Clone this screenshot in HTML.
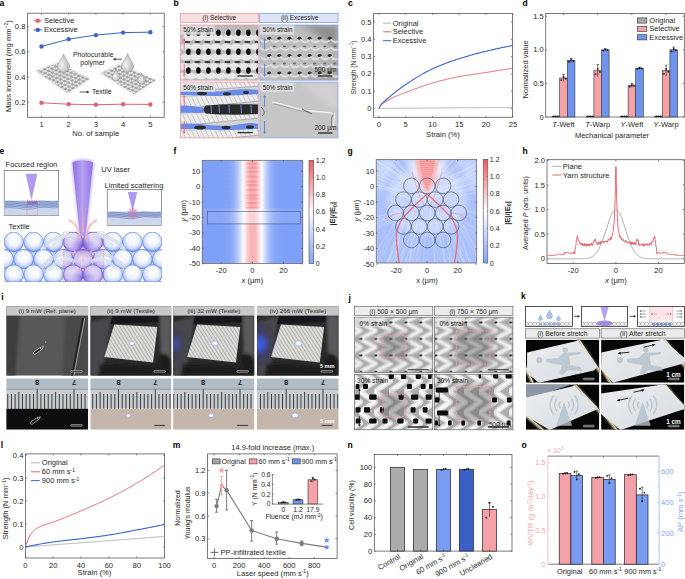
<!DOCTYPE html>
<html><head><meta charset="utf-8"><style>
html,body{margin:0;padding:0;background:#fff;width:685px;height:579px;overflow:hidden}
svg{display:block}
text{font-family:"Liberation Sans", sans-serif}
</style></head><body>
<svg width="685" height="579" viewBox="0 0 685 579">
<defs>
<pattern id="mesh" width="4.2" height="3.4" patternUnits="userSpaceOnUse" patternTransform="rotate(22) skewX(-35)">
<rect width="4.2" height="3.4" fill="#a0a0a0"/><ellipse cx="2.1" cy="1.7" rx="1.75" ry="1.3" fill="#f6f6f6"/><path d="M0,0 L4.2,3.4" stroke="#666" stroke-width="0.3"/></pattern>
<radialGradient id="drop" cx="0.35" cy="0.6" r="0.7"><stop offset="0" stop-color="#f2f2f2"/><stop offset="1" stop-color="#b0b0b0"/></radialGradient>
<filter id="blur1" x="-20%" y="-20%" width="140%" height="140%"><feGaussianBlur stdDeviation="1.2"/></filter>
<filter id="blur05"><feGaussianBlur stdDeviation="0.5"/></filter>
<clipPath id="cb1"><rect x="180.3" y="25" width="78" height="55.2"/></clipPath>
<clipPath id="cb2"><rect x="180.3" y="82.1" width="78" height="55.8"/></clipPath>
<clipPath id="cb3"><rect x="259.8" y="25" width="78.2" height="55.2"/></clipPath>
<clipPath id="cb4"><rect x="259.8" y="82.1" width="78.2" height="55.8"/></clipPath>
<filter id="bl07"><feGaussianBlur stdDeviation="0.7"/></filter>
<filter id="bl04"><feGaussianBlur stdDeviation="0.4"/></filter>
<filter id="bl15"><feGaussianBlur stdDeviation="1.5"/></filter>
<filter id="bl3"><feGaussianBlur stdDeviation="3"/></filter>
<linearGradient id="gb3" x1="0" y1="0" x2="1" y2="1"><stop offset="0" stop-color="#b8b8b8"/><stop offset="0.6" stop-color="#c0c0c0"/><stop offset="1" stop-color="#a0a0a0"/></linearGradient>
<radialGradient id="circB" cx="0.5" cy="0.42" r="0.6" fx="0.55" fy="0.35"><stop offset="0" stop-color="#ffffff"/><stop offset="0.5" stop-color="#f2f5fe"/><stop offset="0.78" stop-color="#c4d2f8"/><stop offset="0.92" stop-color="#7898ee"/><stop offset="1" stop-color="#5078e6"/></radialGradient>
<radialGradient id="circP" cx="0.5" cy="0.42" r="0.6"><stop offset="0" stop-color="#e8e2f8"/><stop offset="0.6" stop-color="#d2c8f2"/><stop offset="0.88" stop-color="#a894e8"/><stop offset="1" stop-color="#7e64dc"/></radialGradient>
<linearGradient id="coneG" x1="0" y1="0" x2="1" y2="0"><stop offset="0" stop-color="#9272e6"/><stop offset="0.5" stop-color="#b4a2f2"/><stop offset="1" stop-color="#9272e6"/></linearGradient>
<radialGradient id="glowP" cx="0.5" cy="0.5" r="0.5"><stop offset="0" stop-color="#6a40d0" stop-opacity="0.7"/><stop offset="1" stop-color="#9a80e8" stop-opacity="0"/></radialGradient>
<clipPath id="ctex"><rect x="4" y="232" width="158" height="49.6"/></clipPath>
<clipPath id="cfoc"><rect x="63.6" y="232" width="40.2" height="49.6"/></clipPath>
<linearGradient id="fTop" x1="0" y1="0" x2="1" y2="0"><stop offset="0.0000" stop-color="#7fa0f8"/><stop offset="0.0156" stop-color="#7fa0f8"/><stop offset="0.0312" stop-color="#7fa0f8"/><stop offset="0.0469" stop-color="#7fa0f8"/><stop offset="0.0625" stop-color="#7fa0f8"/><stop offset="0.0781" stop-color="#7fa0f8"/><stop offset="0.0938" stop-color="#7fa0f8"/><stop offset="0.1094" stop-color="#7fa0f8"/><stop offset="0.1250" stop-color="#7fa0f8"/><stop offset="0.1406" stop-color="#7fa0f8"/><stop offset="0.1562" stop-color="#7fa0f8"/><stop offset="0.1719" stop-color="#7fa0f8"/><stop offset="0.1875" stop-color="#7fa0f8"/><stop offset="0.2031" stop-color="#7fa0f8"/><stop offset="0.2188" stop-color="#80a1f8"/><stop offset="0.2344" stop-color="#81a1f8"/><stop offset="0.2500" stop-color="#82a2f8"/><stop offset="0.2656" stop-color="#84a4f8"/><stop offset="0.2812" stop-color="#88a7f8"/><stop offset="0.2969" stop-color="#8daaf9"/><stop offset="0.3125" stop-color="#94b0f9"/><stop offset="0.3281" stop-color="#9eb7fa"/><stop offset="0.3438" stop-color="#abc1fa"/><stop offset="0.3594" stop-color="#bbccfb"/><stop offset="0.3750" stop-color="#cddafc"/><stop offset="0.3906" stop-color="#e1e9fd"/><stop offset="0.4062" stop-color="#f6f8ff"/><stop offset="0.4219" stop-color="#fef0f1"/><stop offset="0.4375" stop-color="#fbd8da"/><stop offset="0.4531" stop-color="#fac4c7"/><stop offset="0.4688" stop-color="#f8b6b9"/><stop offset="0.4844" stop-color="#f8aeb2"/><stop offset="0.5000" stop-color="#f8acb0"/><stop offset="0.5156" stop-color="#f8aeb2"/><stop offset="0.5312" stop-color="#f8b6b9"/><stop offset="0.5469" stop-color="#fac4c7"/><stop offset="0.5625" stop-color="#fbd8da"/><stop offset="0.5781" stop-color="#fef0f1"/><stop offset="0.5938" stop-color="#f6f8ff"/><stop offset="0.6094" stop-color="#e1e9fd"/><stop offset="0.6250" stop-color="#cddafc"/><stop offset="0.6406" stop-color="#bbccfb"/><stop offset="0.6562" stop-color="#abc1fa"/><stop offset="0.6719" stop-color="#9eb7fa"/><stop offset="0.6875" stop-color="#94b0f9"/><stop offset="0.7031" stop-color="#8daaf9"/><stop offset="0.7188" stop-color="#88a7f8"/><stop offset="0.7344" stop-color="#84a4f8"/><stop offset="0.7500" stop-color="#82a2f8"/><stop offset="0.7656" stop-color="#81a1f8"/><stop offset="0.7812" stop-color="#80a1f8"/><stop offset="0.7969" stop-color="#7fa0f8"/><stop offset="0.8125" stop-color="#7fa0f8"/><stop offset="0.8281" stop-color="#7fa0f8"/><stop offset="0.8438" stop-color="#7fa0f8"/><stop offset="0.8594" stop-color="#7fa0f8"/><stop offset="0.8750" stop-color="#7fa0f8"/><stop offset="0.8906" stop-color="#7fa0f8"/><stop offset="0.9062" stop-color="#7fa0f8"/><stop offset="0.9219" stop-color="#7fa0f8"/><stop offset="0.9375" stop-color="#7fa0f8"/><stop offset="0.9531" stop-color="#7fa0f8"/><stop offset="0.9688" stop-color="#7fa0f8"/><stop offset="0.9844" stop-color="#7fa0f8"/><stop offset="1.0000" stop-color="#7fa0f8"/></linearGradient>
<linearGradient id="fTop2" x1="0" y1="0" x2="1" y2="0"><stop offset="0.0000" stop-color="#7fa0f8"/><stop offset="0.0156" stop-color="#7fa0f8"/><stop offset="0.0312" stop-color="#7fa0f8"/><stop offset="0.0469" stop-color="#7fa0f8"/><stop offset="0.0625" stop-color="#7fa0f8"/><stop offset="0.0781" stop-color="#7fa0f8"/><stop offset="0.0938" stop-color="#7fa0f8"/><stop offset="0.1094" stop-color="#7fa0f8"/><stop offset="0.1250" stop-color="#7fa0f8"/><stop offset="0.1406" stop-color="#7fa0f8"/><stop offset="0.1562" stop-color="#7fa0f8"/><stop offset="0.1719" stop-color="#7fa0f8"/><stop offset="0.1875" stop-color="#7fa0f8"/><stop offset="0.2031" stop-color="#7fa0f8"/><stop offset="0.2188" stop-color="#80a0f8"/><stop offset="0.2344" stop-color="#80a1f8"/><stop offset="0.2500" stop-color="#81a2f8"/><stop offset="0.2656" stop-color="#83a3f8"/><stop offset="0.2812" stop-color="#86a5f8"/><stop offset="0.2969" stop-color="#8ba9f9"/><stop offset="0.3125" stop-color="#92aef9"/><stop offset="0.3281" stop-color="#9cb6fa"/><stop offset="0.3438" stop-color="#a9c0fa"/><stop offset="0.3594" stop-color="#bbccfb"/><stop offset="0.3750" stop-color="#cfdbfc"/><stop offset="0.3906" stop-color="#e6edfe"/><stop offset="0.4062" stop-color="#ffffff"/><stop offset="0.4219" stop-color="#fcdfe1"/><stop offset="0.4375" stop-color="#f9c2c5"/><stop offset="0.4531" stop-color="#f7a9ad"/><stop offset="0.4688" stop-color="#f6979c"/><stop offset="0.4844" stop-color="#f58d92"/><stop offset="0.5000" stop-color="#f48a90"/><stop offset="0.5156" stop-color="#f58d92"/><stop offset="0.5312" stop-color="#f6979c"/><stop offset="0.5469" stop-color="#f7a9ad"/><stop offset="0.5625" stop-color="#f9c2c5"/><stop offset="0.5781" stop-color="#fcdfe1"/><stop offset="0.5938" stop-color="#ffffff"/><stop offset="0.6094" stop-color="#e6edfe"/><stop offset="0.6250" stop-color="#cfdbfc"/><stop offset="0.6406" stop-color="#bbccfb"/><stop offset="0.6562" stop-color="#a9c0fa"/><stop offset="0.6719" stop-color="#9cb6fa"/><stop offset="0.6875" stop-color="#92aef9"/><stop offset="0.7031" stop-color="#8ba9f9"/><stop offset="0.7188" stop-color="#86a5f8"/><stop offset="0.7344" stop-color="#83a3f8"/><stop offset="0.7500" stop-color="#81a2f8"/><stop offset="0.7656" stop-color="#80a1f8"/><stop offset="0.7812" stop-color="#80a0f8"/><stop offset="0.7969" stop-color="#7fa0f8"/><stop offset="0.8125" stop-color="#7fa0f8"/><stop offset="0.8281" stop-color="#7fa0f8"/><stop offset="0.8438" stop-color="#7fa0f8"/><stop offset="0.8594" stop-color="#7fa0f8"/><stop offset="0.8750" stop-color="#7fa0f8"/><stop offset="0.8906" stop-color="#7fa0f8"/><stop offset="0.9062" stop-color="#7fa0f8"/><stop offset="0.9219" stop-color="#7fa0f8"/><stop offset="0.9375" stop-color="#7fa0f8"/><stop offset="0.9531" stop-color="#7fa0f8"/><stop offset="0.9688" stop-color="#7fa0f8"/><stop offset="0.9844" stop-color="#7fa0f8"/><stop offset="1.0000" stop-color="#7fa0f8"/></linearGradient>
<linearGradient id="fMid" x1="0" y1="0" x2="1" y2="0"><stop offset="0.0000" stop-color="#8aa8f9"/><stop offset="0.0156" stop-color="#8aa8f9"/><stop offset="0.0312" stop-color="#8aa8f9"/><stop offset="0.0469" stop-color="#8aa8f9"/><stop offset="0.0625" stop-color="#8aa8f9"/><stop offset="0.0781" stop-color="#8aa8f9"/><stop offset="0.0938" stop-color="#8aa8f9"/><stop offset="0.1094" stop-color="#8aa8f9"/><stop offset="0.1250" stop-color="#8aa8f9"/><stop offset="0.1406" stop-color="#8aa8f9"/><stop offset="0.1562" stop-color="#8aa8f9"/><stop offset="0.1719" stop-color="#8aa8f9"/><stop offset="0.1875" stop-color="#8ba9f9"/><stop offset="0.2031" stop-color="#8ba9f9"/><stop offset="0.2188" stop-color="#8caaf9"/><stop offset="0.2344" stop-color="#8eabf9"/><stop offset="0.2500" stop-color="#90adf9"/><stop offset="0.2656" stop-color="#94aff9"/><stop offset="0.2812" stop-color="#98b3f9"/><stop offset="0.2969" stop-color="#9fb7fa"/><stop offset="0.3125" stop-color="#a7bdfa"/><stop offset="0.3281" stop-color="#b0c5fb"/><stop offset="0.3438" stop-color="#bccdfb"/><stop offset="0.3594" stop-color="#c9d7fc"/><stop offset="0.3750" stop-color="#d7e1fd"/><stop offset="0.3906" stop-color="#e6ecfe"/><stop offset="0.4062" stop-color="#f4f7fe"/><stop offset="0.4219" stop-color="#fffbfb"/><stop offset="0.4375" stop-color="#fdebec"/><stop offset="0.4531" stop-color="#fcdfe0"/><stop offset="0.4688" stop-color="#fbd6d8"/><stop offset="0.4844" stop-color="#fbd1d3"/><stop offset="0.5000" stop-color="#fbd0d2"/><stop offset="0.5156" stop-color="#fbd1d3"/><stop offset="0.5312" stop-color="#fbd6d8"/><stop offset="0.5469" stop-color="#fcdfe0"/><stop offset="0.5625" stop-color="#fdebec"/><stop offset="0.5781" stop-color="#fffbfb"/><stop offset="0.5938" stop-color="#f4f7fe"/><stop offset="0.6094" stop-color="#e6ecfe"/><stop offset="0.6250" stop-color="#d7e1fd"/><stop offset="0.6406" stop-color="#c9d7fc"/><stop offset="0.6562" stop-color="#bccdfb"/><stop offset="0.6719" stop-color="#b0c5fb"/><stop offset="0.6875" stop-color="#a7bdfa"/><stop offset="0.7031" stop-color="#9fb7fa"/><stop offset="0.7188" stop-color="#98b3f9"/><stop offset="0.7344" stop-color="#94aff9"/><stop offset="0.7500" stop-color="#90adf9"/><stop offset="0.7656" stop-color="#8eabf9"/><stop offset="0.7812" stop-color="#8caaf9"/><stop offset="0.7969" stop-color="#8ba9f9"/><stop offset="0.8125" stop-color="#8ba9f9"/><stop offset="0.8281" stop-color="#8aa8f9"/><stop offset="0.8438" stop-color="#8aa8f9"/><stop offset="0.8594" stop-color="#8aa8f9"/><stop offset="0.8750" stop-color="#8aa8f9"/><stop offset="0.8906" stop-color="#8aa8f9"/><stop offset="0.9062" stop-color="#8aa8f9"/><stop offset="0.9219" stop-color="#8aa8f9"/><stop offset="0.9375" stop-color="#8aa8f9"/><stop offset="0.9531" stop-color="#8aa8f9"/><stop offset="0.9688" stop-color="#8aa8f9"/><stop offset="0.9844" stop-color="#8aa8f9"/><stop offset="1.0000" stop-color="#8aa8f9"/></linearGradient>
<linearGradient id="fBot" x1="0" y1="0" x2="1" y2="0"><stop offset="0.0000" stop-color="#7fa0f8"/><stop offset="0.0156" stop-color="#7fa0f8"/><stop offset="0.0312" stop-color="#7fa0f8"/><stop offset="0.0469" stop-color="#7fa0f8"/><stop offset="0.0625" stop-color="#7fa0f8"/><stop offset="0.0781" stop-color="#7fa0f8"/><stop offset="0.0938" stop-color="#7fa0f8"/><stop offset="0.1094" stop-color="#7fa0f8"/><stop offset="0.1250" stop-color="#7fa0f8"/><stop offset="0.1406" stop-color="#7fa0f8"/><stop offset="0.1562" stop-color="#7fa0f8"/><stop offset="0.1719" stop-color="#7fa0f8"/><stop offset="0.1875" stop-color="#7fa0f8"/><stop offset="0.2031" stop-color="#80a0f8"/><stop offset="0.2188" stop-color="#80a1f8"/><stop offset="0.2344" stop-color="#81a2f8"/><stop offset="0.2500" stop-color="#83a3f8"/><stop offset="0.2656" stop-color="#85a5f8"/><stop offset="0.2812" stop-color="#89a8f9"/><stop offset="0.2969" stop-color="#8facf9"/><stop offset="0.3125" stop-color="#96b1f9"/><stop offset="0.3281" stop-color="#a1b9fa"/><stop offset="0.3438" stop-color="#aec3fb"/><stop offset="0.3594" stop-color="#bdcefb"/><stop offset="0.3750" stop-color="#cfdbfc"/><stop offset="0.3906" stop-color="#e2eafd"/><stop offset="0.4062" stop-color="#f6f9ff"/><stop offset="0.4219" stop-color="#fef1f2"/><stop offset="0.4375" stop-color="#fcdbdc"/><stop offset="0.4531" stop-color="#fac8cb"/><stop offset="0.4688" stop-color="#f9bbbe"/><stop offset="0.4844" stop-color="#f8b3b7"/><stop offset="0.5000" stop-color="#f8b1b5"/><stop offset="0.5156" stop-color="#f8b3b7"/><stop offset="0.5312" stop-color="#f9bbbe"/><stop offset="0.5469" stop-color="#fac8cb"/><stop offset="0.5625" stop-color="#fcdbdc"/><stop offset="0.5781" stop-color="#fef1f2"/><stop offset="0.5938" stop-color="#f6f9ff"/><stop offset="0.6094" stop-color="#e2eafd"/><stop offset="0.6250" stop-color="#cfdbfc"/><stop offset="0.6406" stop-color="#bdcefb"/><stop offset="0.6562" stop-color="#aec3fb"/><stop offset="0.6719" stop-color="#a1b9fa"/><stop offset="0.6875" stop-color="#96b1f9"/><stop offset="0.7031" stop-color="#8facf9"/><stop offset="0.7188" stop-color="#89a8f9"/><stop offset="0.7344" stop-color="#85a5f8"/><stop offset="0.7500" stop-color="#83a3f8"/><stop offset="0.7656" stop-color="#81a2f8"/><stop offset="0.7812" stop-color="#80a1f8"/><stop offset="0.7969" stop-color="#80a0f8"/><stop offset="0.8125" stop-color="#7fa0f8"/><stop offset="0.8281" stop-color="#7fa0f8"/><stop offset="0.8438" stop-color="#7fa0f8"/><stop offset="0.8594" stop-color="#7fa0f8"/><stop offset="0.8750" stop-color="#7fa0f8"/><stop offset="0.8906" stop-color="#7fa0f8"/><stop offset="0.9062" stop-color="#7fa0f8"/><stop offset="0.9219" stop-color="#7fa0f8"/><stop offset="0.9375" stop-color="#7fa0f8"/><stop offset="0.9531" stop-color="#7fa0f8"/><stop offset="0.9688" stop-color="#7fa0f8"/><stop offset="0.9844" stop-color="#7fa0f8"/><stop offset="1.0000" stop-color="#7fa0f8"/></linearGradient>
<clipPath id="cf"><rect x="202.2" y="160.3" width="100.60000000000002" height="103.19999999999999"/></clipPath>
<linearGradient id="cbf" x1="0" y1="0" x2="0" y2="1"><stop offset="0.000" stop-color="#f05860"/><stop offset="0.083" stop-color="#f2747b"/><stop offset="0.167" stop-color="#f59095"/><stop offset="0.250" stop-color="#f8acb0"/><stop offset="0.333" stop-color="#fac7ca"/><stop offset="0.417" stop-color="#fce3e4"/><stop offset="0.500" stop-color="#ffffff"/><stop offset="0.583" stop-color="#eaeffe"/><stop offset="0.667" stop-color="#d4dffd"/><stop offset="0.750" stop-color="#bfd0fc"/><stop offset="0.833" stop-color="#aac0fa"/><stop offset="0.917" stop-color="#94b0f9"/><stop offset="1.000" stop-color="#7fa0f8"/></linearGradient>
<clipPath id="cg"><rect x="376.2" y="159.4" width="100.5" height="103.6"/></clipPath>
<linearGradient id="gTop" x1="0" y1="0" x2="1" y2="0"><stop offset="0.0000" stop-color="#bbccfb"/><stop offset="0.0156" stop-color="#bbccfb"/><stop offset="0.0312" stop-color="#bbccfb"/><stop offset="0.0469" stop-color="#bbccfb"/><stop offset="0.0625" stop-color="#bbccfb"/><stop offset="0.0781" stop-color="#bbccfb"/><stop offset="0.0938" stop-color="#bbccfb"/><stop offset="0.1094" stop-color="#bbccfb"/><stop offset="0.1250" stop-color="#bbccfb"/><stop offset="0.1406" stop-color="#bbccfb"/><stop offset="0.1562" stop-color="#bbccfb"/><stop offset="0.1719" stop-color="#bbccfb"/><stop offset="0.1875" stop-color="#bbccfb"/><stop offset="0.2031" stop-color="#bbccfb"/><stop offset="0.2188" stop-color="#bbccfb"/><stop offset="0.2344" stop-color="#bbccfb"/><stop offset="0.2500" stop-color="#bbccfb"/><stop offset="0.2656" stop-color="#bbccfb"/><stop offset="0.2812" stop-color="#bbccfb"/><stop offset="0.2969" stop-color="#bbcdfb"/><stop offset="0.3125" stop-color="#bccdfb"/><stop offset="0.3281" stop-color="#bdcefb"/><stop offset="0.3438" stop-color="#c0d1fc"/><stop offset="0.3594" stop-color="#c7d5fc"/><stop offset="0.3750" stop-color="#d3defd"/><stop offset="0.3906" stop-color="#e6ecfe"/><stop offset="0.4062" stop-color="#fffdfd"/><stop offset="0.4219" stop-color="#fbd0d2"/><stop offset="0.4375" stop-color="#f69ea2"/><stop offset="0.4531" stop-color="#f26d74"/><stop offset="0.4688" stop-color="#f05860"/><stop offset="0.4844" stop-color="#f05860"/><stop offset="0.5000" stop-color="#f05860"/><stop offset="0.5156" stop-color="#f05860"/><stop offset="0.5312" stop-color="#f05860"/><stop offset="0.5469" stop-color="#f26d74"/><stop offset="0.5625" stop-color="#f69ea2"/><stop offset="0.5781" stop-color="#fbd0d2"/><stop offset="0.5938" stop-color="#fffdfd"/><stop offset="0.6094" stop-color="#e6ecfe"/><stop offset="0.6250" stop-color="#d3defd"/><stop offset="0.6406" stop-color="#c7d5fc"/><stop offset="0.6562" stop-color="#c0d1fc"/><stop offset="0.6719" stop-color="#bdcefb"/><stop offset="0.6875" stop-color="#bccdfb"/><stop offset="0.7031" stop-color="#bbcdfb"/><stop offset="0.7188" stop-color="#bbccfb"/><stop offset="0.7344" stop-color="#bbccfb"/><stop offset="0.7500" stop-color="#bbccfb"/><stop offset="0.7656" stop-color="#bbccfb"/><stop offset="0.7812" stop-color="#bbccfb"/><stop offset="0.7969" stop-color="#bbccfb"/><stop offset="0.8125" stop-color="#bbccfb"/><stop offset="0.8281" stop-color="#bbccfb"/><stop offset="0.8438" stop-color="#bbccfb"/><stop offset="0.8594" stop-color="#bbccfb"/><stop offset="0.8750" stop-color="#bbccfb"/><stop offset="0.8906" stop-color="#bbccfb"/><stop offset="0.9062" stop-color="#bbccfb"/><stop offset="0.9219" stop-color="#bbccfb"/><stop offset="0.9375" stop-color="#bbccfb"/><stop offset="0.9531" stop-color="#bbccfb"/><stop offset="0.9688" stop-color="#bbccfb"/><stop offset="0.9844" stop-color="#bbccfb"/><stop offset="1.0000" stop-color="#bbccfb"/></linearGradient>
<linearGradient id="cbg" x1="0" y1="0" x2="0" y2="1"><stop offset="0.000" stop-color="#f05860"/><stop offset="0.083" stop-color="#f2747b"/><stop offset="0.167" stop-color="#f59095"/><stop offset="0.250" stop-color="#f8acb0"/><stop offset="0.333" stop-color="#fac7ca"/><stop offset="0.417" stop-color="#fce3e4"/><stop offset="0.500" stop-color="#ffffff"/><stop offset="0.583" stop-color="#eaeffe"/><stop offset="0.667" stop-color="#d4dffd"/><stop offset="0.750" stop-color="#bfd0fc"/><stop offset="0.833" stop-color="#aac0fa"/><stop offset="0.917" stop-color="#94b0f9"/><stop offset="1.000" stop-color="#7fa0f8"/></linearGradient>
<radialGradient id="spot" cx="0.5" cy="0.5" r="0.5"><stop offset="0" stop-color="#ffffff"/><stop offset="0.45" stop-color="#f4f6ff"/><stop offset="0.7" stop-color="#b0c0ff" stop-opacity="0.55"/><stop offset="1" stop-color="#8090ff" stop-opacity="0"/></radialGradient>
<radialGradient id="bglow" cx="0" cy="0.5" r="0.9"><stop offset="0" stop-color="#3a58ff" stop-opacity="0.95"/><stop offset="0.5" stop-color="#2838c0" stop-opacity="0.5"/><stop offset="1" stop-color="#1a1a60" stop-opacity="0"/></radialGradient>
<pattern id="tstripe" width="3.0" height="3.0" patternUnits="userSpaceOnUse" patternTransform="rotate(-32)"><rect width="3.0" height="3.0" fill="#dcdcd8"/><rect width="0.9" height="3.0" fill="#acaca8"/></pattern>
<clipPath id="ci0a"><rect x="6.2" y="306.2" width="82.0" height="69.5"/></clipPath>
<clipPath id="ci0b"><rect x="6.2" y="378.3" width="82.0" height="51.4"/></clipPath>
<clipPath id="ci1a"><rect x="90.3" y="306.2" width="81.10000000000001" height="69.5"/></clipPath>
<clipPath id="ci1b"><rect x="90.3" y="378.3" width="81.10000000000001" height="51.4"/></clipPath>
<clipPath id="ci2a"><rect x="173.1" y="306.2" width="81.30000000000001" height="69.5"/></clipPath>
<clipPath id="ci2b"><rect x="173.1" y="378.3" width="81.30000000000001" height="51.4"/></clipPath>
<clipPath id="ci3a"><rect x="257.0" y="306.2" width="81.69999999999999" height="69.5"/></clipPath>
<clipPath id="ci3b"><rect x="257.0" y="378.3" width="81.69999999999999" height="51.4"/></clipPath>
<pattern id="chev" width="15" height="16.5" patternUnits="userSpaceOnUse" x="359.4" y="330.7">
<rect width="15" height="16.5" fill="#a8a8a8"/>
<g fill="none" stroke-linecap="round">
<path d="M16,0 L1,8.25 L16,16.5" stroke="#d2d2d2" stroke-width="5.5"/>
<path d="M16,0 L1,8.25 L16,16.5" stroke="#efefef" stroke-width="2.6"/>
<path d="M1,0 L-14,8.25 L1,16.5" stroke="#d2d2d2" stroke-width="5.5"/>
<path d="M1,0 L-14,8.25 L1,16.5" stroke="#efefef" stroke-width="2.6"/>
<path d="M16,4 L6,8.25 L16,12.5" stroke="#bdbdbd" stroke-width="1.2"/>
</g>
<ellipse cx="1.5" cy="8.25" rx="1.6" ry="1.1" fill="#333"/>
</pattern>
<pattern id="chev2" width="15" height="21" patternUnits="userSpaceOnUse" x="359" y="381">
<rect width="15" height="21" fill="#acacac"/>
<g fill="none" stroke-linecap="round">
<path d="M16,0 L1,10.5 L16,21" stroke="#dcdcdc" stroke-width="6"/>
<path d="M16,0 L1,10.5 L16,21" stroke="#f6f6f6" stroke-width="3"/>
<path d="M1,0 L-14,10.5 L1,21" stroke="#dcdcdc" stroke-width="6"/>
<path d="M1,0 L-14,10.5 L1,21" stroke="#f6f6f6" stroke-width="3"/>
</g>
</pattern>
<filter id="bl06"><feGaussianBlur stdDeviation="0.5"/></filter>
<clipPath id="cj00"><rect x="354.6" y="317.2" width="78.19999999999999" height="55.19999999999999"/></clipPath>
<clipPath id="cj01"><rect x="434.4" y="317.2" width="78.5" height="55.19999999999999"/></clipPath>
<clipPath id="cj10"><rect x="354.6" y="374.2" width="78.19999999999999" height="55.60000000000002"/></clipPath>
<clipPath id="cj11"><rect x="434.4" y="374.2" width="78.5" height="55.60000000000002"/></clipPath>
<clipPath id="ks0"><rect x="525.5" y="306.3" width="47.10000000000002" height="20"/></clipPath>
<clipPath id="ks1"><rect x="581.3" y="306.3" width="46.40000000000009" height="20"/></clipPath>
<clipPath id="ks2"><rect x="637.7" y="306.3" width="46.59999999999991" height="20"/></clipPath>
<linearGradient id="fab" x1="0" y1="0" x2="1" y2="1"><stop offset="0" stop-color="#eceef0"/><stop offset="0.5" stop-color="#e2e5e8"/><stop offset="1" stop-color="#d6dadf"/></linearGradient>
<linearGradient id="rod" x1="0" y1="0" x2="1" y2="0"><stop offset="0" stop-color="#6a5a3a"/><stop offset="0.4" stop-color="#f0e8d0"/><stop offset="1" stop-color="#5a4a30"/></linearGradient>
<clipPath id="ck00"><rect x="526.0" y="339.7" width="73.29999999999995" height="43.0"/></clipPath>
<clipPath id="ck01"><rect x="601.1" y="339.7" width="83.19999999999993" height="43.0"/></clipPath>
<clipPath id="ck10"><rect x="526.0" y="384.4" width="73.29999999999995" height="45.400000000000034"/></clipPath>
<clipPath id="ck11"><rect x="601.1" y="384.4" width="83.19999999999993" height="45.400000000000034"/></clipPath>
</defs>
<rect width="685" height="579" fill="#fff"/>
<text x="-0.60" y="6.30" font-size="8.5" text-anchor="start" fill="#000" font-weight="bold">a</text>
<polygon points="35,71 58,62 91,79 68,94" fill="#f3c9cc" filter="url(#blur1)" opacity="0.7"/>
<polygon points="36,71 58,63 90,79 68,93" fill="url(#mesh)" opacity="0.95"/>
<polygon points="100,73 120,64 157,80 134,95" fill="#c9d3f0" filter="url(#blur1)" opacity="0.7"/>
<polygon points="101,73 120,65 156,80 134,94" fill="url(#mesh)" opacity="0.95"/>
<path d="M63.60,54.00 C66.00,60.00 69.60,63.60 69.60,66.00 A6.00,6.00 0 0 1 57.60,66.00 C57.60,63.60 61.20,60.00 63.60,54.00Z" fill="url(#drop)" stroke="#8a8a8a" stroke-width="0.5"/>
<path d="M127.60,53.40 C130.00,59.70 133.60,63.60 133.60,66.00 A6.00,6.00 0 0 1 121.60,66.00 C121.60,63.60 125.20,59.70 127.60,53.40Z" fill="url(#drop)" stroke="#8a8a8a" stroke-width="0.5"/>
<path d="M116.00,69.00 C117.60,73.00 120.00,75.40 120.00,77.00 A4.00,4.00 0 0 1 112.00,77.00 C112.00,75.40 114.40,73.00 116.00,69.00Z" fill="url(#drop)" stroke="#8a8a8a" stroke-width="0.5"/>
<path d="M141.60,73.60 C143.20,76.80 145.60,78.40 145.60,80.00 A4.00,4.00 0 0 1 137.60,80.00 C137.60,78.40 140.00,76.80 141.60,73.60Z" fill="url(#drop)" stroke="#8a8a8a" stroke-width="0.5"/>
<text x="93.20" y="57.30" font-size="6.9" text-anchor="middle" fill="#262626" font-weight="normal">Photocurable</text>
<text x="92.60" y="64.60" font-size="6.9" text-anchor="middle" fill="#262626" font-weight="normal">polymer</text>
<line x1="122.00" y1="59.20" x2="114.50" y2="59.20" stroke="#111" stroke-width="0.7"/>
<path d="M113,59.2 L115.5,57.9 L115.5,60.5Z" fill="#111"/>
<text x="92.00" y="94.40" font-size="6.9" text-anchor="start" fill="#262626" font-weight="normal">Textile</text>
<line x1="79.60" y1="92.00" x2="88.00" y2="92.00" stroke="#111" stroke-width="0.7"/>
<path d="M89.5,92 L87,90.7 L87,93.3Z" fill="#111"/>
<rect x="27.40" y="13.20" width="136.80" height="104.10" fill="none" stroke="#5a5a5a" stroke-width="0.8"/>
<line x1="27.40" y1="102.30" x2="28.90" y2="102.30" stroke="#5a5a5a" stroke-width="0.8"/>
<line x1="164.20" y1="102.30" x2="162.70" y2="102.30" stroke="#5a5a5a" stroke-width="0.8"/>
<text x="25.40" y="104.80" font-size="7.6" text-anchor="end" fill="#262626" font-weight="normal">0.2</text>
<line x1="27.40" y1="77.04" x2="28.90" y2="77.04" stroke="#5a5a5a" stroke-width="0.8"/>
<line x1="164.20" y1="77.04" x2="162.70" y2="77.04" stroke="#5a5a5a" stroke-width="0.8"/>
<text x="25.40" y="79.54" font-size="7.6" text-anchor="end" fill="#262626" font-weight="normal">0.4</text>
<line x1="27.40" y1="51.78" x2="28.90" y2="51.78" stroke="#5a5a5a" stroke-width="0.8"/>
<line x1="164.20" y1="51.78" x2="162.70" y2="51.78" stroke="#5a5a5a" stroke-width="0.8"/>
<text x="25.40" y="54.28" font-size="7.6" text-anchor="end" fill="#262626" font-weight="normal">0.6</text>
<line x1="27.40" y1="26.52" x2="28.90" y2="26.52" stroke="#5a5a5a" stroke-width="0.8"/>
<line x1="164.20" y1="26.52" x2="162.70" y2="26.52" stroke="#5a5a5a" stroke-width="0.8"/>
<text x="25.40" y="29.02" font-size="7.6" text-anchor="end" fill="#262626" font-weight="normal">0.8</text>
<line x1="41.50" y1="117.30" x2="41.50" y2="115.80" stroke="#5a5a5a" stroke-width="0.8"/>
<line x1="41.50" y1="13.20" x2="41.50" y2="14.70" stroke="#5a5a5a" stroke-width="0.8"/>
<text x="41.50" y="126.90" font-size="7.6" text-anchor="middle" fill="#262626" font-weight="normal">1</text>
<line x1="68.70" y1="117.30" x2="68.70" y2="115.80" stroke="#5a5a5a" stroke-width="0.8"/>
<line x1="68.70" y1="13.20" x2="68.70" y2="14.70" stroke="#5a5a5a" stroke-width="0.8"/>
<text x="68.70" y="126.90" font-size="7.6" text-anchor="middle" fill="#262626" font-weight="normal">2</text>
<line x1="95.90" y1="117.30" x2="95.90" y2="115.80" stroke="#5a5a5a" stroke-width="0.8"/>
<line x1="95.90" y1="13.20" x2="95.90" y2="14.70" stroke="#5a5a5a" stroke-width="0.8"/>
<text x="95.90" y="126.90" font-size="7.6" text-anchor="middle" fill="#262626" font-weight="normal">3</text>
<line x1="123.10" y1="117.30" x2="123.10" y2="115.80" stroke="#5a5a5a" stroke-width="0.8"/>
<line x1="123.10" y1="13.20" x2="123.10" y2="14.70" stroke="#5a5a5a" stroke-width="0.8"/>
<text x="123.10" y="126.90" font-size="7.6" text-anchor="middle" fill="#262626" font-weight="normal">4</text>
<line x1="150.30" y1="117.30" x2="150.30" y2="115.80" stroke="#5a5a5a" stroke-width="0.8"/>
<line x1="150.30" y1="13.20" x2="150.30" y2="14.70" stroke="#5a5a5a" stroke-width="0.8"/>
<text x="150.30" y="126.90" font-size="7.6" text-anchor="middle" fill="#262626" font-weight="normal">5</text>
<text x="95.80" y="135.60" font-size="7.6" text-anchor="middle" fill="#262626" font-weight="normal">No. of sample</text>
<text x="10.80" y="66.10" font-size="7.6" text-anchor="middle" fill="#262626" font-weight="normal" transform="rotate(-90 10.8 66.1)">Mass increment (mg mm<tspan dy="-2.5" font-size="5">−2</tspan><tspan dy="2.5">)</tspan></text>
<polyline points="41.50,102.81 68.70,104.19 95.90,104.70 123.10,104.19 150.30,104.45" fill="none" stroke="#e0646e" stroke-width="1.0" stroke-linejoin="round"/>
<polyline points="41.50,46.48 68.70,39.15 95.90,35.11 123.10,32.58 150.30,32.20" fill="none" stroke="#3c62d0" stroke-width="1.0" stroke-linejoin="round"/>
<circle cx="41.50" cy="102.81" r="2.2" fill="#e0646e"/>
<circle cx="68.70" cy="104.19" r="2.2" fill="#e0646e"/>
<circle cx="95.90" cy="104.70" r="2.2" fill="#e0646e"/>
<circle cx="123.10" cy="104.19" r="2.2" fill="#e0646e"/>
<circle cx="150.30" cy="104.45" r="2.2" fill="#e0646e"/>
<circle cx="41.50" cy="46.48" r="2.2" fill="#3c62d0"/>
<circle cx="68.70" cy="39.15" r="2.2" fill="#3c62d0"/>
<circle cx="95.90" cy="35.11" r="2.2" fill="#3c62d0"/>
<circle cx="123.10" cy="32.58" r="2.2" fill="#3c62d0"/>
<circle cx="150.30" cy="32.20" r="2.2" fill="#3c62d0"/>
<line x1="33.50" y1="20.80" x2="42.00" y2="20.80" stroke="#e0646e" stroke-width="1.0"/>
<circle cx="37.8" cy="20.8" r="2.2" fill="#e0646e"/>
<line x1="33.50" y1="29.90" x2="42.00" y2="29.90" stroke="#3c62d0" stroke-width="1.0"/>
<circle cx="37.8" cy="29.9" r="2.2" fill="#3c62d0"/>
<text x="44.00" y="23.30" font-size="7.5" text-anchor="start" fill="#262626" font-weight="normal">Selective</text>
<text x="44.00" y="32.40" font-size="7.5" text-anchor="start" fill="#262626" font-weight="normal">Excessive</text>
<text x="348.00" y="6.30" font-size="8.5" text-anchor="start" fill="#000" font-weight="bold">c</text>
<rect x="373.60" y="13.40" width="138.80" height="103.90" fill="none" stroke="#5a5a5a" stroke-width="0.8"/>
<line x1="373.60" y1="108.40" x2="375.10" y2="108.40" stroke="#5a5a5a" stroke-width="0.8"/>
<line x1="512.40" y1="108.40" x2="510.90" y2="108.40" stroke="#5a5a5a" stroke-width="0.8"/>
<text x="371.60" y="110.90" font-size="7.6" text-anchor="end" fill="#262626" font-weight="normal">0</text>
<line x1="373.60" y1="91.12" x2="375.10" y2="91.12" stroke="#5a5a5a" stroke-width="0.8"/>
<line x1="512.40" y1="91.12" x2="510.90" y2="91.12" stroke="#5a5a5a" stroke-width="0.8"/>
<text x="371.60" y="93.62" font-size="7.6" text-anchor="end" fill="#262626" font-weight="normal">0.1</text>
<line x1="373.60" y1="73.84" x2="375.10" y2="73.84" stroke="#5a5a5a" stroke-width="0.8"/>
<line x1="512.40" y1="73.84" x2="510.90" y2="73.84" stroke="#5a5a5a" stroke-width="0.8"/>
<text x="371.60" y="76.34" font-size="7.6" text-anchor="end" fill="#262626" font-weight="normal">0.2</text>
<line x1="373.60" y1="56.56" x2="375.10" y2="56.56" stroke="#5a5a5a" stroke-width="0.8"/>
<line x1="512.40" y1="56.56" x2="510.90" y2="56.56" stroke="#5a5a5a" stroke-width="0.8"/>
<text x="371.60" y="59.06" font-size="7.6" text-anchor="end" fill="#262626" font-weight="normal">0.3</text>
<line x1="373.60" y1="39.28" x2="375.10" y2="39.28" stroke="#5a5a5a" stroke-width="0.8"/>
<line x1="512.40" y1="39.28" x2="510.90" y2="39.28" stroke="#5a5a5a" stroke-width="0.8"/>
<text x="371.60" y="41.78" font-size="7.6" text-anchor="end" fill="#262626" font-weight="normal">0.4</text>
<line x1="373.60" y1="22.00" x2="375.10" y2="22.00" stroke="#5a5a5a" stroke-width="0.8"/>
<line x1="512.40" y1="22.00" x2="510.90" y2="22.00" stroke="#5a5a5a" stroke-width="0.8"/>
<text x="371.60" y="24.50" font-size="7.6" text-anchor="end" fill="#262626" font-weight="normal">0.5</text>
<line x1="378.90" y1="117.30" x2="378.90" y2="115.80" stroke="#5a5a5a" stroke-width="0.8"/>
<line x1="378.90" y1="13.40" x2="378.90" y2="14.90" stroke="#5a5a5a" stroke-width="0.8"/>
<text x="378.90" y="126.90" font-size="7.6" text-anchor="middle" fill="#262626" font-weight="normal">0</text>
<line x1="405.70" y1="117.30" x2="405.70" y2="115.80" stroke="#5a5a5a" stroke-width="0.8"/>
<line x1="405.70" y1="13.40" x2="405.70" y2="14.90" stroke="#5a5a5a" stroke-width="0.8"/>
<text x="405.70" y="126.90" font-size="7.6" text-anchor="middle" fill="#262626" font-weight="normal">5</text>
<line x1="432.50" y1="117.30" x2="432.50" y2="115.80" stroke="#5a5a5a" stroke-width="0.8"/>
<line x1="432.50" y1="13.40" x2="432.50" y2="14.90" stroke="#5a5a5a" stroke-width="0.8"/>
<text x="432.50" y="126.90" font-size="7.6" text-anchor="middle" fill="#262626" font-weight="normal">10</text>
<line x1="459.30" y1="117.30" x2="459.30" y2="115.80" stroke="#5a5a5a" stroke-width="0.8"/>
<line x1="459.30" y1="13.40" x2="459.30" y2="14.90" stroke="#5a5a5a" stroke-width="0.8"/>
<text x="459.30" y="126.90" font-size="7.6" text-anchor="middle" fill="#262626" font-weight="normal">15</text>
<line x1="486.10" y1="117.30" x2="486.10" y2="115.80" stroke="#5a5a5a" stroke-width="0.8"/>
<line x1="486.10" y1="13.40" x2="486.10" y2="14.90" stroke="#5a5a5a" stroke-width="0.8"/>
<text x="486.10" y="126.90" font-size="7.6" text-anchor="middle" fill="#262626" font-weight="normal">20</text>
<line x1="512.90" y1="117.30" x2="512.90" y2="115.80" stroke="#5a5a5a" stroke-width="0.8"/>
<line x1="512.90" y1="13.40" x2="512.90" y2="14.90" stroke="#5a5a5a" stroke-width="0.8"/>
<text x="512.90" y="126.90" font-size="7.6" text-anchor="middle" fill="#262626" font-weight="normal">25</text>
<text x="443.00" y="137.00" font-size="7.6" text-anchor="middle" fill="#262626" font-weight="normal">Strain (%)</text>
<text x="355.50" y="67.50" font-size="6.6" text-anchor="middle" fill="#262626" font-weight="normal" transform="rotate(-90 355.5 67.5)">Strength (N mm<tspan dy="-2.5" font-size="4.6">−1</tspan><tspan dy="2.5">)</tspan></text>
<polyline points="378.90,108.40 379.74,108.39 380.59,108.39 381.43,108.38 382.27,108.37 383.11,108.37 383.96,108.36 384.80,108.35 385.64,108.35 386.48,108.34 387.33,108.33 388.17,108.33 389.01,108.32 389.86,108.32 390.70,108.31 391.54,108.30 392.38,108.30 393.23,108.29 394.07,108.28 394.91,108.28 395.76,108.27 396.60,108.26 397.44,108.26 398.28,108.25 399.13,108.24 399.97,108.24 400.81,108.23 401.65,108.22 402.50,108.22 403.34,108.21 404.18,108.20 405.03,108.20 405.87,108.19 406.71,108.18 407.55,108.18 408.40,108.17 409.24,108.17 410.08,108.16 410.93,108.15 411.77,108.15 412.61,108.14 413.45,108.13 414.30,108.13 415.14,108.12 415.98,108.11 416.82,108.11 417.67,108.10 418.51,108.09 419.35,108.09 420.20,108.08 421.04,108.07 421.88,108.07 422.72,108.06 423.57,108.05 424.41,108.05 425.25,108.04 426.09,108.03 426.94,108.03 427.78,108.02 428.62,108.02 429.47,108.01 430.31,108.00 431.15,108.00 431.99,107.99 432.84,107.98 433.68,107.98 434.52,107.97 435.37,107.96 436.21,107.96 437.05,107.95 437.89,107.94 438.74,107.94 439.58,107.93 440.42,107.92 441.26,107.92 442.11,107.91 442.95,107.90 443.79,107.90 444.64,107.89 445.48,107.88 446.32,107.88 447.16,107.87 448.01,107.87 448.85,107.86 449.69,107.85 450.54,107.85 451.38,107.84 452.22,107.83 453.06,107.83 453.91,107.82 454.75,107.81 455.59,107.81 456.43,107.80 457.28,107.79 458.12,107.79 458.96,107.78 459.81,107.77 460.65,107.77 461.49,107.76 462.33,107.75 463.18,107.75 464.02,107.74 464.86,107.73 465.71,107.73 466.55,107.72 467.39,107.72 468.23,107.71 469.08,107.70 469.92,107.70 470.76,107.69 471.60,107.68 472.45,107.68 473.29,107.67 474.13,107.66 474.98,107.66 475.82,107.65 476.66,107.64 477.50,107.64 478.35,107.63 479.19,107.62 480.03,107.62 480.87,107.61 481.72,107.60 482.56,107.60 483.40,107.59 484.25,107.58 485.09,107.58 485.93,107.57 486.77,107.57 487.62,107.56 488.46,107.55 489.30,107.55 490.15,107.54 490.99,107.53 491.83,107.53 492.67,107.52 493.52,107.51 494.36,107.51 495.20,107.50 496.04,107.49 496.89,107.49 497.73,107.48 498.57,107.47 499.42,107.47 500.26,107.46 501.10,107.45 501.94,107.45 502.79,107.44 503.63,107.43 504.47,107.43 505.32,107.42 506.16,107.42 507.00,107.41 507.84,107.40 508.69,107.40 509.53,107.39 510.37,107.38 511.21,107.38 512.06,107.37 512.90,107.36" fill="none" stroke="#b4b4b4" stroke-width="1.0" stroke-linejoin="round"/>
<polyline points="378.90,108.40 379.74,106.98 380.59,105.74 381.43,104.75 382.27,104.01 383.11,103.43 383.96,102.89 384.80,102.34 385.64,101.79 386.48,101.24 387.33,100.70 388.17,100.17 389.01,99.66 389.86,99.17 390.70,98.69 391.54,98.24 392.38,97.82 393.23,97.42 394.07,97.03 394.91,96.66 395.76,96.29 396.60,95.94 397.44,95.60 398.28,95.27 399.13,94.95 399.97,94.63 400.81,94.31 401.65,94.00 402.50,93.69 403.34,93.38 404.18,93.07 405.03,92.76 405.87,92.44 406.71,92.12 407.55,91.80 408.40,91.48 409.24,91.16 410.08,90.83 410.93,90.51 411.77,90.19 412.61,89.87 413.45,89.55 414.30,89.23 415.14,88.91 415.98,88.59 416.82,88.28 417.67,87.97 418.51,87.65 419.35,87.35 420.20,87.04 421.04,86.74 421.88,86.44 422.72,86.14 423.57,85.84 424.41,85.55 425.25,85.27 426.09,84.98 426.94,84.71 427.78,84.43 428.62,84.17 429.47,83.90 430.31,83.64 431.15,83.39 431.99,83.14 432.84,82.90 433.68,82.66 434.52,82.43 435.37,82.19 436.21,81.96 437.05,81.73 437.89,81.51 438.74,81.28 439.58,81.06 440.42,80.84 441.26,80.62 442.11,80.41 442.95,80.20 443.79,79.99 444.64,79.78 445.48,79.58 446.32,79.37 447.16,79.17 448.01,78.98 448.85,78.78 449.69,78.59 450.54,78.40 451.38,78.22 452.22,78.03 453.06,77.85 453.91,77.68 454.75,77.50 455.59,77.33 456.43,77.16 457.28,76.99 458.12,76.83 458.96,76.67 459.81,76.51 460.65,76.36 461.49,76.21 462.33,76.06 463.18,75.91 464.02,75.77 464.86,75.63 465.71,75.49 466.55,75.36 467.39,75.23 468.23,75.10 469.08,74.97 469.92,74.84 470.76,74.72 471.60,74.59 472.45,74.47 473.29,74.35 474.13,74.22 474.98,74.10 475.82,73.98 476.66,73.86 477.50,73.74 478.35,73.62 479.19,73.50 480.03,73.37 480.87,73.25 481.72,73.13 482.56,73.00 483.40,72.87 484.25,72.75 485.09,72.62 485.93,72.48 486.77,72.35 487.62,72.22 488.46,72.08 489.30,71.95 490.15,71.82 490.99,71.68 491.83,71.55 492.67,71.41 493.52,71.28 494.36,71.14 495.20,71.01 496.04,70.88 496.89,70.74 497.73,70.60 498.57,70.47 499.42,70.33 500.26,70.20 501.10,70.06 501.94,69.92 502.79,69.79 503.63,69.65 504.47,69.51 505.32,69.38 506.16,69.24 507.00,69.10 507.84,68.97 508.69,68.83 509.53,68.69 510.37,68.55 511.21,68.41 512.06,68.28 512.90,68.14" fill="none" stroke="#e0646e" stroke-width="1.0" stroke-linejoin="round"/>
<polyline points="378.90,108.40 379.74,106.74 380.59,105.29 381.43,104.09 382.27,103.18 383.11,102.44 383.96,101.75 384.80,101.01 385.64,100.27 386.48,99.52 387.33,98.78 388.17,98.05 389.01,97.32 389.86,96.60 390.70,95.89 391.54,95.19 392.38,94.51 393.23,93.83 394.07,93.16 394.91,92.49 395.76,91.83 396.60,91.17 397.44,90.52 398.28,89.88 399.13,89.24 399.97,88.61 400.81,87.98 401.65,87.37 402.50,86.76 403.34,86.17 404.18,85.58 405.03,85.01 405.87,84.44 406.71,83.88 407.55,83.32 408.40,82.77 409.24,82.21 410.08,81.66 410.93,81.11 411.77,80.57 412.61,80.03 413.45,79.49 414.30,78.96 415.14,78.43 415.98,77.90 416.82,77.38 417.67,76.87 418.51,76.36 419.35,75.85 420.20,75.35 421.04,74.86 421.88,74.37 422.72,73.89 423.57,73.41 424.41,72.95 425.25,72.48 426.09,72.03 426.94,71.58 427.78,71.14 428.62,70.71 429.47,70.29 430.31,69.87 431.15,69.46 431.99,69.06 432.84,68.67 433.68,68.29 434.52,67.91 435.37,67.54 436.21,67.17 437.05,66.80 437.89,66.45 438.74,66.09 439.58,65.74 440.42,65.40 441.26,65.06 442.11,64.72 442.95,64.39 443.79,64.06 444.64,63.74 445.48,63.42 446.32,63.10 447.16,62.79 448.01,62.48 448.85,62.18 449.69,61.87 450.54,61.57 451.38,61.28 452.22,60.99 453.06,60.70 453.91,60.41 454.75,60.13 455.59,59.84 456.43,59.57 457.28,59.29 458.12,59.01 458.96,58.74 459.81,58.47 460.65,58.20 461.49,57.94 462.33,57.68 463.18,57.42 464.02,57.16 464.86,56.91 465.71,56.65 466.55,56.40 467.39,56.16 468.23,55.91 469.08,55.67 469.92,55.43 470.76,55.19 471.60,54.95 472.45,54.72 473.29,54.49 474.13,54.26 474.98,54.03 475.82,53.81 476.66,53.58 477.50,53.36 478.35,53.14 479.19,52.92 480.03,52.71 480.87,52.49 481.72,52.28 482.56,52.07 483.40,51.86 484.25,51.65 485.09,51.45 485.93,51.24 486.77,51.04 487.62,50.84 488.46,50.64 489.30,50.44 490.15,50.24 490.99,50.05 491.83,49.85 492.67,49.66 493.52,49.47 494.36,49.28 495.20,49.09 496.04,48.90 496.89,48.72 497.73,48.53 498.57,48.35 499.42,48.17 500.26,47.99 501.10,47.81 501.94,47.63 502.79,47.46 503.63,47.29 504.47,47.12 505.32,46.95 506.16,46.78 507.00,46.61 507.84,46.45 508.69,46.29 509.53,46.12 510.37,45.97 511.21,45.81 512.06,45.65 512.90,45.50" fill="none" stroke="#3c62d0" stroke-width="1.1" stroke-linejoin="round"/>
<line x1="383.10" y1="23.10" x2="391.20" y2="23.10" stroke="#b4b4b4" stroke-width="1.0"/>
<text x="392.70" y="25.60" font-size="7.5" text-anchor="start" fill="#262626" font-weight="normal">Original</text>
<line x1="383.10" y1="31.80" x2="391.20" y2="31.80" stroke="#e0646e" stroke-width="1.0"/>
<text x="392.70" y="34.30" font-size="7.5" text-anchor="start" fill="#262626" font-weight="normal">Selective</text>
<line x1="383.10" y1="40.70" x2="391.20" y2="40.70" stroke="#3c62d0" stroke-width="1.0"/>
<text x="392.70" y="43.20" font-size="7.5" text-anchor="start" fill="#262626" font-weight="normal">Excessive</text>
<text x="522.50" y="6.30" font-size="8.5" text-anchor="start" fill="#000" font-weight="bold">d</text>
<rect x="545.70" y="13.50" width="138.60" height="103.50" fill="none" stroke="#5a5a5a" stroke-width="0.8"/>
<line x1="545.70" y1="117.00" x2="547.20" y2="117.00" stroke="#5a5a5a" stroke-width="0.8"/>
<line x1="684.30" y1="117.00" x2="682.80" y2="117.00" stroke="#5a5a5a" stroke-width="0.8"/>
<text x="543.70" y="119.50" font-size="7.6" text-anchor="end" fill="#262626" font-weight="normal">0</text>
<line x1="545.70" y1="83.40" x2="547.20" y2="83.40" stroke="#5a5a5a" stroke-width="0.8"/>
<line x1="684.30" y1="83.40" x2="682.80" y2="83.40" stroke="#5a5a5a" stroke-width="0.8"/>
<text x="543.70" y="85.90" font-size="7.6" text-anchor="end" fill="#262626" font-weight="normal">0.5</text>
<line x1="545.70" y1="49.80" x2="547.20" y2="49.80" stroke="#5a5a5a" stroke-width="0.8"/>
<line x1="684.30" y1="49.80" x2="682.80" y2="49.80" stroke="#5a5a5a" stroke-width="0.8"/>
<text x="543.70" y="52.30" font-size="7.6" text-anchor="end" fill="#262626" font-weight="normal">1.0</text>
<line x1="545.70" y1="16.20" x2="547.20" y2="16.20" stroke="#5a5a5a" stroke-width="0.8"/>
<line x1="684.30" y1="16.20" x2="682.80" y2="16.20" stroke="#5a5a5a" stroke-width="0.8"/>
<text x="543.70" y="18.70" font-size="7.6" text-anchor="end" fill="#262626" font-weight="normal">1.5</text>
<line x1="563.50" y1="117.00" x2="563.50" y2="115.50" stroke="#5a5a5a" stroke-width="0.8"/>
<line x1="563.50" y1="13.50" x2="563.50" y2="15.00" stroke="#5a5a5a" stroke-width="0.8"/>
<rect x="552.10" y="116.19" width="7.60" height="0.81" fill="#a8a8a8" stroke="#333" stroke-width="0.6"/>
<rect x="559.70" y="78.02" width="7.60" height="38.98" fill="#f4a2a8" stroke="#333" stroke-width="0.6"/>
<rect x="567.30" y="60.55" width="7.60" height="56.45" fill="#6e94ee" stroke="#333" stroke-width="0.6"/>
<line x1="563.50" y1="81.38" x2="563.50" y2="74.66" stroke="#222" stroke-width="0.6"/>
<line x1="562.20" y1="74.66" x2="564.80" y2="74.66" stroke="#222" stroke-width="0.6"/>
<circle cx="561.30" cy="80.04" r="0.9" fill="#111"/>
<circle cx="563.50" cy="77.02" r="0.9" fill="#111"/>
<circle cx="565.70" cy="78.70" r="0.9" fill="#111"/>
<line x1="571.10" y1="62.57" x2="571.10" y2="58.54" stroke="#222" stroke-width="0.6"/>
<line x1="569.80" y1="58.54" x2="572.40" y2="58.54" stroke="#222" stroke-width="0.6"/>
<circle cx="568.90" cy="61.76" r="0.9" fill="#111"/>
<circle cx="571.10" cy="59.95" r="0.9" fill="#111"/>
<circle cx="573.30" cy="60.96" r="0.9" fill="#111"/>
<circle cx="553.70" cy="116.33" r="0.8" fill="#111"/>
<circle cx="555.90" cy="116.33" r="0.8" fill="#111"/>
<circle cx="558.10" cy="116.33" r="0.8" fill="#111"/>
<text x="563.50" y="127.40" font-size="7.5" text-anchor="middle" fill="#262626" font-weight="normal"><tspan font-style="italic">T</tspan>-Weft</text>
<line x1="597.70" y1="117.00" x2="597.70" y2="115.50" stroke="#5a5a5a" stroke-width="0.8"/>
<line x1="597.70" y1="13.50" x2="597.70" y2="15.00" stroke="#5a5a5a" stroke-width="0.8"/>
<rect x="586.30" y="116.19" width="7.60" height="0.81" fill="#a8a8a8" stroke="#333" stroke-width="0.6"/>
<rect x="593.90" y="70.63" width="7.60" height="46.37" fill="#f4a2a8" stroke="#333" stroke-width="0.6"/>
<rect x="601.50" y="49.80" width="7.60" height="67.20" fill="#6e94ee" stroke="#333" stroke-width="0.6"/>
<line x1="597.70" y1="76.68" x2="597.70" y2="64.58" stroke="#222" stroke-width="0.6"/>
<line x1="596.40" y1="64.58" x2="599.00" y2="64.58" stroke="#222" stroke-width="0.6"/>
<circle cx="595.50" cy="74.26" r="0.9" fill="#111"/>
<circle cx="597.70" cy="68.82" r="0.9" fill="#111"/>
<circle cx="599.90" cy="71.84" r="0.9" fill="#111"/>
<line x1="605.30" y1="51.14" x2="605.30" y2="48.46" stroke="#222" stroke-width="0.6"/>
<line x1="604.00" y1="48.46" x2="606.60" y2="48.46" stroke="#222" stroke-width="0.6"/>
<circle cx="603.10" cy="50.61" r="0.9" fill="#111"/>
<circle cx="605.30" cy="49.40" r="0.9" fill="#111"/>
<circle cx="607.50" cy="50.07" r="0.9" fill="#111"/>
<circle cx="587.90" cy="116.33" r="0.8" fill="#111"/>
<circle cx="590.10" cy="116.33" r="0.8" fill="#111"/>
<circle cx="592.30" cy="116.33" r="0.8" fill="#111"/>
<text x="597.70" y="127.40" font-size="7.5" text-anchor="middle" fill="#262626" font-weight="normal"><tspan font-style="italic">T</tspan>-Warp</text>
<line x1="631.90" y1="117.00" x2="631.90" y2="115.50" stroke="#5a5a5a" stroke-width="0.8"/>
<line x1="631.90" y1="13.50" x2="631.90" y2="15.00" stroke="#5a5a5a" stroke-width="0.8"/>
<rect x="620.50" y="116.19" width="7.60" height="0.81" fill="#a8a8a8" stroke="#333" stroke-width="0.6"/>
<rect x="628.10" y="85.42" width="7.60" height="31.58" fill="#f4a2a8" stroke="#333" stroke-width="0.6"/>
<rect x="635.70" y="68.28" width="7.60" height="48.72" fill="#6e94ee" stroke="#333" stroke-width="0.6"/>
<line x1="631.90" y1="87.43" x2="631.90" y2="83.40" stroke="#222" stroke-width="0.6"/>
<line x1="630.60" y1="83.40" x2="633.20" y2="83.40" stroke="#222" stroke-width="0.6"/>
<circle cx="629.70" cy="86.63" r="0.9" fill="#111"/>
<circle cx="631.90" cy="84.81" r="0.9" fill="#111"/>
<circle cx="634.10" cy="85.82" r="0.9" fill="#111"/>
<line x1="639.50" y1="69.29" x2="639.50" y2="67.27" stroke="#222" stroke-width="0.6"/>
<line x1="638.20" y1="67.27" x2="640.80" y2="67.27" stroke="#222" stroke-width="0.6"/>
<circle cx="637.30" cy="68.88" r="0.9" fill="#111"/>
<circle cx="639.50" cy="67.98" r="0.9" fill="#111"/>
<circle cx="641.70" cy="68.48" r="0.9" fill="#111"/>
<circle cx="622.10" cy="116.33" r="0.8" fill="#111"/>
<circle cx="624.30" cy="116.33" r="0.8" fill="#111"/>
<circle cx="626.50" cy="116.33" r="0.8" fill="#111"/>
<text x="631.90" y="127.40" font-size="7.5" text-anchor="middle" fill="#262626" font-weight="normal"><tspan font-style="italic">Y</tspan>-Weft</text>
<line x1="666.10" y1="117.00" x2="666.10" y2="115.50" stroke="#5a5a5a" stroke-width="0.8"/>
<line x1="666.10" y1="13.50" x2="666.10" y2="15.00" stroke="#5a5a5a" stroke-width="0.8"/>
<rect x="654.70" y="116.19" width="7.60" height="0.81" fill="#a8a8a8" stroke="#333" stroke-width="0.6"/>
<rect x="662.30" y="70.63" width="7.60" height="46.37" fill="#f4a2a8" stroke="#333" stroke-width="0.6"/>
<rect x="669.90" y="49.80" width="7.60" height="67.20" fill="#6e94ee" stroke="#333" stroke-width="0.6"/>
<line x1="666.10" y1="76.01" x2="666.10" y2="65.26" stroke="#222" stroke-width="0.6"/>
<line x1="664.80" y1="65.26" x2="667.40" y2="65.26" stroke="#222" stroke-width="0.6"/>
<circle cx="663.90" cy="73.86" r="0.9" fill="#111"/>
<circle cx="666.10" cy="69.02" r="0.9" fill="#111"/>
<circle cx="668.30" cy="71.71" r="0.9" fill="#111"/>
<line x1="673.70" y1="52.49" x2="673.70" y2="47.11" stroke="#222" stroke-width="0.6"/>
<line x1="672.40" y1="47.11" x2="675.00" y2="47.11" stroke="#222" stroke-width="0.6"/>
<circle cx="671.50" cy="51.41" r="0.9" fill="#111"/>
<circle cx="673.70" cy="48.99" r="0.9" fill="#111"/>
<circle cx="675.90" cy="50.34" r="0.9" fill="#111"/>
<circle cx="656.30" cy="116.33" r="0.8" fill="#111"/>
<circle cx="658.50" cy="116.33" r="0.8" fill="#111"/>
<circle cx="660.70" cy="116.33" r="0.8" fill="#111"/>
<text x="666.10" y="127.40" font-size="7.5" text-anchor="middle" fill="#262626" font-weight="normal"><tspan font-style="italic">Y</tspan>-Warp</text>
<text x="612.00" y="137.80" font-size="7.5" text-anchor="middle" fill="#262626" font-weight="normal">Mechanical parameter</text>
<text x="528.20" y="69.40" font-size="7.5" text-anchor="middle" fill="#262626" font-weight="normal" transform="rotate(-90 528.2 69.4)">Normalized value</text>
<rect x="637.30" y="17.90" width="9.50" height="5.20" fill="#a8a8a8" stroke="#333" stroke-width="0.6"/>
<text x="649.30" y="23.00" font-size="7.5" text-anchor="start" fill="#262626" font-weight="normal">Original</text>
<rect x="637.30" y="26.30" width="9.50" height="5.20" fill="#f4a2a8" stroke="#333" stroke-width="0.6"/>
<text x="649.30" y="31.40" font-size="7.5" text-anchor="start" fill="#262626" font-weight="normal">Selective</text>
<rect x="637.30" y="34.70" width="9.50" height="5.20" fill="#6e94ee" stroke="#333" stroke-width="0.6"/>
<text x="649.30" y="39.80" font-size="7.5" text-anchor="start" fill="#262626" font-weight="normal">Excessive</text>
<text x="173.50" y="6.30" font-size="8.5" text-anchor="start" fill="#000" font-weight="bold">b</text>
<rect x="180.30" y="13.40" width="78.00" height="9.00" fill="#f7dfe2" stroke="#e59aa3" stroke-width="0.8"/>
<text x="219.30" y="20.30" font-size="6.4" text-anchor="middle" fill="#262626" font-weight="normal">(i) Selective</text>
<rect x="259.60" y="13.40" width="78.40" height="9.00" fill="#dfe5f6" stroke="#7e9be0" stroke-width="0.8"/>
<text x="299.80" y="20.30" font-size="6.4" text-anchor="middle" fill="#262626" font-weight="normal">(ii) Excessive</text>
<g clip-path="url(#cb1)">
<rect x="180.30" y="25.00" width="78.00" height="55.20" fill="#bababa" stroke="none" stroke-width="0.8"/>
<g filter="url(#bl07)">
<ellipse cx="188.5" cy="37.5" rx="5.4" ry="3.6" fill="#e8e8e8"/>
<ellipse cx="198.5" cy="37.5" rx="5.4" ry="3.6" fill="#e8e8e8"/>
<ellipse cx="208.5" cy="37.5" rx="5.4" ry="3.6" fill="#e8e8e8"/>
<ellipse cx="218.5" cy="37.5" rx="5.4" ry="3.6" fill="#e8e8e8"/>
<ellipse cx="228.5" cy="37.5" rx="5.4" ry="3.6" fill="#e8e8e8"/>
<ellipse cx="238.5" cy="37.5" rx="5.4" ry="3.6" fill="#e8e8e8"/>
<ellipse cx="248.5" cy="37.5" rx="5.4" ry="3.6" fill="#e8e8e8"/>
<ellipse cx="258.5" cy="37.5" rx="5.4" ry="3.6" fill="#e8e8e8"/>
<ellipse cx="268.5" cy="37.5" rx="5.4" ry="3.6" fill="#e8e8e8"/>
<ellipse cx="186.0" cy="47.0" rx="5.4" ry="3.6" fill="#e8e8e8"/>
<ellipse cx="196.0" cy="47.0" rx="5.4" ry="3.6" fill="#e8e8e8"/>
<ellipse cx="206.0" cy="47.0" rx="5.4" ry="3.6" fill="#e8e8e8"/>
<ellipse cx="216.0" cy="47.0" rx="5.4" ry="3.6" fill="#e8e8e8"/>
<ellipse cx="226.0" cy="47.0" rx="5.4" ry="3.6" fill="#e8e8e8"/>
<ellipse cx="236.0" cy="47.0" rx="5.4" ry="3.6" fill="#e8e8e8"/>
<ellipse cx="246.0" cy="47.0" rx="5.4" ry="3.6" fill="#e8e8e8"/>
<ellipse cx="256.0" cy="47.0" rx="5.4" ry="3.6" fill="#e8e8e8"/>
<ellipse cx="266.0" cy="47.0" rx="5.4" ry="3.6" fill="#e8e8e8"/>
<ellipse cx="186.0" cy="57.0" rx="5.4" ry="3.6" fill="#e8e8e8"/>
<ellipse cx="196.0" cy="57.0" rx="5.4" ry="3.6" fill="#e8e8e8"/>
<ellipse cx="206.0" cy="57.0" rx="5.4" ry="3.6" fill="#e8e8e8"/>
<ellipse cx="216.0" cy="57.0" rx="5.4" ry="3.6" fill="#e8e8e8"/>
<ellipse cx="226.0" cy="57.0" rx="5.4" ry="3.6" fill="#e8e8e8"/>
<ellipse cx="236.0" cy="57.0" rx="5.4" ry="3.6" fill="#e8e8e8"/>
<ellipse cx="246.0" cy="57.0" rx="5.4" ry="3.6" fill="#e8e8e8"/>
<ellipse cx="256.0" cy="57.0" rx="5.4" ry="3.6" fill="#e8e8e8"/>
<ellipse cx="266.0" cy="57.0" rx="5.4" ry="3.6" fill="#e8e8e8"/>
<ellipse cx="183.5" cy="66.5" rx="5.4" ry="3.6" fill="#e8e8e8"/>
<ellipse cx="193.5" cy="66.5" rx="5.4" ry="3.6" fill="#e8e8e8"/>
<ellipse cx="203.5" cy="66.5" rx="5.4" ry="3.6" fill="#e8e8e8"/>
<ellipse cx="213.5" cy="66.5" rx="5.4" ry="3.6" fill="#e8e8e8"/>
<ellipse cx="223.5" cy="66.5" rx="5.4" ry="3.6" fill="#e8e8e8"/>
<ellipse cx="233.5" cy="66.5" rx="5.4" ry="3.6" fill="#e8e8e8"/>
<ellipse cx="243.5" cy="66.5" rx="5.4" ry="3.6" fill="#e8e8e8"/>
<ellipse cx="253.5" cy="66.5" rx="5.4" ry="3.6" fill="#e8e8e8"/>
<ellipse cx="263.5" cy="66.5" rx="5.4" ry="3.6" fill="#e8e8e8"/>
<ellipse cx="181.0" cy="76.0" rx="5.4" ry="3.6" fill="#e8e8e8"/>
<ellipse cx="191.0" cy="76.0" rx="5.4" ry="3.6" fill="#e8e8e8"/>
<ellipse cx="201.0" cy="76.0" rx="5.4" ry="3.6" fill="#e8e8e8"/>
<ellipse cx="211.0" cy="76.0" rx="5.4" ry="3.6" fill="#e8e8e8"/>
<ellipse cx="221.0" cy="76.0" rx="5.4" ry="3.6" fill="#e8e8e8"/>
<ellipse cx="231.0" cy="76.0" rx="5.4" ry="3.6" fill="#e8e8e8"/>
<ellipse cx="241.0" cy="76.0" rx="5.4" ry="3.6" fill="#e8e8e8"/>
<ellipse cx="251.0" cy="76.0" rx="5.4" ry="3.6" fill="#e8e8e8"/>
<ellipse cx="261.0" cy="76.0" rx="5.4" ry="3.6" fill="#e8e8e8"/>
<ellipse cx="188.4" cy="32.8" rx="2.3" ry="3.2" fill="#111"/>
<ellipse cx="198.4" cy="32.8" rx="2.3" ry="3.2" fill="#111"/>
<ellipse cx="208.4" cy="32.8" rx="2.3" ry="3.2" fill="#111"/>
<ellipse cx="218.4" cy="32.8" rx="2.3" ry="3.2" fill="#111"/>
<ellipse cx="228.4" cy="32.8" rx="2.3" ry="3.2" fill="#111"/>
<ellipse cx="238.4" cy="32.8" rx="2.3" ry="3.2" fill="#111"/>
<ellipse cx="248.4" cy="32.8" rx="2.3" ry="3.2" fill="#111"/>
<ellipse cx="258.4" cy="32.8" rx="2.3" ry="3.2" fill="#111"/>
<ellipse cx="268.4" cy="32.8" rx="2.3" ry="3.2" fill="#111"/>
<ellipse cx="187.4" cy="42.0" rx="3.2" ry="1.0" fill="#333"/>
<ellipse cx="197.4" cy="42.0" rx="3.2" ry="1.0" fill="#333"/>
<ellipse cx="207.4" cy="42.0" rx="3.2" ry="1.0" fill="#333"/>
<ellipse cx="217.4" cy="42.0" rx="3.2" ry="1.0" fill="#333"/>
<ellipse cx="227.4" cy="42.0" rx="3.2" ry="1.0" fill="#333"/>
<ellipse cx="237.4" cy="42.0" rx="3.2" ry="1.0" fill="#333"/>
<ellipse cx="247.4" cy="42.0" rx="3.2" ry="1.0" fill="#333"/>
<ellipse cx="257.4" cy="42.0" rx="3.2" ry="1.0" fill="#333"/>
<ellipse cx="267.4" cy="42.0" rx="3.2" ry="1.0" fill="#333"/>
<ellipse cx="188.4" cy="51.8" rx="2.3" ry="3.2" fill="#111"/>
<ellipse cx="198.4" cy="51.8" rx="2.3" ry="3.2" fill="#111"/>
<ellipse cx="208.4" cy="51.8" rx="2.3" ry="3.2" fill="#111"/>
<ellipse cx="218.4" cy="51.8" rx="2.3" ry="3.2" fill="#111"/>
<ellipse cx="228.4" cy="51.8" rx="2.3" ry="3.2" fill="#111"/>
<ellipse cx="238.4" cy="51.8" rx="2.3" ry="3.2" fill="#111"/>
<ellipse cx="248.4" cy="51.8" rx="2.3" ry="3.2" fill="#111"/>
<ellipse cx="258.4" cy="51.8" rx="2.3" ry="3.2" fill="#111"/>
<ellipse cx="268.4" cy="51.8" rx="2.3" ry="3.2" fill="#111"/>
<ellipse cx="187.4" cy="62.0" rx="3.2" ry="1.0" fill="#333"/>
<ellipse cx="197.4" cy="62.0" rx="3.2" ry="1.0" fill="#333"/>
<ellipse cx="207.4" cy="62.0" rx="3.2" ry="1.0" fill="#333"/>
<ellipse cx="217.4" cy="62.0" rx="3.2" ry="1.0" fill="#333"/>
<ellipse cx="227.4" cy="62.0" rx="3.2" ry="1.0" fill="#333"/>
<ellipse cx="237.4" cy="62.0" rx="3.2" ry="1.0" fill="#333"/>
<ellipse cx="247.4" cy="62.0" rx="3.2" ry="1.0" fill="#333"/>
<ellipse cx="257.4" cy="62.0" rx="3.2" ry="1.0" fill="#333"/>
<ellipse cx="267.4" cy="62.0" rx="3.2" ry="1.0" fill="#333"/>
<ellipse cx="188.4" cy="70.5" rx="2.3" ry="3.2" fill="#111"/>
<ellipse cx="198.4" cy="70.5" rx="2.3" ry="3.2" fill="#111"/>
<ellipse cx="208.4" cy="70.5" rx="2.3" ry="3.2" fill="#111"/>
<ellipse cx="218.4" cy="70.5" rx="2.3" ry="3.2" fill="#111"/>
<ellipse cx="228.4" cy="70.5" rx="2.3" ry="3.2" fill="#111"/>
<ellipse cx="238.4" cy="70.5" rx="2.3" ry="3.2" fill="#111"/>
<ellipse cx="248.4" cy="70.5" rx="2.3" ry="3.2" fill="#111"/>
<ellipse cx="258.4" cy="70.5" rx="2.3" ry="3.2" fill="#111"/>
<ellipse cx="268.4" cy="70.5" rx="2.3" ry="3.2" fill="#111"/>
</g></g>
<g clip-path="url(#cb2)">
<rect x="180.30" y="82.10" width="78.00" height="55.80" fill="#d4d4d4" stroke="none" stroke-width="0.8"/>
<g filter="url(#bl04)">
<path d="M178,81 L260,75 L260,86 L178,92Z" fill="#ececec"/>
<path d="M160.0,82.3 l5,10" stroke="#9a9a9a" stroke-width="0.45"/>
<path d="M164.5,82.0 l5,10" stroke="#9a9a9a" stroke-width="0.45"/>
<path d="M169.0,81.7 l5,10" stroke="#9a9a9a" stroke-width="0.45"/>
<path d="M173.5,81.3 l5,10" stroke="#9a9a9a" stroke-width="0.45"/>
<path d="M178.0,81.0 l5,10" stroke="#9a9a9a" stroke-width="0.45"/>
<path d="M182.5,80.7 l5,10" stroke="#9a9a9a" stroke-width="0.45"/>
<path d="M187.0,80.3 l5,10" stroke="#9a9a9a" stroke-width="0.45"/>
<path d="M191.5,80.0 l5,10" stroke="#9a9a9a" stroke-width="0.45"/>
<path d="M196.0,79.7 l5,10" stroke="#9a9a9a" stroke-width="0.45"/>
<path d="M200.5,79.4 l5,10" stroke="#9a9a9a" stroke-width="0.45"/>
<path d="M205.0,79.0 l5,10" stroke="#9a9a9a" stroke-width="0.45"/>
<path d="M209.5,78.7 l5,10" stroke="#9a9a9a" stroke-width="0.45"/>
<path d="M214.0,78.4 l5,10" stroke="#9a9a9a" stroke-width="0.45"/>
<path d="M218.5,78.0 l5,10" stroke="#9a9a9a" stroke-width="0.45"/>
<path d="M223.0,77.7 l5,10" stroke="#9a9a9a" stroke-width="0.45"/>
<path d="M227.5,77.4 l5,10" stroke="#9a9a9a" stroke-width="0.45"/>
<path d="M232.0,77.0 l5,10" stroke="#9a9a9a" stroke-width="0.45"/>
<path d="M236.5,76.7 l5,10" stroke="#9a9a9a" stroke-width="0.45"/>
<path d="M241.0,76.4 l5,10" stroke="#9a9a9a" stroke-width="0.45"/>
<path d="M245.5,76.1 l5,10" stroke="#9a9a9a" stroke-width="0.45"/>
<path d="M250.0,75.7 l5,10" stroke="#9a9a9a" stroke-width="0.45"/>
<path d="M254.5,75.4 l5,10" stroke="#9a9a9a" stroke-width="0.45"/>
<path d="M259.0,75.1 l5,10" stroke="#9a9a9a" stroke-width="0.45"/>
<path d="M263.5,74.7 l5,10" stroke="#9a9a9a" stroke-width="0.45"/>
<path d="M268.0,74.4 l5,10" stroke="#9a9a9a" stroke-width="0.45"/>
<path d="M272.5,74.1 l5,10" stroke="#9a9a9a" stroke-width="0.45"/>
<path d="M178,92 L260,86" stroke="#888" stroke-width="0.6"/>
<path d="M178,98 L260,90 L260,101 L178,109Z" fill="#ececec"/>
<path d="M160.0,99.8 l5,10" stroke="#9a9a9a" stroke-width="0.45"/>
<path d="M164.5,99.3 l5,10" stroke="#9a9a9a" stroke-width="0.45"/>
<path d="M169.0,98.9 l5,10" stroke="#9a9a9a" stroke-width="0.45"/>
<path d="M173.5,98.4 l5,10" stroke="#9a9a9a" stroke-width="0.45"/>
<path d="M178.0,98.0 l5,10" stroke="#9a9a9a" stroke-width="0.45"/>
<path d="M182.5,97.6 l5,10" stroke="#9a9a9a" stroke-width="0.45"/>
<path d="M187.0,97.1 l5,10" stroke="#9a9a9a" stroke-width="0.45"/>
<path d="M191.5,96.7 l5,10" stroke="#9a9a9a" stroke-width="0.45"/>
<path d="M196.0,96.2 l5,10" stroke="#9a9a9a" stroke-width="0.45"/>
<path d="M200.5,95.8 l5,10" stroke="#9a9a9a" stroke-width="0.45"/>
<path d="M205.0,95.4 l5,10" stroke="#9a9a9a" stroke-width="0.45"/>
<path d="M209.5,94.9 l5,10" stroke="#9a9a9a" stroke-width="0.45"/>
<path d="M214.0,94.5 l5,10" stroke="#9a9a9a" stroke-width="0.45"/>
<path d="M218.5,94.0 l5,10" stroke="#9a9a9a" stroke-width="0.45"/>
<path d="M223.0,93.6 l5,10" stroke="#9a9a9a" stroke-width="0.45"/>
<path d="M227.5,93.2 l5,10" stroke="#9a9a9a" stroke-width="0.45"/>
<path d="M232.0,92.7 l5,10" stroke="#9a9a9a" stroke-width="0.45"/>
<path d="M236.5,92.3 l5,10" stroke="#9a9a9a" stroke-width="0.45"/>
<path d="M241.0,91.9 l5,10" stroke="#9a9a9a" stroke-width="0.45"/>
<path d="M245.5,91.4 l5,10" stroke="#9a9a9a" stroke-width="0.45"/>
<path d="M250.0,91.0 l5,10" stroke="#9a9a9a" stroke-width="0.45"/>
<path d="M254.5,90.5 l5,10" stroke="#9a9a9a" stroke-width="0.45"/>
<path d="M259.0,90.1 l5,10" stroke="#9a9a9a" stroke-width="0.45"/>
<path d="M263.5,89.7 l5,10" stroke="#9a9a9a" stroke-width="0.45"/>
<path d="M268.0,89.2 l5,10" stroke="#9a9a9a" stroke-width="0.45"/>
<path d="M272.5,88.8 l5,10" stroke="#9a9a9a" stroke-width="0.45"/>
<path d="M178,109 L260,101" stroke="#888" stroke-width="0.6"/>
<path d="M178,115 L260,107 L260,118 L178,126Z" fill="#ececec"/>
<path d="M160.0,116.8 l5,10" stroke="#9a9a9a" stroke-width="0.45"/>
<path d="M164.5,116.3 l5,10" stroke="#9a9a9a" stroke-width="0.45"/>
<path d="M169.0,115.9 l5,10" stroke="#9a9a9a" stroke-width="0.45"/>
<path d="M173.5,115.4 l5,10" stroke="#9a9a9a" stroke-width="0.45"/>
<path d="M178.0,115.0 l5,10" stroke="#9a9a9a" stroke-width="0.45"/>
<path d="M182.5,114.6 l5,10" stroke="#9a9a9a" stroke-width="0.45"/>
<path d="M187.0,114.1 l5,10" stroke="#9a9a9a" stroke-width="0.45"/>
<path d="M191.5,113.7 l5,10" stroke="#9a9a9a" stroke-width="0.45"/>
<path d="M196.0,113.2 l5,10" stroke="#9a9a9a" stroke-width="0.45"/>
<path d="M200.5,112.8 l5,10" stroke="#9a9a9a" stroke-width="0.45"/>
<path d="M205.0,112.4 l5,10" stroke="#9a9a9a" stroke-width="0.45"/>
<path d="M209.5,111.9 l5,10" stroke="#9a9a9a" stroke-width="0.45"/>
<path d="M214.0,111.5 l5,10" stroke="#9a9a9a" stroke-width="0.45"/>
<path d="M218.5,111.0 l5,10" stroke="#9a9a9a" stroke-width="0.45"/>
<path d="M223.0,110.6 l5,10" stroke="#9a9a9a" stroke-width="0.45"/>
<path d="M227.5,110.2 l5,10" stroke="#9a9a9a" stroke-width="0.45"/>
<path d="M232.0,109.7 l5,10" stroke="#9a9a9a" stroke-width="0.45"/>
<path d="M236.5,109.3 l5,10" stroke="#9a9a9a" stroke-width="0.45"/>
<path d="M241.0,108.9 l5,10" stroke="#9a9a9a" stroke-width="0.45"/>
<path d="M245.5,108.4 l5,10" stroke="#9a9a9a" stroke-width="0.45"/>
<path d="M250.0,108.0 l5,10" stroke="#9a9a9a" stroke-width="0.45"/>
<path d="M254.5,107.5 l5,10" stroke="#9a9a9a" stroke-width="0.45"/>
<path d="M259.0,107.1 l5,10" stroke="#9a9a9a" stroke-width="0.45"/>
<path d="M263.5,106.7 l5,10" stroke="#9a9a9a" stroke-width="0.45"/>
<path d="M268.0,106.2 l5,10" stroke="#9a9a9a" stroke-width="0.45"/>
<path d="M272.5,105.8 l5,10" stroke="#9a9a9a" stroke-width="0.45"/>
<path d="M178,126 L260,118" stroke="#888" stroke-width="0.6"/>
<path d="M178,132 L260,124 L260,135 L178,143Z" fill="#ececec"/>
<path d="M160.0,133.8 l5,10" stroke="#9a9a9a" stroke-width="0.45"/>
<path d="M164.5,133.3 l5,10" stroke="#9a9a9a" stroke-width="0.45"/>
<path d="M169.0,132.9 l5,10" stroke="#9a9a9a" stroke-width="0.45"/>
<path d="M173.5,132.4 l5,10" stroke="#9a9a9a" stroke-width="0.45"/>
<path d="M178.0,132.0 l5,10" stroke="#9a9a9a" stroke-width="0.45"/>
<path d="M182.5,131.6 l5,10" stroke="#9a9a9a" stroke-width="0.45"/>
<path d="M187.0,131.1 l5,10" stroke="#9a9a9a" stroke-width="0.45"/>
<path d="M191.5,130.7 l5,10" stroke="#9a9a9a" stroke-width="0.45"/>
<path d="M196.0,130.2 l5,10" stroke="#9a9a9a" stroke-width="0.45"/>
<path d="M200.5,129.8 l5,10" stroke="#9a9a9a" stroke-width="0.45"/>
<path d="M205.0,129.4 l5,10" stroke="#9a9a9a" stroke-width="0.45"/>
<path d="M209.5,128.9 l5,10" stroke="#9a9a9a" stroke-width="0.45"/>
<path d="M214.0,128.5 l5,10" stroke="#9a9a9a" stroke-width="0.45"/>
<path d="M218.5,128.0 l5,10" stroke="#9a9a9a" stroke-width="0.45"/>
<path d="M223.0,127.6 l5,10" stroke="#9a9a9a" stroke-width="0.45"/>
<path d="M227.5,127.2 l5,10" stroke="#9a9a9a" stroke-width="0.45"/>
<path d="M232.0,126.7 l5,10" stroke="#9a9a9a" stroke-width="0.45"/>
<path d="M236.5,126.3 l5,10" stroke="#9a9a9a" stroke-width="0.45"/>
<path d="M241.0,125.9 l5,10" stroke="#9a9a9a" stroke-width="0.45"/>
<path d="M245.5,125.4 l5,10" stroke="#9a9a9a" stroke-width="0.45"/>
<path d="M250.0,125.0 l5,10" stroke="#9a9a9a" stroke-width="0.45"/>
<path d="M254.5,124.5 l5,10" stroke="#9a9a9a" stroke-width="0.45"/>
<path d="M259.0,124.1 l5,10" stroke="#9a9a9a" stroke-width="0.45"/>
<path d="M263.5,123.7 l5,10" stroke="#9a9a9a" stroke-width="0.45"/>
<path d="M268.0,123.2 l5,10" stroke="#9a9a9a" stroke-width="0.45"/>
<path d="M272.5,122.8 l5,10" stroke="#9a9a9a" stroke-width="0.45"/>
<path d="M178,143 L260,135" stroke="#888" stroke-width="0.6"/>
<path d="M180,91 C195,89 210,93 225,91 S245,89 259,90 L259,94 C245,95 230,96 215,96 S190,95 180,95Z" fill="#6a8ce8"/>
<path d="M180,106 C190,104 200,108 208,108 L208,112 C198,114 190,112 180,113Z" fill="#6a8ce8"/>
<path d="M180,124 C200,122 215,128 235,125 S250,123 259,124 L259,129 C245,129 230,131 215,130 S190,129 180,129Z" fill="#6a8ce8"/>
<ellipse cx="202" cy="93.5" rx="5" ry="1.8" fill="#2a2a2a"/>
<ellipse cx="227" cy="93.8" rx="4" ry="1.6" fill="#2a2a2a"/>
<ellipse cx="246" cy="92.5" rx="3" ry="1.4" fill="#2a2a2a"/>
<ellipse cx="200" cy="127.5" rx="6" ry="2" fill="#2a2a2a"/>
<ellipse cx="226" cy="127.5" rx="4.5" ry="1.8" fill="#2a2a2a"/>
<ellipse cx="250" cy="127" rx="4" ry="1.8" fill="#2a2a2a"/>
<path d="M206,105.5 C220,104 240,104 259,104.5 L259,114 C240,115 220,115 206,113.5 C203,110 203,108 206,105.5Z" fill="#2c2c2c"/>
<path d="M211,105 l0.4,8" stroke="#6a8ce8" stroke-width="1.0"/>
<path d="M219,105 l0.4,8" stroke="#6a8ce8" stroke-width="1.0"/>
<path d="M229,105 l0.4,8" stroke="#6a8ce8" stroke-width="1.0"/>
<path d="M241,105 l0.4,8" stroke="#6a8ce8" stroke-width="1.0"/>
<path d="M251,105 l0.4,8" stroke="#6a8ce8" stroke-width="1.0"/>
</g></g>
<g clip-path="url(#cb3)">
<rect x="259.80" y="25.00" width="78.20" height="55.20" fill="url(#gb3)" stroke="none" stroke-width="0.8"/>
<path d="M300,25 L338,25 L338,50 C325,40 315,32 300,25Z" fill="#8f8f8f" filter="url(#bl3)"/>
<g filter="url(#bl07)">
<ellipse cx="269.3" cy="38.3" rx="2.1" ry="1.5" fill="#2a2a2a"/>
<ellipse cx="279.4" cy="38.3" rx="2.1" ry="1.5" fill="#2a2a2a"/>
<ellipse cx="289.5" cy="38.3" rx="2.1" ry="1.5" fill="#2a2a2a"/>
<ellipse cx="299.6" cy="38.3" rx="2.1" ry="1.5" fill="#2a2a2a"/>
<ellipse cx="309.7" cy="38.3" rx="2.1" ry="1.5" fill="#2a2a2a"/>
<ellipse cx="319.8" cy="38.3" rx="2.1" ry="1.5" fill="#2a2a2a"/>
<ellipse cx="329.9" cy="38.3" rx="2.1" ry="1.5" fill="#2a2a2a"/>
<ellipse cx="340.0" cy="38.3" rx="2.1" ry="1.5" fill="#2a2a2a"/>
<path d="M260.0,39.3 Q264.0,44.3 269.0,40.3" stroke="#dadada" stroke-width="2.2" fill="none" opacity="0.8"/>
<path d="M260.0,39.3 Q264.0,44.3 269.0,40.3" stroke="#eeeeee" stroke-width="0.8" fill="none" opacity="0.8"/>
<path d="M270.1,39.3 Q274.1,44.3 279.1,40.3" stroke="#dadada" stroke-width="2.2" fill="none" opacity="0.8"/>
<path d="M270.1,39.3 Q274.1,44.3 279.1,40.3" stroke="#eeeeee" stroke-width="0.8" fill="none" opacity="0.8"/>
<path d="M280.2,39.3 Q284.2,44.3 289.2,40.3" stroke="#dadada" stroke-width="2.2" fill="none" opacity="0.8"/>
<path d="M280.2,39.3 Q284.2,44.3 289.2,40.3" stroke="#eeeeee" stroke-width="0.8" fill="none" opacity="0.8"/>
<path d="M290.3,39.3 Q294.3,44.3 299.3,40.3" stroke="#dadada" stroke-width="2.2" fill="none" opacity="0.8"/>
<path d="M290.3,39.3 Q294.3,44.3 299.3,40.3" stroke="#eeeeee" stroke-width="0.8" fill="none" opacity="0.8"/>
<path d="M300.4,39.3 Q304.4,44.3 309.4,40.3" stroke="#dadada" stroke-width="2.2" fill="none" opacity="0.8"/>
<path d="M300.4,39.3 Q304.4,44.3 309.4,40.3" stroke="#eeeeee" stroke-width="0.8" fill="none" opacity="0.8"/>
<path d="M310.5,39.3 Q314.5,44.3 319.5,40.3" stroke="#dadada" stroke-width="2.2" fill="none" opacity="0.8"/>
<path d="M310.5,39.3 Q314.5,44.3 319.5,40.3" stroke="#eeeeee" stroke-width="0.8" fill="none" opacity="0.8"/>
<path d="M320.6,39.3 Q324.6,44.3 329.6,40.3" stroke="#dadada" stroke-width="2.2" fill="none" opacity="0.8"/>
<path d="M320.6,39.3 Q324.6,44.3 329.6,40.3" stroke="#eeeeee" stroke-width="0.8" fill="none" opacity="0.8"/>
<path d="M330.7,39.3 Q334.7,44.3 339.7,40.3" stroke="#dadada" stroke-width="2.2" fill="none" opacity="0.8"/>
<path d="M330.7,39.3 Q334.7,44.3 339.7,40.3" stroke="#eeeeee" stroke-width="0.8" fill="none" opacity="0.8"/>
<path d="M340.8,39.3 Q344.8,44.3 349.8,40.3" stroke="#dadada" stroke-width="2.2" fill="none" opacity="0.8"/>
<path d="M340.8,39.3 Q344.8,44.3 349.8,40.3" stroke="#eeeeee" stroke-width="0.8" fill="none" opacity="0.8"/>
<ellipse cx="274.3" cy="46.3" rx="1.6" ry="0.9" fill="#6a6a6a"/>
<ellipse cx="284.4" cy="46.3" rx="1.6" ry="0.9" fill="#6a6a6a"/>
<ellipse cx="294.5" cy="46.3" rx="1.6" ry="0.9" fill="#6a6a6a"/>
<ellipse cx="304.6" cy="46.3" rx="1.6" ry="0.9" fill="#6a6a6a"/>
<ellipse cx="314.7" cy="46.3" rx="1.6" ry="0.9" fill="#6a6a6a"/>
<ellipse cx="324.8" cy="46.3" rx="1.6" ry="0.9" fill="#6a6a6a"/>
<ellipse cx="334.9" cy="46.3" rx="1.6" ry="0.9" fill="#6a6a6a"/>
<ellipse cx="345.0" cy="46.3" rx="1.6" ry="0.9" fill="#6a6a6a"/>
<path d="M260.0,47.3 Q264.0,52.3 269.0,48.3" stroke="#dadada" stroke-width="2.2" fill="none" opacity="0.8"/>
<path d="M260.0,47.3 Q264.0,52.3 269.0,48.3" stroke="#eeeeee" stroke-width="0.8" fill="none" opacity="0.8"/>
<path d="M270.1,47.3 Q274.1,52.3 279.1,48.3" stroke="#dadada" stroke-width="2.2" fill="none" opacity="0.8"/>
<path d="M270.1,47.3 Q274.1,52.3 279.1,48.3" stroke="#eeeeee" stroke-width="0.8" fill="none" opacity="0.8"/>
<path d="M280.2,47.3 Q284.2,52.3 289.2,48.3" stroke="#dadada" stroke-width="2.2" fill="none" opacity="0.8"/>
<path d="M280.2,47.3 Q284.2,52.3 289.2,48.3" stroke="#eeeeee" stroke-width="0.8" fill="none" opacity="0.8"/>
<path d="M290.3,47.3 Q294.3,52.3 299.3,48.3" stroke="#dadada" stroke-width="2.2" fill="none" opacity="0.8"/>
<path d="M290.3,47.3 Q294.3,52.3 299.3,48.3" stroke="#eeeeee" stroke-width="0.8" fill="none" opacity="0.8"/>
<path d="M300.4,47.3 Q304.4,52.3 309.4,48.3" stroke="#dadada" stroke-width="2.2" fill="none" opacity="0.8"/>
<path d="M300.4,47.3 Q304.4,52.3 309.4,48.3" stroke="#eeeeee" stroke-width="0.8" fill="none" opacity="0.8"/>
<path d="M310.5,47.3 Q314.5,52.3 319.5,48.3" stroke="#dadada" stroke-width="2.2" fill="none" opacity="0.8"/>
<path d="M310.5,47.3 Q314.5,52.3 319.5,48.3" stroke="#eeeeee" stroke-width="0.8" fill="none" opacity="0.8"/>
<path d="M320.6,47.3 Q324.6,52.3 329.6,48.3" stroke="#dadada" stroke-width="2.2" fill="none" opacity="0.8"/>
<path d="M320.6,47.3 Q324.6,52.3 329.6,48.3" stroke="#eeeeee" stroke-width="0.8" fill="none" opacity="0.8"/>
<path d="M330.7,47.3 Q334.7,52.3 339.7,48.3" stroke="#dadada" stroke-width="2.2" fill="none" opacity="0.8"/>
<path d="M330.7,47.3 Q334.7,52.3 339.7,48.3" stroke="#eeeeee" stroke-width="0.8" fill="none" opacity="0.8"/>
<path d="M340.8,47.3 Q344.8,52.3 349.8,48.3" stroke="#dadada" stroke-width="2.2" fill="none" opacity="0.8"/>
<path d="M340.8,47.3 Q344.8,52.3 349.8,48.3" stroke="#eeeeee" stroke-width="0.8" fill="none" opacity="0.8"/>
<ellipse cx="269.3" cy="55.5" rx="2.1" ry="1.5" fill="#2a2a2a"/>
<ellipse cx="279.4" cy="55.5" rx="2.1" ry="1.5" fill="#2a2a2a"/>
<ellipse cx="289.5" cy="55.5" rx="2.1" ry="1.5" fill="#2a2a2a"/>
<ellipse cx="299.6" cy="55.5" rx="2.1" ry="1.5" fill="#2a2a2a"/>
<ellipse cx="309.7" cy="55.5" rx="2.1" ry="1.5" fill="#2a2a2a"/>
<ellipse cx="319.8" cy="55.5" rx="2.1" ry="1.5" fill="#2a2a2a"/>
<ellipse cx="329.9" cy="55.5" rx="2.1" ry="1.5" fill="#2a2a2a"/>
<ellipse cx="340.0" cy="55.5" rx="2.1" ry="1.5" fill="#2a2a2a"/>
<path d="M260.0,56.5 Q264.0,61.5 269.0,57.5" stroke="#dadada" stroke-width="2.2" fill="none" opacity="0.8"/>
<path d="M260.0,56.5 Q264.0,61.5 269.0,57.5" stroke="#eeeeee" stroke-width="0.8" fill="none" opacity="0.8"/>
<path d="M270.1,56.5 Q274.1,61.5 279.1,57.5" stroke="#dadada" stroke-width="2.2" fill="none" opacity="0.8"/>
<path d="M270.1,56.5 Q274.1,61.5 279.1,57.5" stroke="#eeeeee" stroke-width="0.8" fill="none" opacity="0.8"/>
<path d="M280.2,56.5 Q284.2,61.5 289.2,57.5" stroke="#dadada" stroke-width="2.2" fill="none" opacity="0.8"/>
<path d="M280.2,56.5 Q284.2,61.5 289.2,57.5" stroke="#eeeeee" stroke-width="0.8" fill="none" opacity="0.8"/>
<path d="M290.3,56.5 Q294.3,61.5 299.3,57.5" stroke="#dadada" stroke-width="2.2" fill="none" opacity="0.8"/>
<path d="M290.3,56.5 Q294.3,61.5 299.3,57.5" stroke="#eeeeee" stroke-width="0.8" fill="none" opacity="0.8"/>
<path d="M300.4,56.5 Q304.4,61.5 309.4,57.5" stroke="#dadada" stroke-width="2.2" fill="none" opacity="0.8"/>
<path d="M300.4,56.5 Q304.4,61.5 309.4,57.5" stroke="#eeeeee" stroke-width="0.8" fill="none" opacity="0.8"/>
<path d="M310.5,56.5 Q314.5,61.5 319.5,57.5" stroke="#dadada" stroke-width="2.2" fill="none" opacity="0.8"/>
<path d="M310.5,56.5 Q314.5,61.5 319.5,57.5" stroke="#eeeeee" stroke-width="0.8" fill="none" opacity="0.8"/>
<path d="M320.6,56.5 Q324.6,61.5 329.6,57.5" stroke="#dadada" stroke-width="2.2" fill="none" opacity="0.8"/>
<path d="M320.6,56.5 Q324.6,61.5 329.6,57.5" stroke="#eeeeee" stroke-width="0.8" fill="none" opacity="0.8"/>
<path d="M330.7,56.5 Q334.7,61.5 339.7,57.5" stroke="#dadada" stroke-width="2.2" fill="none" opacity="0.8"/>
<path d="M330.7,56.5 Q334.7,61.5 339.7,57.5" stroke="#eeeeee" stroke-width="0.8" fill="none" opacity="0.8"/>
<path d="M340.8,56.5 Q344.8,61.5 349.8,57.5" stroke="#dadada" stroke-width="2.2" fill="none" opacity="0.8"/>
<path d="M340.8,56.5 Q344.8,61.5 349.8,57.5" stroke="#eeeeee" stroke-width="0.8" fill="none" opacity="0.8"/>
<ellipse cx="274.3" cy="63.5" rx="1.6" ry="0.9" fill="#6a6a6a"/>
<ellipse cx="284.4" cy="63.5" rx="1.6" ry="0.9" fill="#6a6a6a"/>
<ellipse cx="294.5" cy="63.5" rx="1.6" ry="0.9" fill="#6a6a6a"/>
<ellipse cx="304.6" cy="63.5" rx="1.6" ry="0.9" fill="#6a6a6a"/>
<ellipse cx="314.7" cy="63.5" rx="1.6" ry="0.9" fill="#6a6a6a"/>
<ellipse cx="324.8" cy="63.5" rx="1.6" ry="0.9" fill="#6a6a6a"/>
<ellipse cx="334.9" cy="63.5" rx="1.6" ry="0.9" fill="#6a6a6a"/>
<ellipse cx="345.0" cy="63.5" rx="1.6" ry="0.9" fill="#6a6a6a"/>
<path d="M260.0,64.5 Q264.0,69.5 269.0,65.5" stroke="#dadada" stroke-width="2.2" fill="none" opacity="0.8"/>
<path d="M260.0,64.5 Q264.0,69.5 269.0,65.5" stroke="#eeeeee" stroke-width="0.8" fill="none" opacity="0.8"/>
<path d="M270.1,64.5 Q274.1,69.5 279.1,65.5" stroke="#dadada" stroke-width="2.2" fill="none" opacity="0.8"/>
<path d="M270.1,64.5 Q274.1,69.5 279.1,65.5" stroke="#eeeeee" stroke-width="0.8" fill="none" opacity="0.8"/>
<path d="M280.2,64.5 Q284.2,69.5 289.2,65.5" stroke="#dadada" stroke-width="2.2" fill="none" opacity="0.8"/>
<path d="M280.2,64.5 Q284.2,69.5 289.2,65.5" stroke="#eeeeee" stroke-width="0.8" fill="none" opacity="0.8"/>
<path d="M290.3,64.5 Q294.3,69.5 299.3,65.5" stroke="#dadada" stroke-width="2.2" fill="none" opacity="0.8"/>
<path d="M290.3,64.5 Q294.3,69.5 299.3,65.5" stroke="#eeeeee" stroke-width="0.8" fill="none" opacity="0.8"/>
<path d="M300.4,64.5 Q304.4,69.5 309.4,65.5" stroke="#dadada" stroke-width="2.2" fill="none" opacity="0.8"/>
<path d="M300.4,64.5 Q304.4,69.5 309.4,65.5" stroke="#eeeeee" stroke-width="0.8" fill="none" opacity="0.8"/>
<path d="M310.5,64.5 Q314.5,69.5 319.5,65.5" stroke="#dadada" stroke-width="2.2" fill="none" opacity="0.8"/>
<path d="M310.5,64.5 Q314.5,69.5 319.5,65.5" stroke="#eeeeee" stroke-width="0.8" fill="none" opacity="0.8"/>
<path d="M320.6,64.5 Q324.6,69.5 329.6,65.5" stroke="#dadada" stroke-width="2.2" fill="none" opacity="0.8"/>
<path d="M320.6,64.5 Q324.6,69.5 329.6,65.5" stroke="#eeeeee" stroke-width="0.8" fill="none" opacity="0.8"/>
<path d="M330.7,64.5 Q334.7,69.5 339.7,65.5" stroke="#dadada" stroke-width="2.2" fill="none" opacity="0.8"/>
<path d="M330.7,64.5 Q334.7,69.5 339.7,65.5" stroke="#eeeeee" stroke-width="0.8" fill="none" opacity="0.8"/>
<path d="M340.8,64.5 Q344.8,69.5 349.8,65.5" stroke="#dadada" stroke-width="2.2" fill="none" opacity="0.8"/>
<path d="M340.8,64.5 Q344.8,69.5 349.8,65.5" stroke="#eeeeee" stroke-width="0.8" fill="none" opacity="0.8"/>
<ellipse cx="269.3" cy="73.0" rx="2.1" ry="1.5" fill="#2a2a2a"/>
<ellipse cx="279.4" cy="73.0" rx="2.1" ry="1.5" fill="#2a2a2a"/>
<ellipse cx="289.5" cy="73.0" rx="2.1" ry="1.5" fill="#2a2a2a"/>
<ellipse cx="299.6" cy="73.0" rx="2.1" ry="1.5" fill="#2a2a2a"/>
<ellipse cx="309.7" cy="73.0" rx="2.1" ry="1.5" fill="#2a2a2a"/>
<ellipse cx="319.8" cy="73.0" rx="2.1" ry="1.5" fill="#2a2a2a"/>
<ellipse cx="329.9" cy="73.0" rx="2.1" ry="1.5" fill="#2a2a2a"/>
<ellipse cx="340.0" cy="73.0" rx="2.1" ry="1.5" fill="#2a2a2a"/>
<path d="M260.0,74.0 Q264.0,79.0 269.0,75.0" stroke="#dadada" stroke-width="2.2" fill="none" opacity="0.8"/>
<path d="M260.0,74.0 Q264.0,79.0 269.0,75.0" stroke="#eeeeee" stroke-width="0.8" fill="none" opacity="0.8"/>
<path d="M270.1,74.0 Q274.1,79.0 279.1,75.0" stroke="#dadada" stroke-width="2.2" fill="none" opacity="0.8"/>
<path d="M270.1,74.0 Q274.1,79.0 279.1,75.0" stroke="#eeeeee" stroke-width="0.8" fill="none" opacity="0.8"/>
<path d="M280.2,74.0 Q284.2,79.0 289.2,75.0" stroke="#dadada" stroke-width="2.2" fill="none" opacity="0.8"/>
<path d="M280.2,74.0 Q284.2,79.0 289.2,75.0" stroke="#eeeeee" stroke-width="0.8" fill="none" opacity="0.8"/>
<path d="M290.3,74.0 Q294.3,79.0 299.3,75.0" stroke="#dadada" stroke-width="2.2" fill="none" opacity="0.8"/>
<path d="M290.3,74.0 Q294.3,79.0 299.3,75.0" stroke="#eeeeee" stroke-width="0.8" fill="none" opacity="0.8"/>
<path d="M300.4,74.0 Q304.4,79.0 309.4,75.0" stroke="#dadada" stroke-width="2.2" fill="none" opacity="0.8"/>
<path d="M300.4,74.0 Q304.4,79.0 309.4,75.0" stroke="#eeeeee" stroke-width="0.8" fill="none" opacity="0.8"/>
<path d="M310.5,74.0 Q314.5,79.0 319.5,75.0" stroke="#dadada" stroke-width="2.2" fill="none" opacity="0.8"/>
<path d="M310.5,74.0 Q314.5,79.0 319.5,75.0" stroke="#eeeeee" stroke-width="0.8" fill="none" opacity="0.8"/>
<path d="M320.6,74.0 Q324.6,79.0 329.6,75.0" stroke="#dadada" stroke-width="2.2" fill="none" opacity="0.8"/>
<path d="M320.6,74.0 Q324.6,79.0 329.6,75.0" stroke="#eeeeee" stroke-width="0.8" fill="none" opacity="0.8"/>
<path d="M330.7,74.0 Q334.7,79.0 339.7,75.0" stroke="#dadada" stroke-width="2.2" fill="none" opacity="0.8"/>
<path d="M330.7,74.0 Q334.7,79.0 339.7,75.0" stroke="#eeeeee" stroke-width="0.8" fill="none" opacity="0.8"/>
<path d="M340.8,74.0 Q344.8,79.0 349.8,75.0" stroke="#dadada" stroke-width="2.2" fill="none" opacity="0.8"/>
<path d="M340.8,74.0 Q344.8,79.0 349.8,75.0" stroke="#eeeeee" stroke-width="0.8" fill="none" opacity="0.8"/>
</g></g>
<g clip-path="url(#cb4)">
<rect x="259.80" y="82.10" width="78.20" height="55.80" fill="#c6c6c6" stroke="none" stroke-width="0.8"/>
<path d="M300,82 L338,82 L338,110 C320,100 310,90 300,82Z" fill="#d2d2d2" filter="url(#bl3)"/>
<g filter="url(#bl04)">
<path d="M272,102 C285,104 295,110 310,111 S325,112 332,113" stroke="#f0f0f0" stroke-width="1.5" fill="none"/>
<path d="M274,104 C286,106 296,111 310,112" stroke="#777" stroke-width="0.5" fill="none"/>
<path d="M302,109 L312,114" stroke="#444" stroke-width="0.8"/>
<path d="M261,107 C264,110 266,114 262,116" stroke="#555" stroke-width="0.8" fill="none"/>
<path d="M333,115 C330,120 331,126 334,130" stroke="#666" stroke-width="0.8" fill="none"/>
<path d="M335,113 l-2,16" stroke="#eee" stroke-width="1.2" fill="none"/>
</g></g>
<rect x="180.30" y="25.00" width="78.00" height="55.20" fill="none" stroke="#e59aa3" stroke-width="0.8"/>
<rect x="180.30" y="82.10" width="78.00" height="55.80" fill="none" stroke="#e59aa3" stroke-width="0.8"/>
<rect x="259.80" y="25.00" width="78.20" height="55.20" fill="none" stroke="#8ea6e0" stroke-width="0.8"/>
<rect x="259.80" y="82.10" width="78.20" height="55.80" fill="none" stroke="#8ea6e0" stroke-width="0.8"/>
<rect x="180.70" y="25.40" width="34.00" height="9.30" fill="#e2e2e2" stroke="none" stroke-width="0.8" opacity="0.85"/>
<text x="183.20" y="32.40" font-size="6.3" text-anchor="start" fill="#222" font-weight="normal">50% strain</text>
<rect x="180.70" y="82.50" width="34.00" height="9.30" fill="#e2e2e2" stroke="none" stroke-width="0.8" opacity="0.85"/>
<text x="183.20" y="89.50" font-size="6.3" text-anchor="start" fill="#222" font-weight="normal">50% strain</text>
<rect x="260.20" y="25.40" width="34.00" height="9.30" fill="#e2e2e2" stroke="none" stroke-width="0.8" opacity="0.85"/>
<text x="262.70" y="32.40" font-size="6.3" text-anchor="start" fill="#222" font-weight="normal">50% strain</text>
<rect x="260.20" y="82.50" width="34.00" height="9.30" fill="#e2e2e2" stroke="none" stroke-width="0.8" opacity="0.85"/>
<text x="262.70" y="89.50" font-size="6.3" text-anchor="start" fill="#222" font-weight="normal">50% strain</text>
<line x1="184.20" y1="49.40" x2="184.20" y2="39.70" stroke="#e8707a" stroke-width="1.0"/>
<path d="M184.2,37.7 L182.79999999999998,40.300000000000004 L185.6,40.300000000000004Z" fill="#e8707a"/>
<line x1="184.20" y1="64.00" x2="184.20" y2="75.00" stroke="#e8707a" stroke-width="1.0"/>
<path d="M184.2,77 L182.79999999999998,74.4 L185.6,74.4Z" fill="#e8707a"/>
<line x1="264.60" y1="49.40" x2="264.60" y2="39.70" stroke="#5b80e0" stroke-width="1.0"/>
<path d="M264.6,37.7 L263.20000000000005,40.300000000000004 L266.0,40.300000000000004Z" fill="#5b80e0"/>
<line x1="264.60" y1="64.00" x2="264.60" y2="75.00" stroke="#5b80e0" stroke-width="1.0"/>
<path d="M264.6,77 L263.20000000000005,74.4 L266.0,74.4Z" fill="#5b80e0"/>
<line x1="184.20" y1="106.40" x2="184.20" y2="96.70" stroke="#e8707a" stroke-width="1.0"/>
<path d="M184.2,94.7 L182.79999999999998,97.3 L185.6,97.3Z" fill="#e8707a"/>
<line x1="184.20" y1="121.00" x2="184.20" y2="132.00" stroke="#e8707a" stroke-width="1.0"/>
<path d="M184.2,134 L182.79999999999998,131.4 L185.6,131.4Z" fill="#e8707a"/>
<line x1="264.60" y1="106.40" x2="264.60" y2="96.70" stroke="#5b80e0" stroke-width="1.0"/>
<path d="M264.6,94.7 L263.20000000000005,97.3 L266.0,97.3Z" fill="#5b80e0"/>
<line x1="264.60" y1="121.00" x2="264.60" y2="132.00" stroke="#5b80e0" stroke-width="1.0"/>
<path d="M264.6,134 L263.20000000000005,131.4 L266.0,131.4Z" fill="#5b80e0"/>
<line x1="237.50" y1="76.00" x2="252.80" y2="76.00" stroke="#333" stroke-width="1.4"/>
<line x1="317.70" y1="76.00" x2="332.40" y2="76.00" stroke="#333" stroke-width="1.4"/>
<line x1="237.50" y1="132.60" x2="252.80" y2="132.60" stroke="#333" stroke-width="1.4"/>
<line x1="318.00" y1="133.00" x2="332.40" y2="133.00" stroke="#333" stroke-width="1.4"/>
<text x="325.50" y="72.30" font-size="6.6" text-anchor="middle" fill="#222" font-weight="normal">500 µm</text>
<text x="325.50" y="129.60" font-size="6.6" text-anchor="middle" fill="#222" font-weight="normal">200 µm</text>
<text x="-0.60" y="153.50" font-size="8.5" text-anchor="start" fill="#000" font-weight="bold">e</text>
<g clip-path="url(#ctex)">
<rect x="4.00" y="249.80" width="158.00" height="17.90" fill="#c6d2f2" stroke="#6a8ce6" stroke-width="0.6"/>
<circle cx="-6.1" cy="241.9" r="9.8" fill="url(#circB)" stroke="#4d78e4" stroke-width="0.6"/>
<circle cx="13.7" cy="241.9" r="9.8" fill="url(#circB)" stroke="#4d78e4" stroke-width="0.6"/>
<circle cx="33.5" cy="241.9" r="9.8" fill="url(#circB)" stroke="#4d78e4" stroke-width="0.6"/>
<circle cx="53.3" cy="241.9" r="9.8" fill="url(#circB)" stroke="#4d78e4" stroke-width="0.6"/>
<circle cx="73.1" cy="241.9" r="9.8" fill="url(#circB)" stroke="#4d78e4" stroke-width="0.6"/>
<circle cx="92.9" cy="241.9" r="9.8" fill="url(#circB)" stroke="#4d78e4" stroke-width="0.6"/>
<circle cx="112.7" cy="241.9" r="9.8" fill="url(#circB)" stroke="#4d78e4" stroke-width="0.6"/>
<circle cx="132.5" cy="241.9" r="9.8" fill="url(#circB)" stroke="#4d78e4" stroke-width="0.6"/>
<circle cx="152.3" cy="241.9" r="9.8" fill="url(#circB)" stroke="#4d78e4" stroke-width="0.6"/>
<circle cx="172.1" cy="241.9" r="9.8" fill="url(#circB)" stroke="#4d78e4" stroke-width="0.6"/>
<circle cx="191.9" cy="241.9" r="9.8" fill="url(#circB)" stroke="#4d78e4" stroke-width="0.6"/>
<circle cx="-16.0" cy="259.3" r="9.8" fill="url(#circB)" stroke="#4d78e4" stroke-width="0.6"/>
<circle cx="3.8" cy="259.3" r="9.8" fill="url(#circB)" stroke="#4d78e4" stroke-width="0.6"/>
<circle cx="23.6" cy="259.3" r="9.8" fill="url(#circB)" stroke="#4d78e4" stroke-width="0.6"/>
<circle cx="43.4" cy="259.3" r="9.8" fill="url(#circB)" stroke="#4d78e4" stroke-width="0.6"/>
<circle cx="63.2" cy="259.3" r="9.8" fill="url(#circB)" stroke="#4d78e4" stroke-width="0.6"/>
<circle cx="83.0" cy="259.3" r="9.8" fill="url(#circB)" stroke="#4d78e4" stroke-width="0.6"/>
<circle cx="102.8" cy="259.3" r="9.8" fill="url(#circB)" stroke="#4d78e4" stroke-width="0.6"/>
<circle cx="122.6" cy="259.3" r="9.8" fill="url(#circB)" stroke="#4d78e4" stroke-width="0.6"/>
<circle cx="142.4" cy="259.3" r="9.8" fill="url(#circB)" stroke="#4d78e4" stroke-width="0.6"/>
<circle cx="162.2" cy="259.3" r="9.8" fill="url(#circB)" stroke="#4d78e4" stroke-width="0.6"/>
<circle cx="182.0" cy="259.3" r="9.8" fill="url(#circB)" stroke="#4d78e4" stroke-width="0.6"/>
<circle cx="-6.1" cy="274.6" r="9.8" fill="url(#circB)" stroke="#4d78e4" stroke-width="0.6"/>
<circle cx="13.7" cy="274.6" r="9.8" fill="url(#circB)" stroke="#4d78e4" stroke-width="0.6"/>
<circle cx="33.5" cy="274.6" r="9.8" fill="url(#circB)" stroke="#4d78e4" stroke-width="0.6"/>
<circle cx="53.3" cy="274.6" r="9.8" fill="url(#circB)" stroke="#4d78e4" stroke-width="0.6"/>
<circle cx="73.1" cy="274.6" r="9.8" fill="url(#circB)" stroke="#4d78e4" stroke-width="0.6"/>
<circle cx="92.9" cy="274.6" r="9.8" fill="url(#circB)" stroke="#4d78e4" stroke-width="0.6"/>
<circle cx="112.7" cy="274.6" r="9.8" fill="url(#circB)" stroke="#4d78e4" stroke-width="0.6"/>
<circle cx="132.5" cy="274.6" r="9.8" fill="url(#circB)" stroke="#4d78e4" stroke-width="0.6"/>
<circle cx="152.3" cy="274.6" r="9.8" fill="url(#circB)" stroke="#4d78e4" stroke-width="0.6"/>
<circle cx="172.1" cy="274.6" r="9.8" fill="url(#circB)" stroke="#4d78e4" stroke-width="0.6"/>
<circle cx="191.9" cy="274.6" r="9.8" fill="url(#circB)" stroke="#4d78e4" stroke-width="0.6"/>
<g clip-path="url(#cfoc)">
<rect x="63.60" y="249.80" width="40.20" height="17.90" fill="#c8bcec" stroke="none" stroke-width="0.8"/>
<circle cx="-6.1" cy="241.9" r="9.8" fill="url(#circP)" stroke="#6a50c8" stroke-width="0.6"/>
<circle cx="13.7" cy="241.9" r="9.8" fill="url(#circP)" stroke="#6a50c8" stroke-width="0.6"/>
<circle cx="33.5" cy="241.9" r="9.8" fill="url(#circP)" stroke="#6a50c8" stroke-width="0.6"/>
<circle cx="53.3" cy="241.9" r="9.8" fill="url(#circP)" stroke="#6a50c8" stroke-width="0.6"/>
<circle cx="73.1" cy="241.9" r="9.8" fill="url(#circP)" stroke="#6a50c8" stroke-width="0.6"/>
<circle cx="92.9" cy="241.9" r="9.8" fill="url(#circP)" stroke="#6a50c8" stroke-width="0.6"/>
<circle cx="112.7" cy="241.9" r="9.8" fill="url(#circP)" stroke="#6a50c8" stroke-width="0.6"/>
<circle cx="132.5" cy="241.9" r="9.8" fill="url(#circP)" stroke="#6a50c8" stroke-width="0.6"/>
<circle cx="152.3" cy="241.9" r="9.8" fill="url(#circP)" stroke="#6a50c8" stroke-width="0.6"/>
<circle cx="172.1" cy="241.9" r="9.8" fill="url(#circP)" stroke="#6a50c8" stroke-width="0.6"/>
<circle cx="191.9" cy="241.9" r="9.8" fill="url(#circP)" stroke="#6a50c8" stroke-width="0.6"/>
<circle cx="-16.0" cy="259.3" r="9.8" fill="url(#circP)" stroke="#6a50c8" stroke-width="0.6"/>
<circle cx="3.8" cy="259.3" r="9.8" fill="url(#circP)" stroke="#6a50c8" stroke-width="0.6"/>
<circle cx="23.6" cy="259.3" r="9.8" fill="url(#circP)" stroke="#6a50c8" stroke-width="0.6"/>
<circle cx="43.4" cy="259.3" r="9.8" fill="url(#circP)" stroke="#6a50c8" stroke-width="0.6"/>
<circle cx="63.2" cy="259.3" r="9.8" fill="url(#circP)" stroke="#6a50c8" stroke-width="0.6"/>
<circle cx="83.0" cy="259.3" r="9.8" fill="url(#circP)" stroke="#6a50c8" stroke-width="0.6"/>
<circle cx="102.8" cy="259.3" r="9.8" fill="url(#circP)" stroke="#6a50c8" stroke-width="0.6"/>
<circle cx="122.6" cy="259.3" r="9.8" fill="url(#circP)" stroke="#6a50c8" stroke-width="0.6"/>
<circle cx="142.4" cy="259.3" r="9.8" fill="url(#circP)" stroke="#6a50c8" stroke-width="0.6"/>
<circle cx="162.2" cy="259.3" r="9.8" fill="url(#circP)" stroke="#6a50c8" stroke-width="0.6"/>
<circle cx="182.0" cy="259.3" r="9.8" fill="url(#circP)" stroke="#6a50c8" stroke-width="0.6"/>
<circle cx="-6.1" cy="274.6" r="9.8" fill="url(#circP)" stroke="#6a50c8" stroke-width="0.6"/>
<circle cx="13.7" cy="274.6" r="9.8" fill="url(#circP)" stroke="#6a50c8" stroke-width="0.6"/>
<circle cx="33.5" cy="274.6" r="9.8" fill="url(#circP)" stroke="#6a50c8" stroke-width="0.6"/>
<circle cx="53.3" cy="274.6" r="9.8" fill="url(#circP)" stroke="#6a50c8" stroke-width="0.6"/>
<circle cx="73.1" cy="274.6" r="9.8" fill="url(#circP)" stroke="#6a50c8" stroke-width="0.6"/>
<circle cx="92.9" cy="274.6" r="9.8" fill="url(#circP)" stroke="#6a50c8" stroke-width="0.6"/>
<circle cx="112.7" cy="274.6" r="9.8" fill="url(#circP)" stroke="#6a50c8" stroke-width="0.6"/>
<circle cx="132.5" cy="274.6" r="9.8" fill="url(#circP)" stroke="#6a50c8" stroke-width="0.6"/>
<circle cx="152.3" cy="274.6" r="9.8" fill="url(#circP)" stroke="#6a50c8" stroke-width="0.6"/>
<circle cx="172.1" cy="274.6" r="9.8" fill="url(#circP)" stroke="#6a50c8" stroke-width="0.6"/>
<circle cx="191.9" cy="274.6" r="9.8" fill="url(#circP)" stroke="#6a50c8" stroke-width="0.6"/>
<ellipse cx="83" cy="246" rx="14" ry="12" fill="url(#glowP)"/>
<ellipse cx="83" cy="277" rx="16" ry="8" fill="url(#glowP)" opacity="0.8"/>
</g>
<path d="M71,236 C61,234 49,240 41,250" stroke="#d4dae8" stroke-width="4" fill="none" opacity="0.75"/>
<path d="M71,254 C61,252 49,258 41,268" stroke="#d4dae8" stroke-width="4" fill="none" opacity="0.75"/>
<path d="M95,236 C105,234 117,240 125,250" stroke="#d4dae8" stroke-width="4" fill="none" opacity="0.75"/>
<path d="M95,254 C105,252 117,258 125,268" stroke="#d4dae8" stroke-width="4" fill="none" opacity="0.75"/>
</g>
<rect x="63.6" y="232" width="40.2" height="49.6" fill="none" stroke="#e87a86" stroke-width="0.6" stroke-dasharray="1.2,1"/>
<line x1="4" y1="281.4" x2="162" y2="281.4" stroke="#5b82e4" stroke-width="0.6"/>
<path d="M71.5,163 C71.5,158 94,158 94,163 L86,238 L80,238Z" fill="#a080f0" filter="url(#bl15)" opacity="0.6"/>
<path d="M72.5,163 C72.5,159.5 93,159.5 93,163 L85.5,236 L80,236Z" fill="url(#coneG)"/>
<path d="M82.7,200 L84,232 L81.5,232Z" fill="#f2a6b0" opacity="0.8"/>
<path d="M69,220 C77,224 79,230 80,238" stroke="#f4b4bc" stroke-width="2" fill="none" opacity="0.8"/>
<path d="M80,241 l1.5,-3 l-3,0Z" fill="#f0a0b0"/>
<path d="M97,220 C89,224 87,230 86,238" stroke="#f4b4bc" stroke-width="2" fill="none" opacity="0.8"/>
<path d="M86,241 l-1.5,-3 l3,0Z" fill="#f0a0b0"/>
<line x1="74" y1="250" x2="79" y2="258" stroke="#f2b0bc" stroke-width="1.6" opacity="0.75"/>
<line x1="92" y1="250" x2="87" y2="258" stroke="#f2b0bc" stroke-width="1.6" opacity="0.75"/>
<line x1="78" y1="272" x2="82" y2="266" stroke="#f2b0bc" stroke-width="1.6" opacity="0.75"/>
<line x1="88" y1="272" x2="84" y2="266" stroke="#f2b0bc" stroke-width="1.6" opacity="0.75"/>
<line x1="83" y1="252" x2="83" y2="262" stroke="#f2b0bc" stroke-width="1.6" opacity="0.75"/>
<path d="M75,262 C67,256 59,258 49,270" stroke="#dfe4ee" stroke-width="3.5" fill="none" opacity="0.8"/>
<path d="M77,236 C69,232 61,236 53,246" stroke="#dfe4ee" stroke-width="3.5" fill="none" opacity="0.8"/>
<path d="M91,262 C99,256 107,258 117,270" stroke="#dfe4ee" stroke-width="3.5" fill="none" opacity="0.8"/>
<path d="M89,236 C97,232 105,236 113,246" stroke="#dfe4ee" stroke-width="3.5" fill="none" opacity="0.8"/>
<text x="101.30" y="172.00" font-size="7.5" text-anchor="start" fill="#262626" font-weight="normal">UV laser</text>
<text x="104.60" y="187.50" font-size="7.5" text-anchor="start" fill="#262626" font-weight="normal">Limited scattering</text>
<text x="5.60" y="167.30" font-size="7.5" text-anchor="start" fill="#262626" font-weight="normal">Focused region</text>
<text x="8.50" y="229.30" font-size="7.5" text-anchor="start" fill="#262626" font-weight="normal">Textile</text>
<rect x="4.20" y="170.50" width="54.50" height="44.90" fill="#fff" stroke="#555" stroke-width="0.6"/>
<rect x="4.40" y="200.80" width="54.10" height="14.40" fill="#cdd6ea" stroke="none" stroke-width="0.8"/>
<rect x="4.40" y="200.80" width="54.10" height="6.50" fill="#a9bcdf" stroke="none" stroke-width="0.8"/>
<path d="M4.4,201.5 C15,200.0 25,205.0 35,202.0 S50,204.0 58.5,201.0" stroke="#4b65a8" stroke-width="0.45" fill="none"/>
<path d="M4.4,203.1 C15,201.6 25,206.5 35,203.6 S50,205.2 58.5,202.6" stroke="#4b65a8" stroke-width="0.45" fill="none"/>
<path d="M4.4,204.7 C15,203.2 25,208.0 35,205.2 S50,206.4 58.5,204.2" stroke="#4b65a8" stroke-width="0.45" fill="none"/>
<path d="M4.4,206.3 C15,204.8 25,209.5 35,206.8 S50,207.6 58.5,205.8" stroke="#4b65a8" stroke-width="0.45" fill="none"/>
<path d="M4.4,207.9 C15,206.4 25,211.0 35,208.4 S50,208.8 58.5,207.4" stroke="#4b65a8" stroke-width="0.45" fill="none"/>
<path d="M25.6,173.8 L37.4,173.8 L31.5,200Z" fill="#a080f0" filter="url(#bl07)" opacity="0.7"/>
<path d="M26.3,174.4 L36.7,174.4 L31.5,199.5Z" fill="#b09af0"/>
<rect x="27" y="200.8" width="10.6" height="14.6" fill="none" stroke="#e05a66" stroke-width="0.55" stroke-dasharray="1,0.8"/>
<rect x="27.3" y="201.2" width="10" height="3.5" fill="#7a5ad0" opacity="0.6"/>
<rect x="107.20" y="189.40" width="54.40" height="36.00" fill="#fff" stroke="#555" stroke-width="0.6"/>
<rect x="107.40" y="211.70" width="54.00" height="13.50" fill="#cdd6ea" stroke="none" stroke-width="0.8"/>
<rect x="107.40" y="211.70" width="54.00" height="5.50" fill="#a9bcdf" stroke="none" stroke-width="0.8"/>
<path d="M107.4,212.5 C118,211.0 128,216.0 138,213.0 S152,215.0 161.4,212.0" stroke="#4b65a8" stroke-width="0.45" fill="none"/>
<path d="M107.4,214.1 C118,212.6 128,217.5 138,214.6 S152,216.2 161.4,213.6" stroke="#4b65a8" stroke-width="0.45" fill="none"/>
<path d="M107.4,215.7 C118,214.2 128,219.0 138,216.2 S152,217.4 161.4,215.2" stroke="#4b65a8" stroke-width="0.45" fill="none"/>
<path d="M107.4,217.3 C118,215.8 128,220.5 138,217.8 S152,218.6 161.4,216.8" stroke="#4b65a8" stroke-width="0.45" fill="none"/>
<path d="M127.8,192 L137.4,192 L132.6,211Z" fill="#a080f0" filter="url(#bl07)" opacity="0.7"/>
<path d="M128.4,192.6 L136.8,192.6 L132.6,210.5Z" fill="#b09af0"/>
<circle cx="132.6" cy="213" r="4.5" fill="#c080c0" filter="url(#bl15)" opacity="0.7"/>
<line x1="134.60" y1="213.00" x2="137.60" y2="213.00" stroke="#e06060" stroke-width="0.4" opacity="0.7"/>
<line x1="134.13" y1="214.29" x2="136.43" y2="216.21" stroke="#e06060" stroke-width="0.4" opacity="0.7"/>
<line x1="132.95" y1="214.97" x2="133.47" y2="217.92" stroke="#e06060" stroke-width="0.4" opacity="0.7"/>
<line x1="131.60" y1="214.73" x2="130.10" y2="217.33" stroke="#e06060" stroke-width="0.4" opacity="0.7"/>
<line x1="130.72" y1="213.68" x2="127.90" y2="214.71" stroke="#e06060" stroke-width="0.4" opacity="0.7"/>
<line x1="130.72" y1="212.32" x2="127.90" y2="211.29" stroke="#e06060" stroke-width="0.4" opacity="0.7"/>
<line x1="131.60" y1="211.27" x2="130.10" y2="208.67" stroke="#e06060" stroke-width="0.4" opacity="0.7"/>
<line x1="132.95" y1="211.03" x2="133.47" y2="208.08" stroke="#e06060" stroke-width="0.4" opacity="0.7"/>
<line x1="134.13" y1="211.71" x2="136.43" y2="209.79" stroke="#e06060" stroke-width="0.4" opacity="0.7"/>
<text x="173.50" y="153.50" font-size="8.5" text-anchor="start" fill="#000" font-weight="bold">f</text>
<g clip-path="url(#cf)">
<rect x="202.20" y="160.30" width="100.60" height="103.20" fill="url(#fTop)" stroke="none" stroke-width="0.8"/>
<rect x="202.2" y="162.50" width="100.60000000000002" height="2.0" fill="url(#fTop2)" opacity="0.75" filter="url(#bl04)"/>
<rect x="202.2" y="166.80" width="100.60000000000002" height="2.0" fill="url(#fTop2)" opacity="0.75" filter="url(#bl04)"/>
<rect x="202.2" y="170.80" width="100.60000000000002" height="2.0" fill="url(#fTop2)" opacity="0.75" filter="url(#bl04)"/>
<rect x="202.2" y="175.50" width="100.60000000000002" height="2.0" fill="url(#fTop2)" opacity="0.75" filter="url(#bl04)"/>
<rect x="202.2" y="180.60" width="100.60000000000002" height="2.0" fill="url(#fTop2)" opacity="0.75" filter="url(#bl04)"/>
<rect x="202.2" y="184.00" width="100.60000000000002" height="2.0" fill="url(#fTop2)" opacity="0.75" filter="url(#bl04)"/>
<rect x="202.2" y="189.00" width="100.60000000000002" height="2.0" fill="url(#fTop2)" opacity="0.75" filter="url(#bl04)"/>
<rect x="202.2" y="194.40" width="100.60000000000002" height="2.0" fill="url(#fTop2)" opacity="0.75" filter="url(#bl04)"/>
<rect x="202.2" y="197.40" width="100.60000000000002" height="2.0" fill="url(#fTop2)" opacity="0.75" filter="url(#bl04)"/>
<rect x="202.2" y="202.00" width="100.60000000000002" height="2.0" fill="url(#fTop2)" opacity="0.75" filter="url(#bl04)"/>
<rect x="202.2" y="207.00" width="100.60000000000002" height="2.0" fill="url(#fTop2)" opacity="0.75" filter="url(#bl04)"/>
<rect x="202.20" y="208.50" width="100.60" height="18.00" fill="url(#fMid)" stroke="none" stroke-width="0.8"/>
<rect x="202.20" y="224.00" width="100.60" height="39.50" fill="url(#fBot)" stroke="none" stroke-width="0.8"/>
</g>
<rect x="207.40" y="211.40" width="93.00" height="12.50" fill="none" stroke="#4a5a80" stroke-width="0.6"/>
<rect x="202.20" y="160.30" width="100.60" height="103.20" fill="none" stroke="#5a5a5a" stroke-width="0.7"/>
<line x1="202.20" y1="171.15" x2="203.70" y2="171.15" stroke="#5a5a5a" stroke-width="0.8"/>
<line x1="302.80" y1="171.15" x2="301.30" y2="171.15" stroke="#5a5a5a" stroke-width="0.8"/>
<text x="200.20" y="173.65" font-size="7.6" text-anchor="end" fill="#262626" font-weight="normal">10</text>
<line x1="202.20" y1="186.60" x2="203.70" y2="186.60" stroke="#5a5a5a" stroke-width="0.8"/>
<line x1="302.80" y1="186.60" x2="301.30" y2="186.60" stroke="#5a5a5a" stroke-width="0.8"/>
<text x="200.20" y="189.10" font-size="7.6" text-anchor="end" fill="#262626" font-weight="normal">0</text>
<line x1="202.20" y1="202.05" x2="203.70" y2="202.05" stroke="#5a5a5a" stroke-width="0.8"/>
<line x1="302.80" y1="202.05" x2="301.30" y2="202.05" stroke="#5a5a5a" stroke-width="0.8"/>
<text x="200.20" y="204.55" font-size="7.6" text-anchor="end" fill="#262626" font-weight="normal">-10</text>
<line x1="202.20" y1="217.50" x2="203.70" y2="217.50" stroke="#5a5a5a" stroke-width="0.8"/>
<line x1="302.80" y1="217.50" x2="301.30" y2="217.50" stroke="#5a5a5a" stroke-width="0.8"/>
<text x="200.20" y="220.00" font-size="7.6" text-anchor="end" fill="#262626" font-weight="normal">-20</text>
<line x1="202.20" y1="232.95" x2="203.70" y2="232.95" stroke="#5a5a5a" stroke-width="0.8"/>
<line x1="302.80" y1="232.95" x2="301.30" y2="232.95" stroke="#5a5a5a" stroke-width="0.8"/>
<text x="200.20" y="235.45" font-size="7.6" text-anchor="end" fill="#262626" font-weight="normal">-30</text>
<line x1="202.20" y1="248.40" x2="203.70" y2="248.40" stroke="#5a5a5a" stroke-width="0.8"/>
<line x1="302.80" y1="248.40" x2="301.30" y2="248.40" stroke="#5a5a5a" stroke-width="0.8"/>
<text x="200.20" y="250.90" font-size="7.6" text-anchor="end" fill="#262626" font-weight="normal">-40</text>
<line x1="202.20" y1="263.85" x2="203.70" y2="263.85" stroke="#5a5a5a" stroke-width="0.8"/>
<line x1="302.80" y1="263.85" x2="301.30" y2="263.85" stroke="#5a5a5a" stroke-width="0.8"/>
<text x="200.20" y="266.35" font-size="7.6" text-anchor="end" fill="#262626" font-weight="normal">-50</text>
<line x1="221.20" y1="263.50" x2="221.20" y2="262.00" stroke="#5a5a5a" stroke-width="0.8"/>
<line x1="221.20" y1="160.30" x2="221.20" y2="161.80" stroke="#5a5a5a" stroke-width="0.8"/>
<text x="221.20" y="273.10" font-size="7.6" text-anchor="middle" fill="#262626" font-weight="normal">-20</text>
<line x1="252.40" y1="263.50" x2="252.40" y2="262.00" stroke="#5a5a5a" stroke-width="0.8"/>
<line x1="252.40" y1="160.30" x2="252.40" y2="161.80" stroke="#5a5a5a" stroke-width="0.8"/>
<text x="252.40" y="273.10" font-size="7.6" text-anchor="middle" fill="#262626" font-weight="normal">0</text>
<line x1="283.60" y1="263.50" x2="283.60" y2="262.00" stroke="#5a5a5a" stroke-width="0.8"/>
<line x1="283.60" y1="160.30" x2="283.60" y2="161.80" stroke="#5a5a5a" stroke-width="0.8"/>
<text x="283.60" y="273.10" font-size="7.6" text-anchor="middle" fill="#262626" font-weight="normal">20</text>
<text x="252.40" y="283.00" font-size="7.6" text-anchor="middle" fill="#262626" font-weight="normal"><tspan font-style="italic">x</tspan> (µm)</text>
<text x="185.70" y="210.80" font-size="7.6" text-anchor="middle" fill="#262626" font-weight="normal" transform="rotate(-90 185.7 210.8)"><tspan font-style="italic">y</tspan> (µm)</text>
<rect x="309.00" y="160.30" width="4.70" height="103.20" fill="url(#cbf)" stroke="#555" stroke-width="0.6"/>
<line x1="313.70" y1="263.50" x2="312.50" y2="263.50" stroke="#5a5a5a" stroke-width="0.5"/>
<text x="315.70" y="266.00" font-size="7" text-anchor="start" fill="#262626" font-weight="normal">0</text>
<line x1="313.70" y1="246.30" x2="312.50" y2="246.30" stroke="#5a5a5a" stroke-width="0.5"/>
<text x="315.70" y="248.80" font-size="7" text-anchor="start" fill="#262626" font-weight="normal">0.2</text>
<line x1="313.70" y1="229.10" x2="312.50" y2="229.10" stroke="#5a5a5a" stroke-width="0.5"/>
<text x="315.70" y="231.60" font-size="7" text-anchor="start" fill="#262626" font-weight="normal">0.4</text>
<line x1="313.70" y1="211.90" x2="312.50" y2="211.90" stroke="#5a5a5a" stroke-width="0.5"/>
<text x="315.70" y="214.40" font-size="7" text-anchor="start" fill="#262626" font-weight="normal">0.6</text>
<line x1="313.70" y1="194.70" x2="312.50" y2="194.70" stroke="#5a5a5a" stroke-width="0.5"/>
<text x="315.70" y="197.20" font-size="7" text-anchor="start" fill="#262626" font-weight="normal">0.8</text>
<line x1="313.70" y1="177.50" x2="312.50" y2="177.50" stroke="#5a5a5a" stroke-width="0.5"/>
<text x="315.70" y="180.00" font-size="7" text-anchor="start" fill="#262626" font-weight="normal">1.0</text>
<line x1="313.70" y1="160.30" x2="312.50" y2="160.30" stroke="#5a5a5a" stroke-width="0.5"/>
<text x="315.70" y="162.80" font-size="7" text-anchor="start" fill="#262626" font-weight="normal">1.2</text>
<text x="335.50" y="213.70" font-size="7.6" text-anchor="middle" fill="#262626" font-weight="bold" transform="rotate(-90 335.5 213.70000000000002)">|E|/|E<tspan font-size="5.2" dy="1.5">0</tspan><tspan dy="-1.5">|</tspan></text>
<text x="347.50" y="153.50" font-size="8.5" text-anchor="start" fill="#000" font-weight="bold">g</text>
<g clip-path="url(#cg)">
<rect x="376.20" y="159.40" width="100.50" height="103.60" fill="#aac0fa" stroke="none" stroke-width="0.8"/>
<ellipse cx="427" cy="200" rx="40" ry="35" fill="#c8d6fc" filter="url(#bl3)"/>
<path d="M376.2,159.4 L396.2,159.4 L376.2,199.4Z" fill="#c3d3fc" filter="url(#bl3)"/>
<path d="M476.7,159.4 L456.7,159.4 L476.7,199.4Z" fill="#c3d3fc" filter="url(#bl3)"/>
<g opacity="0.42">
<line x1="432.4" y1="193.5" x2="548.9" y2="164.8" stroke="#ffffff" stroke-width="0.53"/>
<line x1="425.4" y1="187.1" x2="322.8" y2="124.8" stroke="#ffffff" stroke-width="0.21"/>
<line x1="426.0" y1="190.6" x2="526.7" y2="125.3" stroke="#ffffff" stroke-width="0.22"/>
<line x1="432.4" y1="198.0" x2="333.1" y2="130.6" stroke="#ffffff" stroke-width="0.22"/>
<line x1="421.6" y1="190.2" x2="522.1" y2="124.6" stroke="#ffffff" stroke-width="0.25"/>
<line x1="422.7" y1="188.2" x2="532.6" y2="140.0" stroke="#ffffff" stroke-width="0.53"/>
<line x1="422.2" y1="196.9" x2="308.9" y2="157.5" stroke="#ffffff" stroke-width="0.24"/>
<line x1="427.8" y1="197.8" x2="324.8" y2="136.2" stroke="#ffffff" stroke-width="0.41"/>
<line x1="426.6" y1="203.5" x2="534.7" y2="151.4" stroke="#ffffff" stroke-width="0.30"/>
<line x1="429.4" y1="190.6" x2="329.7" y2="123.8" stroke="#ffffff" stroke-width="0.41"/>
<line x1="429.8" y1="191.5" x2="508.1" y2="100.6" stroke="#ffffff" stroke-width="0.25"/>
<line x1="423.0" y1="192.5" x2="504.1" y2="104.1" stroke="#ffffff" stroke-width="0.37"/>
<line x1="430.2" y1="196.9" x2="345.7" y2="111.6" stroke="#ffffff" stroke-width="0.33"/>
<line x1="428.1" y1="197.0" x2="532.7" y2="138.2" stroke="#ffffff" stroke-width="0.54"/>
<line x1="426.7" y1="198.6" x2="543.0" y2="169.0" stroke="#ffffff" stroke-width="0.48"/>
<line x1="424.4" y1="193.3" x2="519.7" y2="120.4" stroke="#ffffff" stroke-width="0.21"/>
<line x1="425.3" y1="197.6" x2="528.4" y2="136.2" stroke="#ffffff" stroke-width="0.29"/>
<line x1="422.6" y1="190.7" x2="529.6" y2="136.5" stroke="#ffffff" stroke-width="0.55"/>
<line x1="423.0" y1="193.6" x2="312.2" y2="147.6" stroke="#ffffff" stroke-width="0.25"/>
<line x1="431.4" y1="191.3" x2="537.5" y2="135.4" stroke="#ffffff" stroke-width="0.34"/>
<line x1="432.5" y1="188.9" x2="546.2" y2="150.4" stroke="#ffffff" stroke-width="0.29"/>
<line x1="421.1" y1="201.8" x2="307.6" y2="162.9" stroke="#ffffff" stroke-width="0.31"/>
<line x1="426.0" y1="193.0" x2="326.0" y2="126.7" stroke="#ffffff" stroke-width="0.58"/>
<line x1="426.5" y1="202.5" x2="346.5" y2="113.1" stroke="#ffffff" stroke-width="0.47"/>
<line x1="425.8" y1="193.5" x2="529.4" y2="132.9" stroke="#ffffff" stroke-width="0.36"/>
<line x1="421.8" y1="190.0" x2="307.8" y2="152.6" stroke="#ffffff" stroke-width="0.34"/>
<line x1="422.2" y1="196.8" x2="320.9" y2="132.5" stroke="#ffffff" stroke-width="0.58"/>
<line x1="421.8" y1="190.0" x2="314.3" y2="136.8" stroke="#ffffff" stroke-width="0.45"/>
<line x1="428.2" y1="195.0" x2="543.4" y2="161.2" stroke="#ffffff" stroke-width="0.40"/>
<line x1="426.8" y1="191.9" x2="541.2" y2="155.9" stroke="#ffffff" stroke-width="0.50"/>
<line x1="426.7" y1="199.1" x2="528.9" y2="136.2" stroke="#ffffff" stroke-width="0.28"/>
<line x1="422.8" y1="196.3" x2="539.7" y2="169.3" stroke="#ffffff" stroke-width="0.41"/>
<line x1="429.4" y1="191.0" x2="321.4" y2="138.5" stroke="#ffffff" stroke-width="0.27"/>
<line x1="427.4" y1="200.8" x2="318.2" y2="151.0" stroke="#ffffff" stroke-width="0.29"/>
<line x1="430.7" y1="201.5" x2="338.9" y2="124.2" stroke="#ffffff" stroke-width="0.29"/>
<line x1="425.3" y1="186.6" x2="542.2" y2="159.4" stroke="#ffffff" stroke-width="0.31"/>
<line x1="423.3" y1="197.5" x2="532.0" y2="146.6" stroke="#ffffff" stroke-width="0.52"/>
<line x1="432.5" y1="192.9" x2="545.0" y2="151.1" stroke="#ffffff" stroke-width="0.29"/>
<line x1="425.1" y1="195.2" x2="347.0" y2="104.0" stroke="#ffffff" stroke-width="0.44"/>
<line x1="426.8" y1="198.4" x2="338.1" y2="117.5" stroke="#ffffff" stroke-width="0.23"/>
<line x1="431.9" y1="200.9" x2="340.7" y2="122.9" stroke="#ffffff" stroke-width="0.39"/>
<line x1="426.2" y1="198.1" x2="310.5" y2="166.4" stroke="#ffffff" stroke-width="0.58"/>
<line x1="426.6" y1="200.1" x2="542.3" y2="168.6" stroke="#ffffff" stroke-width="0.26"/>
<line x1="421.3" y1="197.2" x2="317.1" y2="137.8" stroke="#ffffff" stroke-width="0.46"/>
<line x1="428.9" y1="192.7" x2="529.7" y2="127.6" stroke="#ffffff" stroke-width="0.25"/>
<line x1="430.6" y1="199.8" x2="315.2" y2="166.9" stroke="#ffffff" stroke-width="0.50"/>
<line x1="426.2" y1="202.6" x2="339.0" y2="120.1" stroke="#ffffff" stroke-width="0.28"/>
<line x1="423.6" y1="195.5" x2="514.1" y2="116.8" stroke="#ffffff" stroke-width="0.33"/>
<line x1="431.0" y1="187.2" x2="522.8" y2="109.8" stroke="#ffffff" stroke-width="0.56"/>
<line x1="430.9" y1="202.7" x2="545.7" y2="167.7" stroke="#ffffff" stroke-width="0.26"/>
<line x1="431.5" y1="200.8" x2="333.3" y2="131.7" stroke="#ffffff" stroke-width="0.51"/>
<line x1="423.1" y1="195.0" x2="330.5" y2="118.6" stroke="#ffffff" stroke-width="0.42"/>
<line x1="429.2" y1="196.1" x2="532.8" y2="135.5" stroke="#ffffff" stroke-width="0.51"/>
<line x1="424.0" y1="191.3" x2="333.9" y2="112.0" stroke="#ffffff" stroke-width="0.40"/>
<line x1="430.1" y1="203.3" x2="325.0" y2="145.4" stroke="#ffffff" stroke-width="0.45"/>
<line x1="429.3" y1="194.6" x2="327.8" y2="130.5" stroke="#ffffff" stroke-width="0.39"/>
<line x1="429.4" y1="202.7" x2="348.8" y2="113.8" stroke="#ffffff" stroke-width="0.30"/>
<line x1="431.1" y1="188.6" x2="316.1" y2="154.3" stroke="#ffffff" stroke-width="0.38"/>
<line x1="429.1" y1="194.1" x2="316.3" y2="152.9" stroke="#ffffff" stroke-width="0.32"/>
<line x1="431.8" y1="188.9" x2="338.8" y2="113.1" stroke="#ffffff" stroke-width="0.46"/>
<line x1="424.0" y1="188.6" x2="319.9" y2="129.0" stroke="#ffffff" stroke-width="0.50"/>
<line x1="425.8" y1="195.3" x2="348.0" y2="103.9" stroke="#ffffff" stroke-width="0.53"/>
<line x1="429.5" y1="204.9" x2="322.9" y2="149.8" stroke="#ffffff" stroke-width="0.37"/>
<line x1="424.8" y1="199.7" x2="541.9" y2="173.3" stroke="#ffffff" stroke-width="0.42"/>
<line x1="429.4" y1="193.3" x2="531.6" y2="130.3" stroke="#ffffff" stroke-width="0.32"/>
<line x1="422.4" y1="203.5" x2="310.1" y2="161.1" stroke="#ffffff" stroke-width="0.55"/>
<line x1="424.2" y1="186.8" x2="334.5" y2="107.1" stroke="#ffffff" stroke-width="0.31"/>
<line x1="430.8" y1="202.1" x2="335.9" y2="128.8" stroke="#ffffff" stroke-width="0.58"/>
<line x1="422.8" y1="203.5" x2="522.6" y2="136.9" stroke="#ffffff" stroke-width="0.48"/>
<line x1="424.3" y1="201.2" x2="310.9" y2="162.2" stroke="#ffffff" stroke-width="0.56"/>
<line x1="432.3" y1="198.1" x2="520.8" y2="117.0" stroke="#ffffff" stroke-width="0.23"/>
<line x1="421.8" y1="202.4" x2="317.1" y2="143.8" stroke="#ffffff" stroke-width="0.34"/>
<line x1="432.1" y1="191.1" x2="546.9" y2="156.2" stroke="#ffffff" stroke-width="0.41"/>
<line x1="432.3" y1="204.4" x2="321.0" y2="159.6" stroke="#ffffff" stroke-width="0.27"/>
<line x1="428.5" y1="196.1" x2="541.4" y2="155.4" stroke="#ffffff" stroke-width="0.38"/>
<line x1="424.2" y1="201.3" x2="346.8" y2="109.6" stroke="#ffffff" stroke-width="0.21"/>
<line x1="429.8" y1="196.5" x2="316.5" y2="157.0" stroke="#ffffff" stroke-width="0.39"/>
<line x1="422.3" y1="201.6" x2="527.8" y2="144.4" stroke="#ffffff" stroke-width="0.40"/>
<line x1="432.6" y1="191.8" x2="545.3" y2="150.5" stroke="#ffffff" stroke-width="0.29"/>
<line x1="431.0" y1="199.4" x2="334.1" y2="128.6" stroke="#ffffff" stroke-width="0.36"/>
<line x1="432.8" y1="201.9" x2="549.9" y2="175.8" stroke="#ffffff" stroke-width="0.45"/>
<line x1="426.2" y1="187.1" x2="521.7" y2="114.4" stroke="#ffffff" stroke-width="0.35"/>
<line x1="428.2" y1="199.2" x2="544.8" y2="170.7" stroke="#ffffff" stroke-width="0.27"/>
<line x1="426.3" y1="191.0" x2="505.8" y2="101.1" stroke="#ffffff" stroke-width="0.59"/>
<line x1="423.9" y1="204.3" x2="533.8" y2="156.0" stroke="#ffffff" stroke-width="0.34"/>
<line x1="425.0" y1="187.6" x2="314.2" y2="141.5" stroke="#ffffff" stroke-width="0.46"/>
<line x1="427.1" y1="186.1" x2="315.8" y2="141.1" stroke="#ffffff" stroke-width="0.24"/>
<line x1="428.0" y1="193.5" x2="538.2" y2="145.9" stroke="#ffffff" stroke-width="0.45"/>
<line x1="428.0" y1="196.1" x2="336.8" y2="118.1" stroke="#ffffff" stroke-width="0.46"/>
<line x1="430.2" y1="199.7" x2="533.3" y2="138.3" stroke="#ffffff" stroke-width="0.31"/>
<line x1="433.6" y1="208.6" x2="472.9" y2="278.3" stroke="#ffffff" stroke-width="0.41"/>
<line x1="427.7" y1="215.7" x2="462.1" y2="288.0" stroke="#ffffff" stroke-width="0.35"/>
<line x1="450.0" y1="223.8" x2="478.9" y2="298.4" stroke="#ffffff" stroke-width="0.44"/>
<line x1="399.9" y1="222.2" x2="361.7" y2="292.4" stroke="#ffffff" stroke-width="0.41"/>
<line x1="452.5" y1="221.1" x2="460.5" y2="300.7" stroke="#ffffff" stroke-width="0.21"/>
<line x1="434.7" y1="229.0" x2="455.5" y2="306.2" stroke="#ffffff" stroke-width="0.34"/>
<line x1="401.8" y1="205.5" x2="374.5" y2="280.6" stroke="#ffffff" stroke-width="0.27"/>
<line x1="413.8" y1="216.4" x2="406.5" y2="296.1" stroke="#ffffff" stroke-width="0.48"/>
<line x1="449.3" y1="207.3" x2="476.4" y2="282.6" stroke="#ffffff" stroke-width="0.42"/>
<line x1="425.5" y1="225.2" x2="385.4" y2="294.5" stroke="#ffffff" stroke-width="0.27"/>
<line x1="441.4" y1="210.8" x2="473.6" y2="284.0" stroke="#ffffff" stroke-width="0.34"/>
<line x1="446.3" y1="206.9" x2="488.9" y2="274.7" stroke="#ffffff" stroke-width="0.29"/>
<line x1="401.6" y1="220.8" x2="388.6" y2="299.8" stroke="#ffffff" stroke-width="0.38"/>
<line x1="417.6" y1="221.3" x2="383.6" y2="293.7" stroke="#ffffff" stroke-width="0.39"/>
<line x1="406.5" y1="217.1" x2="381.0" y2="292.9" stroke="#ffffff" stroke-width="0.49"/>
<line x1="404.6" y1="210.4" x2="379.0" y2="286.2" stroke="#ffffff" stroke-width="0.41"/>
<line x1="415.0" y1="216.6" x2="378.0" y2="287.6" stroke="#ffffff" stroke-width="0.50"/>
<line x1="429.7" y1="212.8" x2="437.8" y2="292.4" stroke="#ffffff" stroke-width="0.34"/>
<line x1="415.2" y1="206.9" x2="388.9" y2="282.5" stroke="#ffffff" stroke-width="0.50"/>
<line x1="454.7" y1="214.7" x2="497.4" y2="282.3" stroke="#ffffff" stroke-width="0.48"/>
<line x1="403.2" y1="207.3" x2="367.0" y2="278.6" stroke="#ffffff" stroke-width="0.28"/>
<line x1="419.1" y1="220.1" x2="387.6" y2="293.6" stroke="#ffffff" stroke-width="0.28"/>
<line x1="405.3" y1="214.1" x2="379.4" y2="289.8" stroke="#ffffff" stroke-width="0.46"/>
<line x1="421.1" y1="209.0" x2="377.0" y2="275.8" stroke="#ffffff" stroke-width="0.40"/>
<line x1="421.7" y1="223.2" x2="399.2" y2="300.0" stroke="#ffffff" stroke-width="0.31"/>
<line x1="405.8" y1="213.3" x2="387.3" y2="291.1" stroke="#ffffff" stroke-width="0.30"/>
<line x1="421.3" y1="228.5" x2="408.4" y2="307.5" stroke="#ffffff" stroke-width="0.20"/>
<line x1="440.4" y1="211.3" x2="447.5" y2="291.0" stroke="#ffffff" stroke-width="0.32"/>
<line x1="447.7" y1="206.9" x2="490.8" y2="274.3" stroke="#ffffff" stroke-width="0.43"/>
<line x1="446.8" y1="212.0" x2="453.3" y2="291.8" stroke="#ffffff" stroke-width="0.40"/>
<line x1="434.6" y1="208.7" x2="479.4" y2="275.0" stroke="#ffffff" stroke-width="0.33"/>
<line x1="416.7" y1="224.3" x2="379.0" y2="294.9" stroke="#ffffff" stroke-width="0.33"/>
<line x1="400.6" y1="224.0" x2="378.8" y2="301.0" stroke="#ffffff" stroke-width="0.46"/>
<line x1="430.0" y1="210.1" x2="437.8" y2="289.7" stroke="#ffffff" stroke-width="0.48"/>
<line x1="422.0" y1="220.4" x2="411.7" y2="299.7" stroke="#ffffff" stroke-width="0.46"/>
<line x1="426.2" y1="227.8" x2="398.0" y2="302.7" stroke="#ffffff" stroke-width="0.25"/>
<line x1="422.2" y1="212.0" x2="406.7" y2="290.5" stroke="#ffffff" stroke-width="0.42"/>
<line x1="435.6" y1="215.2" x2="450.3" y2="293.8" stroke="#ffffff" stroke-width="0.34"/>
<line x1="436.5" y1="208.0" x2="468.5" y2="281.3" stroke="#ffffff" stroke-width="0.22"/>
<line x1="427.0" y1="225.3" x2="455.2" y2="300.2" stroke="#ffffff" stroke-width="0.34"/>
<line x1="417.6" y1="224.0" x2="394.7" y2="300.6" stroke="#ffffff" stroke-width="0.36"/>
<line x1="412.7" y1="209.4" x2="384.3" y2="284.2" stroke="#ffffff" stroke-width="0.30"/>
<line x1="419.6" y1="225.2" x2="406.5" y2="304.1" stroke="#ffffff" stroke-width="0.21"/>
<line x1="447.8" y1="214.6" x2="483.9" y2="285.9" stroke="#ffffff" stroke-width="0.26"/>
<line x1="414.1" y1="223.8" x2="388.2" y2="299.5" stroke="#ffffff" stroke-width="0.37"/>
<line x1="419.2" y1="222.2" x2="391.9" y2="297.4" stroke="#ffffff" stroke-width="0.44"/>
<line x1="446.5" y1="207.3" x2="488.6" y2="275.4" stroke="#ffffff" stroke-width="0.32"/>
<line x1="435.2" y1="215.8" x2="453.1" y2="293.8" stroke="#ffffff" stroke-width="0.44"/>
<line x1="453.2" y1="208.2" x2="476.1" y2="284.8" stroke="#ffffff" stroke-width="0.43"/>
<line x1="444.0" y1="229.2" x2="469.7" y2="305.0" stroke="#ffffff" stroke-width="0.22"/>
<line x1="451.1" y1="228.2" x2="478.3" y2="303.4" stroke="#ffffff" stroke-width="0.34"/>
<line x1="424.1" y1="224.6" x2="410.0" y2="303.3" stroke="#ffffff" stroke-width="0.25"/>
<line x1="453.4" y1="207.7" x2="492.7" y2="277.4" stroke="#ffffff" stroke-width="0.41"/>
<line x1="446.4" y1="227.4" x2="454.4" y2="307.0" stroke="#ffffff" stroke-width="0.43"/>
<line x1="399.1" y1="208.1" x2="370.1" y2="282.7" stroke="#ffffff" stroke-width="0.21"/>
<line x1="439.0" y1="229.1" x2="470.4" y2="302.7" stroke="#ffffff" stroke-width="0.36"/>
<line x1="423.5" y1="224.1" x2="414.9" y2="303.6" stroke="#ffffff" stroke-width="0.29"/>
<line x1="451.8" y1="209.8" x2="467.6" y2="288.2" stroke="#ffffff" stroke-width="0.44"/>
<line x1="399.1" y1="218.4" x2="353.3" y2="284.1" stroke="#ffffff" stroke-width="0.28"/>
<line x1="416.7" y1="226.0" x2="401.8" y2="304.6" stroke="#ffffff" stroke-width="0.36"/>
<line x1="429.6" y1="205.7" x2="451.9" y2="282.6" stroke="#ffffff" stroke-width="0.39"/>
<line x1="402.1" y1="209.9" x2="360.5" y2="278.2" stroke="#ffffff" stroke-width="0.39"/>
<line x1="403.5" y1="210.7" x2="380.7" y2="287.4" stroke="#ffffff" stroke-width="0.31"/>
<line x1="426.6" y1="222.4" x2="391.6" y2="294.3" stroke="#ffffff" stroke-width="0.31"/>
<line x1="421.2" y1="205.2" x2="404.1" y2="283.3" stroke="#ffffff" stroke-width="0.45"/>
<line x1="402.8" y1="217.4" x2="389.7" y2="296.3" stroke="#ffffff" stroke-width="0.43"/>
<line x1="409.9" y1="216.6" x2="393.9" y2="295.0" stroke="#ffffff" stroke-width="0.47"/>
<line x1="405.1" y1="220.6" x2="374.5" y2="294.5" stroke="#ffffff" stroke-width="0.47"/>
<line x1="426.2" y1="227.8" x2="419.5" y2="307.5" stroke="#ffffff" stroke-width="0.38"/>
<line x1="450.6" y1="206.4" x2="455.9" y2="286.2" stroke="#ffffff" stroke-width="0.38"/>
<line x1="452.5" y1="206.2" x2="490.4" y2="219.1" stroke="#ffffff" stroke-width="0.47"/>
<line x1="459.3" y1="225.0" x2="491.0" y2="249.4" stroke="#ffffff" stroke-width="0.30"/>
<line x1="395.5" y1="215.5" x2="358.2" y2="230.1" stroke="#ffffff" stroke-width="0.29"/>
<line x1="460.4" y1="224.7" x2="497.9" y2="238.7" stroke="#ffffff" stroke-width="0.23"/>
<line x1="399.2" y1="212.0" x2="367.9" y2="236.9" stroke="#ffffff" stroke-width="0.24"/>
<line x1="398.2" y1="220.4" x2="359.7" y2="231.3" stroke="#ffffff" stroke-width="0.44"/>
<line x1="401.5" y1="214.5" x2="363.5" y2="226.9" stroke="#ffffff" stroke-width="0.48"/>
<line x1="398.8" y1="219.7" x2="361.6" y2="234.5" stroke="#ffffff" stroke-width="0.39"/>
<line x1="393.9" y1="220.3" x2="354.1" y2="224.8" stroke="#ffffff" stroke-width="0.21"/>
<line x1="394.0" y1="206.2" x2="354.8" y2="214.4" stroke="#ffffff" stroke-width="0.22"/>
<line x1="455.6" y1="211.7" x2="487.0" y2="236.5" stroke="#ffffff" stroke-width="0.21"/>
<line x1="461.2" y1="210.9" x2="495.8" y2="231.1" stroke="#ffffff" stroke-width="0.38"/>
<line x1="401.8" y1="209.7" x2="364.6" y2="224.4" stroke="#ffffff" stroke-width="0.49"/>
<line x1="459.9" y1="223.3" x2="493.2" y2="245.4" stroke="#ffffff" stroke-width="0.24"/>
<line x1="453.8" y1="221.1" x2="488.2" y2="241.6" stroke="#ffffff" stroke-width="0.45"/>
<line x1="395.9" y1="211.6" x2="357.5" y2="222.7" stroke="#ffffff" stroke-width="0.31"/>
<line x1="396.9" y1="212.8" x2="357.6" y2="220.2" stroke="#ffffff" stroke-width="0.32"/>
<line x1="397.2" y1="215.9" x2="357.9" y2="223.3" stroke="#ffffff" stroke-width="0.33"/>
<line x1="392.1" y1="210.3" x2="352.5" y2="215.8" stroke="#ffffff" stroke-width="0.23"/>
<line x1="461.9" y1="224.4" x2="501.1" y2="232.1" stroke="#ffffff" stroke-width="0.24"/>
<line x1="458.2" y1="218.5" x2="492.4" y2="239.2" stroke="#ffffff" stroke-width="0.45"/>
<line x1="394.2" y1="210.9" x2="355.5" y2="221.1" stroke="#ffffff" stroke-width="0.28"/>
<line x1="459.4" y1="209.0" x2="498.2" y2="218.4" stroke="#ffffff" stroke-width="0.27"/>
<line x1="399.2" y1="223.2" x2="360.0" y2="231.2" stroke="#ffffff" stroke-width="0.22"/>
<line x1="461.9" y1="215.1" x2="500.9" y2="224.2" stroke="#ffffff" stroke-width="0.44"/>
<line x1="461.9" y1="207.0" x2="499.1" y2="221.8" stroke="#ffffff" stroke-width="0.45"/>
<line x1="461.1" y1="205.8" x2="499.7" y2="216.3" stroke="#ffffff" stroke-width="0.24"/>
<line x1="396.0" y1="221.6" x2="356.8" y2="229.7" stroke="#ffffff" stroke-width="0.22"/>
<line x1="397.5" y1="210.2" x2="363.7" y2="231.5" stroke="#ffffff" stroke-width="0.48"/>
<line x1="395.6" y1="219.2" x2="357.4" y2="231.0" stroke="#ffffff" stroke-width="0.21"/>
</g>
<path d="M405,159.4 L449,159.4 L432,185 L427.2,194 L422,185Z" fill="#fef9fa" filter="url(#bl3)" opacity="0.8"/>
<path d="M415,159.4 L439,159.4 L434,182 L427.2,194 L420,182Z" fill="#f8b1b5" filter="url(#bl15)"/>
<path d="M419,159.4 L435,159.4 L431,180 L427.2,190 L423,180Z" fill="#f6959a" filter="url(#bl07)"/>
<rect x="416" y="160.4" width="22" height="0.7" fill="#f8c8c8" opacity="0.5"/>
<rect x="416" y="162.3" width="22" height="0.7" fill="#f8c8c8" opacity="0.5"/>
<rect x="416" y="164.2" width="22" height="0.7" fill="#f8c8c8" opacity="0.5"/>
<rect x="416" y="166.1" width="22" height="0.7" fill="#f8c8c8" opacity="0.5"/>
<rect x="416" y="168.0" width="22" height="0.7" fill="#f8c8c8" opacity="0.5"/>
<rect x="416" y="169.9" width="22" height="0.7" fill="#f8c8c8" opacity="0.5"/>
<rect x="416" y="171.8" width="22" height="0.7" fill="#f8c8c8" opacity="0.5"/>
<rect x="416" y="173.7" width="22" height="0.7" fill="#f8c8c8" opacity="0.5"/>
<rect x="416" y="175.6" width="22" height="0.7" fill="#f8c8c8" opacity="0.5"/>
<rect x="416" y="177.5" width="22" height="0.7" fill="#f8c8c8" opacity="0.5"/>
<rect x="416" y="179.4" width="22" height="0.7" fill="#f8c8c8" opacity="0.5"/>
<rect x="416" y="181.3" width="22" height="0.7" fill="#f8c8c8" opacity="0.5"/>
<rect x="416" y="183.2" width="22" height="0.7" fill="#f8c8c8" opacity="0.5"/>
<rect x="416" y="185.1" width="22" height="0.7" fill="#f8c8c8" opacity="0.5"/>
<path d="M427.2,194.3 C420,200 410,210 403.9,216.7 C399,223 396.4,230 396.4,237 C396.4,245 398,255 399.2,263" stroke="#ee6068" stroke-width="1.3" fill="none" opacity="0.9"/>
<path d="M427.2,194.3 C434,200 444,210 450.5,216.7 C455,223 457.5,230 457.5,237 C457.5,245 456,255 454.3,263" stroke="#ee6068" stroke-width="1.3" fill="none" opacity="0.9"/>
<path d="M412,172 L416,185 L420,197 L424,205" stroke="#f08890" stroke-width="0.7" fill="none" opacity="0.8"/>
<path d="M442,172 L438,185 L434,197 L430,205" stroke="#f08890" stroke-width="0.7" fill="none" opacity="0.8"/>
<path d="M385,219 L395,214 L403,213" stroke="#f08890" stroke-width="0.7" fill="none" opacity="0.8"/>
<path d="M469,219 L459,214 L451,213" stroke="#f08890" stroke-width="0.7" fill="none" opacity="0.8"/>
<path d="M405,199 L411,205 L415,212" stroke="#f4a0a8" stroke-width="0.7" fill="none" opacity="0.7"/>
<path d="M449,199 L443,205 L439,212" stroke="#f4a0a8" stroke-width="0.7" fill="none" opacity="0.7"/>
</g>
<circle cx="411.30" cy="185.90" r="7.8" fill="none" stroke="#3c4664" stroke-width="0.6"/>
<circle cx="427.20" cy="185.90" r="7.8" fill="none" stroke="#3c4664" stroke-width="0.6"/>
<circle cx="443.10" cy="185.90" r="7.8" fill="none" stroke="#3c4664" stroke-width="0.6"/>
<circle cx="403.40" cy="199.60" r="7.8" fill="none" stroke="#3c4664" stroke-width="0.6"/>
<circle cx="419.30" cy="199.60" r="7.8" fill="none" stroke="#3c4664" stroke-width="0.6"/>
<circle cx="435.20" cy="199.60" r="7.8" fill="none" stroke="#3c4664" stroke-width="0.6"/>
<circle cx="451.10" cy="199.60" r="7.8" fill="none" stroke="#3c4664" stroke-width="0.6"/>
<circle cx="395.50" cy="213.00" r="7.8" fill="none" stroke="#3c4664" stroke-width="0.6"/>
<circle cx="411.30" cy="213.00" r="7.8" fill="none" stroke="#3c4664" stroke-width="0.6"/>
<circle cx="427.20" cy="213.00" r="7.8" fill="none" stroke="#3c4664" stroke-width="0.6"/>
<circle cx="443.10" cy="213.00" r="7.8" fill="none" stroke="#3c4664" stroke-width="0.6"/>
<circle cx="458.90" cy="213.00" r="7.8" fill="none" stroke="#3c4664" stroke-width="0.6"/>
<circle cx="403.40" cy="226.40" r="7.8" fill="none" stroke="#3c4664" stroke-width="0.6"/>
<circle cx="419.30" cy="226.40" r="7.8" fill="none" stroke="#3c4664" stroke-width="0.6"/>
<circle cx="435.20" cy="226.40" r="7.8" fill="none" stroke="#3c4664" stroke-width="0.6"/>
<circle cx="451.10" cy="226.40" r="7.8" fill="none" stroke="#3c4664" stroke-width="0.6"/>
<circle cx="411.30" cy="240.00" r="7.8" fill="none" stroke="#3c4664" stroke-width="0.6"/>
<circle cx="427.20" cy="240.00" r="7.8" fill="none" stroke="#3c4664" stroke-width="0.6"/>
<circle cx="443.10" cy="240.00" r="7.8" fill="none" stroke="#3c4664" stroke-width="0.6"/>
<rect x="376.20" y="159.40" width="100.50" height="103.60" fill="none" stroke="#5a5a5a" stroke-width="0.7"/>
<line x1="376.20" y1="171.10" x2="377.70" y2="171.10" stroke="#5a5a5a" stroke-width="0.8"/>
<line x1="476.70" y1="171.10" x2="475.20" y2="171.10" stroke="#5a5a5a" stroke-width="0.8"/>
<text x="374.20" y="173.60" font-size="7.6" text-anchor="end" fill="#262626" font-weight="normal">10</text>
<line x1="376.20" y1="186.60" x2="377.70" y2="186.60" stroke="#5a5a5a" stroke-width="0.8"/>
<line x1="476.70" y1="186.60" x2="475.20" y2="186.60" stroke="#5a5a5a" stroke-width="0.8"/>
<text x="374.20" y="189.10" font-size="7.6" text-anchor="end" fill="#262626" font-weight="normal">0</text>
<line x1="376.20" y1="202.10" x2="377.70" y2="202.10" stroke="#5a5a5a" stroke-width="0.8"/>
<line x1="476.70" y1="202.10" x2="475.20" y2="202.10" stroke="#5a5a5a" stroke-width="0.8"/>
<text x="374.20" y="204.60" font-size="7.6" text-anchor="end" fill="#262626" font-weight="normal">-10</text>
<line x1="376.20" y1="217.60" x2="377.70" y2="217.60" stroke="#5a5a5a" stroke-width="0.8"/>
<line x1="476.70" y1="217.60" x2="475.20" y2="217.60" stroke="#5a5a5a" stroke-width="0.8"/>
<text x="374.20" y="220.10" font-size="7.6" text-anchor="end" fill="#262626" font-weight="normal">-20</text>
<line x1="376.20" y1="233.10" x2="377.70" y2="233.10" stroke="#5a5a5a" stroke-width="0.8"/>
<line x1="476.70" y1="233.10" x2="475.20" y2="233.10" stroke="#5a5a5a" stroke-width="0.8"/>
<text x="374.20" y="235.60" font-size="7.6" text-anchor="end" fill="#262626" font-weight="normal">-30</text>
<line x1="376.20" y1="248.60" x2="377.70" y2="248.60" stroke="#5a5a5a" stroke-width="0.8"/>
<line x1="476.70" y1="248.60" x2="475.20" y2="248.60" stroke="#5a5a5a" stroke-width="0.8"/>
<text x="374.20" y="251.10" font-size="7.6" text-anchor="end" fill="#262626" font-weight="normal">-40</text>
<line x1="376.20" y1="264.10" x2="377.70" y2="264.10" stroke="#5a5a5a" stroke-width="0.8"/>
<line x1="476.70" y1="264.10" x2="475.20" y2="264.10" stroke="#5a5a5a" stroke-width="0.8"/>
<text x="374.20" y="266.60" font-size="7.6" text-anchor="end" fill="#262626" font-weight="normal">-50</text>
<line x1="396.30" y1="263.00" x2="396.30" y2="261.50" stroke="#5a5a5a" stroke-width="0.8"/>
<line x1="396.30" y1="159.40" x2="396.30" y2="160.90" stroke="#5a5a5a" stroke-width="0.8"/>
<text x="396.30" y="272.60" font-size="7.6" text-anchor="middle" fill="#262626" font-weight="normal">-20</text>
<line x1="427.00" y1="263.00" x2="427.00" y2="261.50" stroke="#5a5a5a" stroke-width="0.8"/>
<line x1="427.00" y1="159.40" x2="427.00" y2="160.90" stroke="#5a5a5a" stroke-width="0.8"/>
<text x="427.00" y="272.60" font-size="7.6" text-anchor="middle" fill="#262626" font-weight="normal">0</text>
<line x1="457.70" y1="263.00" x2="457.70" y2="261.50" stroke="#5a5a5a" stroke-width="0.8"/>
<line x1="457.70" y1="159.40" x2="457.70" y2="160.90" stroke="#5a5a5a" stroke-width="0.8"/>
<text x="457.70" y="272.60" font-size="7.6" text-anchor="middle" fill="#262626" font-weight="normal">20</text>
<text x="427.00" y="283.00" font-size="7.6" text-anchor="middle" fill="#262626" font-weight="normal">x (µm)</text>
<text x="359.30" y="210.60" font-size="7.6" text-anchor="middle" fill="#262626" font-weight="normal" transform="rotate(-90 359.3 210.6)"><tspan font-style="italic">y</tspan> (µm)</text>
<rect x="483.20" y="159.40" width="4.60" height="103.60" fill="url(#cbg)" stroke="#555" stroke-width="0.6"/>
<line x1="487.80" y1="263.00" x2="486.60" y2="263.00" stroke="#5a5a5a" stroke-width="0.5"/>
<text x="489.80" y="265.50" font-size="7" text-anchor="start" fill="#262626" font-weight="normal">0</text>
<line x1="487.80" y1="245.73" x2="486.60" y2="245.73" stroke="#5a5a5a" stroke-width="0.5"/>
<text x="489.80" y="248.23" font-size="7" text-anchor="start" fill="#262626" font-weight="normal">0.2</text>
<line x1="487.80" y1="228.47" x2="486.60" y2="228.47" stroke="#5a5a5a" stroke-width="0.5"/>
<text x="489.80" y="230.97" font-size="7" text-anchor="start" fill="#262626" font-weight="normal">0.4</text>
<line x1="487.80" y1="211.20" x2="486.60" y2="211.20" stroke="#5a5a5a" stroke-width="0.5"/>
<text x="489.80" y="213.70" font-size="7" text-anchor="start" fill="#262626" font-weight="normal">0.6</text>
<line x1="487.80" y1="193.93" x2="486.60" y2="193.93" stroke="#5a5a5a" stroke-width="0.5"/>
<text x="489.80" y="196.43" font-size="7" text-anchor="start" fill="#262626" font-weight="normal">0.8</text>
<line x1="487.80" y1="176.67" x2="486.60" y2="176.67" stroke="#5a5a5a" stroke-width="0.5"/>
<text x="489.80" y="179.17" font-size="7" text-anchor="start" fill="#262626" font-weight="normal">1.0</text>
<line x1="487.80" y1="159.40" x2="486.60" y2="159.40" stroke="#5a5a5a" stroke-width="0.5"/>
<text x="489.80" y="161.90" font-size="7" text-anchor="start" fill="#262626" font-weight="normal">1.2</text>
<text x="509.60" y="213.00" font-size="7.6" text-anchor="middle" fill="#262626" font-weight="bold" transform="rotate(-90 509.6 213.0)">|E|/|E<tspan font-size="5.2" dy="1.5">0</tspan><tspan dy="-1.5">|</tspan></text>
<text x="522.50" y="153.50" font-size="8.5" text-anchor="start" fill="#000" font-weight="bold">h</text>
<rect x="547.00" y="159.70" width="137.30" height="103.80" fill="none" stroke="#5a5a5a" stroke-width="0.8"/>
<line x1="547.00" y1="258.80" x2="548.50" y2="258.80" stroke="#5a5a5a" stroke-width="0.8"/>
<line x1="684.30" y1="258.80" x2="682.80" y2="258.80" stroke="#5a5a5a" stroke-width="0.8"/>
<text x="545.00" y="261.30" font-size="7.6" text-anchor="end" fill="#262626" font-weight="normal">0</text>
<line x1="547.00" y1="234.20" x2="548.50" y2="234.20" stroke="#5a5a5a" stroke-width="0.8"/>
<line x1="684.30" y1="234.20" x2="682.80" y2="234.20" stroke="#5a5a5a" stroke-width="0.8"/>
<text x="545.00" y="236.70" font-size="7.6" text-anchor="end" fill="#262626" font-weight="normal">0.5</text>
<line x1="547.00" y1="209.60" x2="548.50" y2="209.60" stroke="#5a5a5a" stroke-width="0.8"/>
<line x1="684.30" y1="209.60" x2="682.80" y2="209.60" stroke="#5a5a5a" stroke-width="0.8"/>
<text x="545.00" y="212.10" font-size="7.6" text-anchor="end" fill="#262626" font-weight="normal">1.0</text>
<line x1="547.00" y1="185.00" x2="548.50" y2="185.00" stroke="#5a5a5a" stroke-width="0.8"/>
<line x1="684.30" y1="185.00" x2="682.80" y2="185.00" stroke="#5a5a5a" stroke-width="0.8"/>
<text x="545.00" y="187.50" font-size="7.6" text-anchor="end" fill="#262626" font-weight="normal">1.5</text>
<line x1="547.00" y1="160.40" x2="548.50" y2="160.40" stroke="#5a5a5a" stroke-width="0.8"/>
<line x1="684.30" y1="160.40" x2="682.80" y2="160.40" stroke="#5a5a5a" stroke-width="0.8"/>
<text x="545.00" y="162.90" font-size="7.6" text-anchor="end" fill="#262626" font-weight="normal">2.0</text>
<line x1="573.30" y1="263.50" x2="573.30" y2="262.00" stroke="#5a5a5a" stroke-width="0.8"/>
<line x1="573.30" y1="159.70" x2="573.30" y2="161.20" stroke="#5a5a5a" stroke-width="0.8"/>
<text x="573.30" y="273.10" font-size="7.6" text-anchor="middle" fill="#262626" font-weight="normal">-20</text>
<line x1="615.90" y1="263.50" x2="615.90" y2="262.00" stroke="#5a5a5a" stroke-width="0.8"/>
<line x1="615.90" y1="159.70" x2="615.90" y2="161.20" stroke="#5a5a5a" stroke-width="0.8"/>
<text x="615.90" y="273.10" font-size="7.6" text-anchor="middle" fill="#262626" font-weight="normal">0</text>
<line x1="658.50" y1="263.50" x2="658.50" y2="262.00" stroke="#5a5a5a" stroke-width="0.8"/>
<line x1="658.50" y1="159.70" x2="658.50" y2="161.20" stroke="#5a5a5a" stroke-width="0.8"/>
<text x="658.50" y="273.10" font-size="7.6" text-anchor="middle" fill="#262626" font-weight="normal">20</text>
<text x="615.90" y="283.00" font-size="7.6" text-anchor="middle" fill="#262626" font-weight="normal"><tspan font-style="italic">x</tspan> (µm)</text>
<text x="527.50" y="213.00" font-size="7.2" text-anchor="middle" fill="#262626" font-weight="normal" transform="rotate(-90 527.5 213.0)">Averaged <tspan font-style="italic">P</tspan> (arb. units)</text>
<polyline points="547.10,258.80 547.56,258.80 548.02,258.80 548.48,258.80 548.94,258.80 549.40,258.80 549.86,258.80 550.32,258.80 550.78,258.80 551.24,258.80 551.70,258.80 552.16,258.80 552.62,258.80 553.08,258.80 553.54,258.80 554.00,258.80 554.46,258.80 554.92,258.80 555.38,258.80 555.84,258.80 556.30,258.80 556.77,258.80 557.23,258.80 557.69,258.80 558.15,258.80 558.61,258.80 559.07,258.80 559.53,258.80 559.99,258.80 560.45,258.80 560.91,258.80 561.37,258.80 561.83,258.80 562.29,258.80 562.75,258.80 563.21,258.80 563.67,258.80 564.13,258.80 564.59,258.80 565.05,258.80 565.51,258.80 565.97,258.80 566.43,258.80 566.89,258.80 567.35,258.80 567.81,258.80 568.27,258.80 568.73,258.80 569.19,258.80 569.65,258.80 570.11,258.80 570.57,258.80 571.03,258.80 571.49,258.80 571.95,258.80 572.41,258.80 572.87,258.80 573.33,258.80 573.79,258.80 574.25,258.80 574.71,258.80 575.17,258.80 575.63,258.79 576.09,258.79 576.55,258.79 577.01,258.79 577.47,258.79 577.93,258.78 578.39,258.78 578.85,258.78 579.31,258.77 579.77,258.76 580.23,258.76 580.70,258.75 581.16,258.74 581.62,258.73 582.08,258.71 582.54,258.70 583.00,258.68 583.46,258.66 583.92,258.63 584.38,258.60 584.84,258.57 585.30,258.53 585.76,258.48 586.22,258.43 586.68,258.37 587.14,258.30 587.60,258.22 588.06,258.14 588.52,258.03 588.98,257.92 589.44,257.79 589.90,257.65 590.36,257.49 590.82,257.30 591.28,257.10 591.74,256.88 592.20,256.63 592.66,256.35 593.12,256.04 593.58,255.71 594.04,255.34 594.50,254.93 594.96,254.49 595.42,254.01 595.88,253.49 596.34,252.92 596.80,252.31 597.26,251.65 597.72,250.95 598.18,250.19 598.64,249.39 599.10,248.53 599.56,247.62 600.02,246.67 600.48,245.66 600.94,244.59 601.40,243.48 601.86,242.33 602.32,241.12 602.78,239.87 603.24,238.58 603.70,237.26 604.17,235.90 604.63,234.51 605.09,233.10 605.55,231.67 606.01,230.23 606.47,228.79 606.93,227.34 607.39,225.90 607.85,224.48 608.31,223.08 608.77,221.71 609.23,220.38 609.69,219.09 610.15,217.86 610.61,216.69 611.07,215.58 611.53,214.55 611.99,213.61 612.45,212.75 612.91,211.98 613.37,211.32 613.83,210.76 614.29,210.30 614.75,209.96 615.21,209.73 615.67,209.61 616.13,209.61 616.59,209.73 617.05,209.96 617.51,210.30 617.97,210.76 618.43,211.32 618.89,211.98 619.35,212.75 619.81,213.61 620.27,214.55 620.73,215.58 621.19,216.69 621.65,217.86 622.11,219.09 622.57,220.38 623.03,221.71 623.49,223.08 623.95,224.48 624.41,225.90 624.87,227.34 625.33,228.79 625.79,230.23 626.25,231.67 626.71,233.10 627.17,234.51 627.63,235.90 628.10,237.26 628.56,238.58 629.02,239.87 629.48,241.12 629.94,242.33 630.40,243.48 630.86,244.59 631.32,245.66 631.78,246.67 632.24,247.62 632.70,248.53 633.16,249.39 633.62,250.19 634.08,250.95 634.54,251.65 635.00,252.31 635.46,252.92 635.92,253.49 636.38,254.01 636.84,254.49 637.30,254.93 637.76,255.34 638.22,255.71 638.68,256.04 639.14,256.35 639.60,256.63 640.06,256.88 640.52,257.10 640.98,257.30 641.44,257.49 641.90,257.65 642.36,257.79 642.82,257.92 643.28,258.03 643.74,258.14 644.20,258.22 644.66,258.30 645.12,258.37 645.58,258.43 646.04,258.48 646.50,258.53 646.96,258.57 647.42,258.60 647.88,258.63 648.34,258.66 648.80,258.68 649.26,258.70 649.72,258.71 650.18,258.73 650.64,258.74 651.10,258.75 651.57,258.76 652.03,258.76 652.49,258.77 652.95,258.78 653.41,258.78 653.87,258.78 654.33,258.79 654.79,258.79 655.25,258.79 655.71,258.79 656.17,258.79 656.63,258.80 657.09,258.80 657.55,258.80 658.01,258.80 658.47,258.80 658.93,258.80 659.39,258.80 659.85,258.80 660.31,258.80 660.77,258.80 661.23,258.80 661.69,258.80 662.15,258.80 662.61,258.80 663.07,258.80 663.53,258.80 663.99,258.80 664.45,258.80 664.91,258.80 665.37,258.80 665.83,258.80 666.29,258.80 666.75,258.80 667.21,258.80 667.67,258.80 668.13,258.80 668.59,258.80 669.05,258.80 669.51,258.80 669.97,258.80 670.43,258.80 670.89,258.80 671.35,258.80 671.81,258.80 672.27,258.80 672.73,258.80 673.19,258.80 673.65,258.80 674.11,258.80 674.57,258.80 675.03,258.80 675.50,258.80 675.96,258.80 676.42,258.80 676.88,258.80 677.34,258.80 677.80,258.80 678.26,258.80 678.72,258.80 679.18,258.80 679.64,258.80 680.10,258.80 680.56,258.80 681.02,258.80 681.48,258.80 681.94,258.80 682.40,258.80 682.86,258.80 683.32,258.80 683.78,258.80 684.24,258.80 684.70,258.80" fill="none" stroke="#a0a0a0" stroke-width="0.9" stroke-linejoin="round"/>
<polyline points="547.10,255.39 547.43,255.31 547.76,255.02 548.09,255.38 548.41,255.35 548.74,255.29 549.07,255.60 549.40,255.35 549.73,255.25 550.06,255.13 550.38,255.68 550.71,255.51 551.04,255.68 551.37,255.11 551.70,255.20 552.03,255.72 552.36,254.98 552.68,254.99 553.01,255.23 553.34,255.27 553.67,255.63 554.00,255.74 554.33,255.33 554.65,255.70 554.98,255.60 555.31,255.56 555.64,255.73 555.97,255.38 556.30,254.66 556.62,254.33 556.95,254.56 557.28,254.45 557.61,254.54 557.94,254.39 558.27,254.54 558.59,254.66 558.92,254.07 559.25,254.06 559.58,254.16 559.91,254.24 560.24,254.53 560.57,254.58 560.89,254.52 561.22,254.67 561.55,254.10 561.88,254.37 562.21,254.00 562.54,254.34 562.86,253.88 563.19,253.94 563.52,254.59 563.85,254.41 564.18,253.84 564.51,254.17 564.83,252.03 565.16,252.48 565.49,252.74 565.82,252.30 566.15,252.18 566.48,252.59 566.80,252.73 567.13,252.54 567.46,252.04 567.79,252.20 568.12,252.70 568.45,252.60 568.78,252.72 569.10,253.49 569.43,252.91 569.76,253.40 570.09,253.10 570.42,253.18 570.75,253.39 571.07,252.96 571.40,253.43 571.73,253.03 572.06,253.44 572.39,253.20 572.72,253.37 573.04,253.32 573.37,251.75 573.70,252.25 574.03,253.72 574.36,252.01 574.69,254.00 575.01,251.17 575.34,247.53 575.67,245.88 576.00,245.21 576.33,240.31 576.66,240.32 576.99,237.91 577.31,235.81 577.64,237.93 577.97,238.84 578.30,240.31 578.63,241.07 578.96,240.43 579.28,242.25 579.61,242.00 579.94,243.49 580.27,244.21 580.60,242.80 580.93,244.27 581.25,244.08 581.58,243.29 581.91,245.38 582.24,245.54 582.57,243.37 582.90,243.70 583.22,245.44 583.55,245.67 583.88,244.10 584.21,243.55 584.54,245.79 584.87,243.60 585.19,243.83 585.52,244.67 585.85,245.23 586.18,246.18 586.51,246.38 586.84,243.65 587.17,245.78 587.49,244.40 587.82,245.70 588.15,244.00 588.48,244.64 588.81,245.50 589.14,245.81 589.46,244.16 589.79,246.03 590.12,245.50 590.45,244.47 590.78,243.54 591.11,244.18 591.43,245.09 591.76,243.14 592.09,245.17 592.42,245.65 592.75,244.82 593.08,244.22 593.40,241.36 593.73,241.02 594.06,240.45 594.39,239.84 594.72,241.14 595.05,240.45 595.38,238.88 595.70,242.04 596.03,242.97 596.36,242.83 596.69,243.12 597.02,244.40 597.35,244.67 597.67,244.69 598.00,242.02 598.33,242.61 598.66,241.80 598.99,244.54 599.32,242.68 599.64,243.10 599.97,242.32 600.30,243.50 600.63,241.44 600.96,244.12 601.29,242.69 601.61,242.07 601.94,241.54 602.27,241.96 602.60,242.00 602.93,241.68 603.26,241.25 603.59,242.84 603.91,241.79 604.24,241.07 604.57,241.08 604.90,242.33 605.23,241.13 605.56,240.82 605.88,241.57 606.21,241.30 606.54,241.89 606.87,241.17 607.20,240.95 607.53,242.35 607.85,240.54 608.18,239.31 608.51,239.45 608.84,239.68 609.17,240.44 609.50,239.16 609.82,239.32 610.15,239.40 610.48,237.85 610.81,239.65 611.14,237.18 611.47,238.72 611.80,236.33 612.12,235.82 612.45,235.49 612.78,232.76 613.11,231.62 613.44,229.01 613.77,225.13 614.09,222.39 614.42,217.02 614.75,209.70 615.08,199.67 615.41,185.85 615.74,166.70 616.06,166.70 616.39,185.85 616.72,199.67 617.05,209.70 617.38,217.02 617.71,222.39 618.03,227.09 618.36,230.80 618.69,232.20 619.02,232.82 619.35,235.57 619.68,236.74 620.00,235.43 620.33,236.86 620.66,238.09 620.99,237.27 621.32,239.36 621.65,238.74 621.98,240.45 622.30,240.05 622.63,239.21 622.96,239.13 623.29,239.44 623.62,241.11 623.95,240.70 624.27,241.66 624.60,242.34 624.93,241.42 625.26,240.55 625.59,240.64 625.92,241.16 626.24,240.56 626.57,242.65 626.90,243.06 627.23,242.32 627.56,242.92 627.89,243.18 628.21,242.66 628.54,242.10 628.87,242.56 629.20,243.15 629.53,241.66 629.86,241.29 630.19,242.91 630.51,244.08 630.84,244.25 631.17,241.82 631.50,244.32 631.83,242.39 632.16,242.84 632.48,243.65 632.81,242.26 633.14,244.58 633.47,244.27 633.80,243.37 634.13,244.67 634.45,242.33 634.78,244.11 635.11,244.43 635.44,244.74 635.77,243.05 636.10,243.62 636.42,239.66 636.75,239.59 637.08,239.14 637.41,238.70 637.74,239.51 638.07,240.95 638.40,240.14 638.72,245.01 639.05,245.59 639.38,244.30 639.71,243.66 640.04,245.32 640.37,245.12 640.69,244.97 641.02,244.00 641.35,244.58 641.68,244.36 642.01,244.00 642.34,245.12 642.66,243.99 642.99,243.69 643.32,246.15 643.65,243.68 643.98,244.32 644.31,246.09 644.63,245.15 644.96,244.65 645.29,243.81 645.62,245.37 645.95,244.79 646.28,243.86 646.61,244.08 646.93,243.61 647.26,245.00 647.59,244.40 647.92,245.68 648.25,244.10 648.58,243.76 648.90,244.22 649.23,243.94 649.56,245.36 649.89,243.26 650.22,242.96 650.55,242.89 650.87,244.12 651.20,243.29 651.53,244.60 651.86,241.90 652.19,241.25 652.52,241.93 652.84,241.91 653.17,240.04 653.50,238.90 653.83,237.45 654.16,237.46 654.49,238.00 654.81,236.29 655.14,240.76 655.47,240.87 655.80,244.99 656.13,246.79 656.46,247.73 656.79,251.91 657.11,254.18 657.44,253.09 657.77,252.48 658.10,252.14 658.43,252.58 658.76,252.79 659.08,253.15 659.41,252.79 659.74,253.47 660.07,253.36 660.40,253.12 660.73,253.31 661.05,252.96 661.38,253.03 661.71,253.12 662.04,252.87 662.37,253.09 662.70,253.29 663.02,252.50 663.35,252.13 663.68,252.09 664.01,252.63 664.34,252.13 664.67,252.04 665.00,252.38 665.32,252.35 665.65,252.64 665.98,252.38 666.31,252.40 666.64,252.32 666.97,252.78 667.29,253.77 667.62,254.15 667.95,254.26 668.28,253.96 668.61,254.17 668.94,254.24 669.26,254.11 669.59,254.62 669.92,254.26 670.25,254.38 670.58,253.97 670.91,254.02 671.23,254.55 671.56,254.41 671.89,254.70 672.22,254.48 672.55,254.20 672.88,254.15 673.21,254.50 673.53,254.65 673.86,254.76 674.19,254.45 674.52,254.22 674.85,254.87 675.18,254.38 675.50,254.99 675.83,255.60 676.16,255.57 676.49,255.21 676.82,255.50 677.15,255.47 677.47,255.26 677.80,255.67 678.13,255.17 678.46,255.65 678.79,255.35 679.12,255.55 679.44,255.59 679.77,255.33 680.10,255.41 680.43,255.45 680.76,255.42 681.09,255.33 681.42,255.62 681.74,255.59 682.07,255.25 682.40,255.25 682.73,255.33 683.06,255.08 683.39,255.27 683.71,255.08 684.04,255.57 684.37,255.17 684.70,255.11" fill="none" stroke="#e25a64" stroke-width="0.9" stroke-linejoin="round"/>
<line x1="552.30" y1="166.30" x2="561.50" y2="166.30" stroke="#a0a0a0" stroke-width="0.9"/>
<text x="562.80" y="168.80" font-size="7.5" text-anchor="start" fill="#262626" font-weight="normal">Plane</text>
<line x1="552.30" y1="175.00" x2="561.50" y2="175.00" stroke="#e25a64" stroke-width="0.9"/>
<text x="562.80" y="177.50" font-size="7.5" text-anchor="start" fill="#262626" font-weight="normal">Yarn structure</text>
<text x="1.20" y="299.60" font-size="8.5" text-anchor="start" fill="#000" font-weight="bold">i</text>
<g clip-path="url(#ci0a)">
<rect x="6.20" y="306.20" width="82.00" height="69.50" fill="#585856" stroke="none" stroke-width="0.8"/>
<path d="M6.2,306 L20.2,306 L15.2,376 L6.2,376Z" fill="#3c3c3c" filter="url(#bl15)"/>
<path d="M66.2,306 L88.2,306 L88.2,376 L62.2,376Z" fill="#4a4a48" filter="url(#bl15)"/>
<path d="M83.2,318 L72.2,376" stroke="#222" stroke-width="2.2"/>
<path d="M84.7,318 L73.7,376" stroke="#e8e8e8" stroke-width="0.6"/>
<g transform="translate(38.2,350.5) rotate(-35)"><rect x="-5.5" y="-1.3" width="9" height="2.6" rx="1.3" fill="#222" stroke="#fff" stroke-width="0.55"/><path d="M3.5,-1.3 L6.5,0 L3.5,1.3Z" fill="#111" stroke="#fff" stroke-width="0.5"/></g>
<circle cx="45.7" cy="341.9" r="0.5" fill="#ddd"/>
<rect x="6.20" y="306.20" width="82.00" height="9.40" fill="#d0d0d0" stroke="none" stroke-width="0.8" opacity="0.95"/>
</g>
<text x="47.20" y="313.20" font-size="6.2" text-anchor="middle" fill="#222" font-weight="normal">(i) 9 mW (Ref. plane)</text>
<g clip-path="url(#ci0b)">
<rect x="6.20" y="378.30" width="82.00" height="11.00" fill="#b2bcc4" stroke="none" stroke-width="0.8"/>
<rect x="6.20" y="389.30" width="82.00" height="19.40" fill="#c8ccce" stroke="none" stroke-width="0.8"/>
<rect x="6.20" y="408.70" width="82.00" height="21.00" fill="#0e0e10" stroke="none" stroke-width="0.8"/>
<line x1="6.20" y1="389.30" x2="88.20" y2="389.30" stroke="#6a7278" stroke-width="0.6"/>
<line x1="7.76" y1="394.0" x2="7.76" y2="408.6" stroke="#151517" stroke-width="0.8"/>
<line x1="11.44" y1="394.0" x2="11.44" y2="408.6" stroke="#151517" stroke-width="0.8"/>
<line x1="15.12" y1="394.0" x2="15.12" y2="408.6" stroke="#151517" stroke-width="0.8"/>
<line x1="18.80" y1="392.0" x2="18.80" y2="408.6" stroke="#151517" stroke-width="0.8"/>
<line x1="22.48" y1="394.0" x2="22.48" y2="408.6" stroke="#151517" stroke-width="0.8"/>
<line x1="26.16" y1="394.0" x2="26.16" y2="408.6" stroke="#151517" stroke-width="0.8"/>
<line x1="29.84" y1="394.0" x2="29.84" y2="408.6" stroke="#151517" stroke-width="0.8"/>
<line x1="33.52" y1="394.0" x2="33.52" y2="408.6" stroke="#151517" stroke-width="0.8"/>
<line x1="37.20" y1="389.3" x2="37.20" y2="408.6" stroke="#151517" stroke-width="0.8"/>
<line x1="40.88" y1="394.0" x2="40.88" y2="408.6" stroke="#151517" stroke-width="0.8"/>
<line x1="44.56" y1="394.0" x2="44.56" y2="408.6" stroke="#151517" stroke-width="0.8"/>
<line x1="48.24" y1="394.0" x2="48.24" y2="408.6" stroke="#151517" stroke-width="0.8"/>
<line x1="51.92" y1="394.0" x2="51.92" y2="408.6" stroke="#151517" stroke-width="0.8"/>
<line x1="55.60" y1="392.0" x2="55.60" y2="408.6" stroke="#151517" stroke-width="0.8"/>
<line x1="59.28" y1="394.0" x2="59.28" y2="408.6" stroke="#151517" stroke-width="0.8"/>
<line x1="62.96" y1="394.0" x2="62.96" y2="408.6" stroke="#151517" stroke-width="0.8"/>
<line x1="66.64" y1="394.0" x2="66.64" y2="408.6" stroke="#151517" stroke-width="0.8"/>
<line x1="70.32" y1="394.0" x2="70.32" y2="408.6" stroke="#151517" stroke-width="0.8"/>
<line x1="74.00" y1="389.3" x2="74.00" y2="408.6" stroke="#151517" stroke-width="0.8"/>
<line x1="77.68" y1="394.0" x2="77.68" y2="408.6" stroke="#151517" stroke-width="0.8"/>
<line x1="81.36" y1="394.0" x2="81.36" y2="408.6" stroke="#151517" stroke-width="0.8"/>
<line x1="85.04" y1="394.0" x2="85.04" y2="408.6" stroke="#151517" stroke-width="0.8"/>
<text x="37.20" y="386.0" font-size="7.6" font-weight="bold" text-anchor="middle" fill="#1a1a1a" transform="rotate(180 37.20 383.2)">8</text>
<text x="74.00" y="386.0" font-size="7.6" font-weight="bold" text-anchor="middle" fill="#1a1a1a" transform="rotate(180 74.00 383.2)">7</text>
<g transform="translate(35.2,420.5) rotate(-35)"><rect x="-5.5" y="-1.3" width="9" height="2.6" rx="1.3" fill="#111" stroke="#fff" stroke-width="0.55"/><path d="M3.5,-1.3 L6.5,0 L3.5,1.3Z" fill="#111" stroke="#fff" stroke-width="0.5"/></g>
<circle cx="46.2" cy="413.5" r="0.4" fill="#888"/>
</g>
<rect x="70.7" y="370.6" width="11.5" height="1.6" rx="0.5" fill="#222" stroke="#eee" stroke-width="0.5"/>
<rect x="70.7" y="424.6" width="11.5" height="1.6" rx="0.5" fill="#222" stroke="#eee" stroke-width="0.5"/>
<g clip-path="url(#ci1a)">
<rect x="90.30" y="306.20" width="81.10" height="69.50" fill="#2a2a2c" stroke="none" stroke-width="0.8"/>
<path d="M90.3,322 L112.3,316 L102.3,376 L90.3,376Z" fill="#46464e" filter="url(#bl15)"/>
<path d="M112.3,316 L159.4,316 L159.4,322 L110.3,324Z" fill="#18181a" filter="url(#bl07)"/>
<path d="M159.4,316 L171.4,316 L171.4,376 L161.4,376Z" fill="#5a5a5c" filter="url(#bl15)"/>
<path d="M158.4,355 C165.4,352 169.4,356 171.4,362 L171.4,376 L157.4,376Z" fill="#1a1a1a" filter="url(#bl15)"/>
<path d="M100.3,364 L157.4,366 L157.4,376 L98.3,376Z" fill="#1c1c1e" filter="url(#bl15)"/>
<path d="M114.2,324.6 L157.4,327 L153.1,362.6 L104.3,356.9Z" fill="url(#tstripe)"/>
<ellipse cx="131.8" cy="343.4" rx="3.6" ry="2.6" fill="url(#spot)"/>
<rect x="90.30" y="306.20" width="81.10" height="9.40" fill="#d0d0d0" stroke="none" stroke-width="0.8" opacity="0.95"/>
</g>
<text x="130.85" y="313.20" font-size="6.2" text-anchor="middle" fill="#222" font-weight="normal">(ii) 9 mW (Textile)</text>
<g clip-path="url(#ci1b)">
<rect x="90.30" y="378.30" width="81.10" height="11.00" fill="#b2bcc4" stroke="none" stroke-width="0.8"/>
<rect x="90.30" y="389.30" width="81.10" height="19.40" fill="#c8ccce" stroke="none" stroke-width="0.8"/>
<rect x="90.30" y="408.70" width="81.10" height="21.00" fill="#c4b6ab" stroke="none" stroke-width="0.8"/>
<line x1="90.30" y1="389.30" x2="171.40" y2="389.30" stroke="#6a7278" stroke-width="0.6"/>
<line x1="92.74" y1="394.0" x2="92.74" y2="408.6" stroke="#151517" stroke-width="0.8"/>
<line x1="96.42" y1="394.0" x2="96.42" y2="408.6" stroke="#151517" stroke-width="0.8"/>
<line x1="100.10" y1="392.0" x2="100.10" y2="408.6" stroke="#151517" stroke-width="0.8"/>
<line x1="103.78" y1="394.0" x2="103.78" y2="408.6" stroke="#151517" stroke-width="0.8"/>
<line x1="107.46" y1="394.0" x2="107.46" y2="408.6" stroke="#151517" stroke-width="0.8"/>
<line x1="111.14" y1="394.0" x2="111.14" y2="408.6" stroke="#151517" stroke-width="0.8"/>
<line x1="114.82" y1="394.0" x2="114.82" y2="408.6" stroke="#151517" stroke-width="0.8"/>
<line x1="118.50" y1="389.3" x2="118.50" y2="408.6" stroke="#151517" stroke-width="0.8"/>
<line x1="122.18" y1="394.0" x2="122.18" y2="408.6" stroke="#151517" stroke-width="0.8"/>
<line x1="125.86" y1="394.0" x2="125.86" y2="408.6" stroke="#151517" stroke-width="0.8"/>
<line x1="129.54" y1="394.0" x2="129.54" y2="408.6" stroke="#151517" stroke-width="0.8"/>
<line x1="133.22" y1="394.0" x2="133.22" y2="408.6" stroke="#151517" stroke-width="0.8"/>
<line x1="136.90" y1="392.0" x2="136.90" y2="408.6" stroke="#151517" stroke-width="0.8"/>
<line x1="140.58" y1="394.0" x2="140.58" y2="408.6" stroke="#151517" stroke-width="0.8"/>
<line x1="144.26" y1="394.0" x2="144.26" y2="408.6" stroke="#151517" stroke-width="0.8"/>
<line x1="147.94" y1="394.0" x2="147.94" y2="408.6" stroke="#151517" stroke-width="0.8"/>
<line x1="151.62" y1="394.0" x2="151.62" y2="408.6" stroke="#151517" stroke-width="0.8"/>
<line x1="155.30" y1="389.3" x2="155.30" y2="408.6" stroke="#151517" stroke-width="0.8"/>
<line x1="158.98" y1="394.0" x2="158.98" y2="408.6" stroke="#151517" stroke-width="0.8"/>
<line x1="162.66" y1="394.0" x2="162.66" y2="408.6" stroke="#151517" stroke-width="0.8"/>
<line x1="166.34" y1="394.0" x2="166.34" y2="408.6" stroke="#151517" stroke-width="0.8"/>
<line x1="170.02" y1="394.0" x2="170.02" y2="408.6" stroke="#151517" stroke-width="0.8"/>
<text x="118.50" y="386.0" font-size="7.6" font-weight="bold" text-anchor="middle" fill="#1a1a1a" transform="rotate(180 118.50 383.2)">8</text>
<text x="155.30" y="386.0" font-size="7.6" font-weight="bold" text-anchor="middle" fill="#1a1a1a" transform="rotate(180 155.30 383.2)">7</text>
<ellipse cx="128.4" cy="415.4" rx="3.3" ry="2.2" fill="url(#spot)"/>
</g>
<rect x="153.9" y="370.6" width="11.5" height="1.6" rx="0.5" fill="#222" stroke="#eee" stroke-width="0.5"/>
<rect x="153.9" y="424.6" width="11.5" height="1.6" rx="0.5" fill="#222" stroke="#eee" stroke-width="0.5"/>
<g clip-path="url(#ci2a)">
<rect x="173.10" y="306.20" width="81.30" height="69.50" fill="#2a2a2c" stroke="none" stroke-width="0.8"/>
<path d="M173.1,322 L195.1,316 L185.1,376 L173.1,376Z" fill="#46464e" filter="url(#bl15)"/>
<path d="M195.1,316 L242.4,316 L242.4,322 L193.1,324Z" fill="#18181a" filter="url(#bl07)"/>
<path d="M242.4,316 L254.4,316 L254.4,376 L244.4,376Z" fill="#5a5a5c" filter="url(#bl15)"/>
<path d="M241.4,355 C248.4,352 252.4,356 254.4,362 L254.4,376 L240.4,376Z" fill="#1a1a1a" filter="url(#bl15)"/>
<path d="M183.1,364 L240.4,366 L240.4,376 L181.1,376Z" fill="#1c1c1e" filter="url(#bl15)"/>
<ellipse cx="173.1" cy="344" rx="18" ry="16" fill="url(#bglow)" opacity="0.55"/>
<ellipse cx="175.1" cy="344" rx="5" ry="6" fill="#4060ff" opacity="0.5" filter="url(#bl3)"/>
<path d="M197.0,324.6 L240.2,327 L235.9,362.6 L187.1,356.9Z" fill="url(#tstripe)"/>
<ellipse cx="214.6" cy="343.4" rx="4.5" ry="3.2" fill="url(#spot)"/>
<rect x="173.10" y="306.20" width="81.30" height="9.40" fill="#d0d0d0" stroke="none" stroke-width="0.8" opacity="0.95"/>
</g>
<text x="213.75" y="313.20" font-size="6.2" text-anchor="middle" fill="#222" font-weight="normal">(iii) 32 mW (Textile)</text>
<g clip-path="url(#ci2b)">
<rect x="173.10" y="378.30" width="81.30" height="11.00" fill="#b2bcc4" stroke="none" stroke-width="0.8"/>
<rect x="173.10" y="389.30" width="81.30" height="19.40" fill="#c8ccce" stroke="none" stroke-width="0.8"/>
<rect x="173.10" y="408.70" width="81.30" height="21.00" fill="#c4b6ab" stroke="none" stroke-width="0.8"/>
<line x1="173.10" y1="389.30" x2="254.40" y2="389.30" stroke="#6a7278" stroke-width="0.6"/>
<line x1="173.76" y1="394.0" x2="173.76" y2="408.6" stroke="#151517" stroke-width="0.8"/>
<line x1="177.44" y1="394.0" x2="177.44" y2="408.6" stroke="#151517" stroke-width="0.8"/>
<line x1="181.12" y1="394.0" x2="181.12" y2="408.6" stroke="#151517" stroke-width="0.8"/>
<line x1="184.80" y1="392.0" x2="184.80" y2="408.6" stroke="#151517" stroke-width="0.8"/>
<line x1="188.48" y1="394.0" x2="188.48" y2="408.6" stroke="#151517" stroke-width="0.8"/>
<line x1="192.16" y1="394.0" x2="192.16" y2="408.6" stroke="#151517" stroke-width="0.8"/>
<line x1="195.84" y1="394.0" x2="195.84" y2="408.6" stroke="#151517" stroke-width="0.8"/>
<line x1="199.52" y1="394.0" x2="199.52" y2="408.6" stroke="#151517" stroke-width="0.8"/>
<line x1="203.20" y1="389.3" x2="203.20" y2="408.6" stroke="#151517" stroke-width="0.8"/>
<line x1="206.88" y1="394.0" x2="206.88" y2="408.6" stroke="#151517" stroke-width="0.8"/>
<line x1="210.56" y1="394.0" x2="210.56" y2="408.6" stroke="#151517" stroke-width="0.8"/>
<line x1="214.24" y1="394.0" x2="214.24" y2="408.6" stroke="#151517" stroke-width="0.8"/>
<line x1="217.92" y1="394.0" x2="217.92" y2="408.6" stroke="#151517" stroke-width="0.8"/>
<line x1="221.60" y1="392.0" x2="221.60" y2="408.6" stroke="#151517" stroke-width="0.8"/>
<line x1="225.28" y1="394.0" x2="225.28" y2="408.6" stroke="#151517" stroke-width="0.8"/>
<line x1="228.96" y1="394.0" x2="228.96" y2="408.6" stroke="#151517" stroke-width="0.8"/>
<line x1="232.64" y1="394.0" x2="232.64" y2="408.6" stroke="#151517" stroke-width="0.8"/>
<line x1="236.32" y1="394.0" x2="236.32" y2="408.6" stroke="#151517" stroke-width="0.8"/>
<line x1="240.00" y1="389.3" x2="240.00" y2="408.6" stroke="#151517" stroke-width="0.8"/>
<line x1="243.68" y1="394.0" x2="243.68" y2="408.6" stroke="#151517" stroke-width="0.8"/>
<line x1="247.36" y1="394.0" x2="247.36" y2="408.6" stroke="#151517" stroke-width="0.8"/>
<line x1="251.04" y1="394.0" x2="251.04" y2="408.6" stroke="#151517" stroke-width="0.8"/>
<text x="203.20" y="386.0" font-size="7.6" font-weight="bold" text-anchor="middle" fill="#1a1a1a" transform="rotate(180 203.20 383.2)">8</text>
<text x="240.00" y="386.0" font-size="7.6" font-weight="bold" text-anchor="middle" fill="#1a1a1a" transform="rotate(180 240.00 383.2)">7</text>
<ellipse cx="211.2" cy="415.4" rx="3.9" ry="2.6" fill="url(#spot)"/>
</g>
<rect x="236.9" y="370.6" width="11.5" height="1.6" rx="0.5" fill="#222" stroke="#eee" stroke-width="0.5"/>
<rect x="236.9" y="424.6" width="11.5" height="1.6" rx="0.5" fill="#222" stroke="#eee" stroke-width="0.5"/>
<g clip-path="url(#ci3a)">
<rect x="257.00" y="306.20" width="81.70" height="69.50" fill="#2a2a2c" stroke="none" stroke-width="0.8"/>
<path d="M257.0,322 L279.0,316 L269.0,376 L257.0,376Z" fill="#46464e" filter="url(#bl15)"/>
<path d="M279.0,316 L326.7,316 L326.7,322 L277.0,324Z" fill="#18181a" filter="url(#bl07)"/>
<path d="M326.7,316 L338.7,316 L338.7,376 L328.7,376Z" fill="#5a5a5c" filter="url(#bl15)"/>
<path d="M325.7,355 C332.7,352 336.7,356 338.7,362 L338.7,376 L324.7,376Z" fill="#1a1a1a" filter="url(#bl15)"/>
<path d="M267.0,364 L324.7,366 L324.7,376 L265.0,376Z" fill="#1c1c1e" filter="url(#bl15)"/>
<ellipse cx="257.0" cy="344" rx="26" ry="22" fill="url(#bglow)" opacity="1.0"/>
<ellipse cx="259.0" cy="344" rx="8" ry="9" fill="#4060ff" opacity="0.8" filter="url(#bl3)"/>
<path d="M280.9,324.6 L324.1,327 L319.8,362.6 L271.0,356.9Z" fill="url(#tstripe)"/>
<ellipse cx="298.5" cy="343.4" rx="5.0" ry="3.6" fill="url(#spot)"/>
<rect x="257.00" y="306.20" width="81.70" height="9.40" fill="#d0d0d0" stroke="none" stroke-width="0.8" opacity="0.95"/>
</g>
<text x="297.85" y="313.20" font-size="6.2" text-anchor="middle" fill="#222" font-weight="normal">(iv) 266 mW (Textile)</text>
<g clip-path="url(#ci3b)">
<rect x="257.00" y="378.30" width="81.70" height="11.00" fill="#b2bcc4" stroke="none" stroke-width="0.8"/>
<rect x="257.00" y="389.30" width="81.70" height="19.40" fill="#c8ccce" stroke="none" stroke-width="0.8"/>
<rect x="257.00" y="408.70" width="81.70" height="21.00" fill="#c4b6ab" stroke="none" stroke-width="0.8"/>
<line x1="257.00" y1="389.30" x2="338.70" y2="389.30" stroke="#6a7278" stroke-width="0.6"/>
<line x1="260.44" y1="394.0" x2="260.44" y2="408.6" stroke="#151517" stroke-width="0.8"/>
<line x1="264.12" y1="394.0" x2="264.12" y2="408.6" stroke="#151517" stroke-width="0.8"/>
<line x1="267.80" y1="392.0" x2="267.80" y2="408.6" stroke="#151517" stroke-width="0.8"/>
<line x1="271.48" y1="394.0" x2="271.48" y2="408.6" stroke="#151517" stroke-width="0.8"/>
<line x1="275.16" y1="394.0" x2="275.16" y2="408.6" stroke="#151517" stroke-width="0.8"/>
<line x1="278.84" y1="394.0" x2="278.84" y2="408.6" stroke="#151517" stroke-width="0.8"/>
<line x1="282.52" y1="394.0" x2="282.52" y2="408.6" stroke="#151517" stroke-width="0.8"/>
<line x1="286.20" y1="389.3" x2="286.20" y2="408.6" stroke="#151517" stroke-width="0.8"/>
<line x1="289.88" y1="394.0" x2="289.88" y2="408.6" stroke="#151517" stroke-width="0.8"/>
<line x1="293.56" y1="394.0" x2="293.56" y2="408.6" stroke="#151517" stroke-width="0.8"/>
<line x1="297.24" y1="394.0" x2="297.24" y2="408.6" stroke="#151517" stroke-width="0.8"/>
<line x1="300.92" y1="394.0" x2="300.92" y2="408.6" stroke="#151517" stroke-width="0.8"/>
<line x1="304.60" y1="392.0" x2="304.60" y2="408.6" stroke="#151517" stroke-width="0.8"/>
<line x1="308.28" y1="394.0" x2="308.28" y2="408.6" stroke="#151517" stroke-width="0.8"/>
<line x1="311.96" y1="394.0" x2="311.96" y2="408.6" stroke="#151517" stroke-width="0.8"/>
<line x1="315.64" y1="394.0" x2="315.64" y2="408.6" stroke="#151517" stroke-width="0.8"/>
<line x1="319.32" y1="394.0" x2="319.32" y2="408.6" stroke="#151517" stroke-width="0.8"/>
<line x1="323.00" y1="389.3" x2="323.00" y2="408.6" stroke="#151517" stroke-width="0.8"/>
<line x1="326.68" y1="394.0" x2="326.68" y2="408.6" stroke="#151517" stroke-width="0.8"/>
<line x1="330.36" y1="394.0" x2="330.36" y2="408.6" stroke="#151517" stroke-width="0.8"/>
<line x1="334.04" y1="394.0" x2="334.04" y2="408.6" stroke="#151517" stroke-width="0.8"/>
<line x1="337.72" y1="394.0" x2="337.72" y2="408.6" stroke="#151517" stroke-width="0.8"/>
<text x="286.20" y="386.0" font-size="7.6" font-weight="bold" text-anchor="middle" fill="#1a1a1a" transform="rotate(180 286.20 383.2)">8</text>
<text x="323.00" y="386.0" font-size="7.6" font-weight="bold" text-anchor="middle" fill="#1a1a1a" transform="rotate(180 323.00 383.2)">7</text>
<ellipse cx="295.1" cy="415.4" rx="4.8" ry="3.2" fill="url(#spot)"/>
</g>
<rect x="321.2" y="370.6" width="11.5" height="1.6" rx="0.5" fill="#222" stroke="#eee" stroke-width="0.5"/>
<rect x="321.2" y="424.6" width="11.5" height="1.6" rx="0.5" fill="#222" stroke="#eee" stroke-width="0.5"/>
<text x="327.20" y="367.80" font-size="5.6" text-anchor="middle" fill="#fff" font-weight="bold">5 mm</text>
<text x="327.20" y="422.80" font-size="5.6" text-anchor="middle" fill="#fff" font-weight="bold">5 mm</text>
<text x="348.50" y="300.50" font-size="8.5" text-anchor="start" fill="#000" font-weight="bold">j</text>
<rect x="354.60" y="306.60" width="78.20" height="8.90" fill="#ececec" stroke="#555" stroke-width="0.6"/>
<rect x="434.40" y="306.60" width="78.50" height="8.90" fill="#ececec" stroke="#555" stroke-width="0.6"/>
<text x="393.70" y="313.50" font-size="6.6" text-anchor="middle" fill="#262626" font-weight="normal">(i) 500 × 500 µm</text>
<text x="473.60" y="313.50" font-size="6.6" text-anchor="middle" fill="#262626" font-weight="normal">(i) 750 × 750 µm</text>
<g clip-path="url(#cj00)">
<rect x="354.6" y="317.2" width="78.19999999999999" height="55.19999999999999" fill="url(#chev)" filter="url(#bl06)"/>
<rect x="379.8" y="332.2" width="28.19999999999999" height="28.0" fill="#5a5a5a" opacity="0.42" filter="url(#bl3)"/>
</g>
<rect x="382.8" y="335.2" width="22.19999999999999" height="22.0" fill="none" stroke="#f09aa4" stroke-width="1.1" stroke-dasharray="2.0,1.2"/>
<rect x="354.60" y="317.20" width="78.20" height="55.20" fill="none" stroke="#444" stroke-width="0.6"/>
<rect x="355.00" y="317.60" width="30.00" height="9.20" fill="#e6e6e6" stroke="none" stroke-width="0.8" opacity="0.75"/>
<text x="359.60" y="325.50" font-size="6.6" text-anchor="start" fill="#222" font-weight="normal">0% strain</text>
<line x1="407.80" y1="369.60" x2="428.60" y2="369.60" stroke="#555" stroke-width="1.3"/>
<g clip-path="url(#cj01)">
<rect x="434.4" y="317.2" width="78.5" height="55.19999999999999" fill="url(#chev)" filter="url(#bl06)"/>
<rect x="453.6" y="327.9" width="39.299999999999955" height="39.200000000000045" fill="#5a5a5a" opacity="0.42" filter="url(#bl3)"/>
</g>
<rect x="456.6" y="330.9" width="33.299999999999955" height="33.200000000000045" fill="none" stroke="#f09aa4" stroke-width="1.1" stroke-dasharray="2.0,1.2"/>
<rect x="434.40" y="317.20" width="78.50" height="55.20" fill="none" stroke="#444" stroke-width="0.6"/>
<rect x="434.80" y="317.60" width="30.00" height="9.20" fill="#e6e6e6" stroke="none" stroke-width="0.8" opacity="0.75"/>
<text x="439.40" y="325.50" font-size="6.6" text-anchor="start" fill="#222" font-weight="normal">0% strain</text>
<line x1="487.90" y1="369.60" x2="508.70" y2="369.60" stroke="#555" stroke-width="1.3"/>
<g clip-path="url(#cj10)">
<rect x="354.6" y="374.2" width="78.19999999999999" height="55.60000000000002" fill="url(#chev2)" filter="url(#bl06)"/>
<rect x="379.8" y="391.8" width="28.19999999999999" height="27.69999999999999" fill="#5a5a5a" opacity="0.42" filter="url(#bl3)"/>
<g filter="url(#bl06)">
<rect x="388.8" y="373.7" width="4.9" height="5.2" rx="1" fill="#080808"/>
<rect x="401.0" y="373.7" width="5.0" height="5.2" rx="1" fill="#080808"/>
<rect x="415.8" y="373.7" width="4.9" height="5.2" rx="1" fill="#080808"/>
<rect x="428.0" y="373.7" width="3.7" height="5.2" rx="1" fill="#080808"/>
<rect x="355.7" y="383.9" width="3.7" height="5.2" rx="1" fill="#080808"/>
<rect x="363.0" y="383.9" width="5.0" height="5.2" rx="1" fill="#080808"/>
<rect x="407.0" y="383.9" width="5.0" height="5.2" rx="1" fill="#080808"/>
<rect x="420.7" y="383.9" width="4.9" height="5.2" rx="1" fill="#080808"/>
<rect x="429.0" y="383.9" width="3.8" height="5.2" rx="1" fill="#080808"/>
<rect x="354.6" y="394.5" width="4.8" height="5.2" rx="1" fill="#080808"/>
<rect x="369.2" y="394.5" width="7.3" height="5.2" rx="1" fill="#080808"/>
<rect x="398.6" y="394.5" width="4.9" height="5.2" rx="1" fill="#080808"/>
<rect x="410.9" y="394.5" width="7.3" height="5.2" rx="1" fill="#080808"/>
<rect x="425.6" y="394.5" width="6.1" height="5.2" rx="1" fill="#080808"/>
<rect x="355.7" y="407.2" width="4.8" height="5.2" rx="1" fill="#080808"/>
<rect x="364.0" y="407.2" width="6.0" height="5.2" rx="1" fill="#080808"/>
<rect x="380.0" y="407.2" width="4.0" height="5.2" rx="1" fill="#080808"/>
<rect x="410.6" y="407.2" width="4.9" height="5.2" rx="1" fill="#080808"/>
<rect x="422.7" y="407.2" width="4.8" height="5.2" rx="1" fill="#080808"/>
<rect x="355.7" y="418.4" width="4.8" height="5.2" rx="1" fill="#080808"/>
<rect x="369.2" y="418.4" width="7.3" height="5.2" rx="1" fill="#080808"/>
<rect x="382.6" y="418.4" width="4.9" height="5.2" rx="1" fill="#080808"/>
<rect x="397.4" y="418.4" width="6.1" height="5.2" rx="1" fill="#080808"/>
<rect x="413.3" y="418.4" width="4.9" height="5.2" rx="1" fill="#080808"/>
<rect x="425.6" y="418.4" width="6.1" height="5.2" rx="1" fill="#080808"/>
</g>
</g>
<rect x="382.8" y="394.8" width="22.19999999999999" height="21.69999999999999" fill="none" stroke="#f09aa4" stroke-width="1.1" stroke-dasharray="2.0,1.2"/>
<rect x="354.60" y="374.20" width="78.20" height="55.60" fill="none" stroke="#444" stroke-width="0.6"/>
<text x="357.10" y="382.50" font-size="6.6" text-anchor="start" fill="#222" font-weight="normal">30% strain</text>
<line x1="407.80" y1="427.00" x2="428.60" y2="427.00" stroke="#111" stroke-width="1.3"/>
<line x1="359.40" y1="400.20" x2="359.40" y2="390.20" stroke="#111" stroke-width="0.7"/>
<path d="M359.40000000000003,388.59999999999997 L358.00000000000006,390.67999999999995 L360.8,390.67999999999995Z" fill="#111"/>
<line x1="359.40" y1="415.70" x2="359.40" y2="425.00" stroke="#111" stroke-width="0.7"/>
<path d="M359.40000000000003,426.59999999999997 L358.00000000000006,424.52 L360.8,424.52Z" fill="#111"/>
<g clip-path="url(#cj11)">
<rect x="434.4" y="374.2" width="78.5" height="55.60000000000002" fill="url(#chev2)" filter="url(#bl06)"/>
<rect x="453.6" y="383.6" width="39.299999999999955" height="39.19999999999999" fill="#5a5a5a" opacity="0.42" filter="url(#bl3)"/>
<g filter="url(#bl06)">
<rect x="478.6" y="373.4" width="2.4" height="5.2" rx="1" fill="#080808"/>
<rect x="493.3" y="373.4" width="4.9" height="5.2" rx="1" fill="#080808"/>
<rect x="505.6" y="373.4" width="6.1" height="5.2" rx="1" fill="#080808"/>
<rect x="435.7" y="387.4" width="12.3" height="5.2" rx="1" fill="#080808"/>
<rect x="434.5" y="397.4" width="4.9" height="5.2" rx="1" fill="#080808"/>
<rect x="492.0" y="397.4" width="5.0" height="5.2" rx="1" fill="#080808"/>
<rect x="506.8" y="397.4" width="4.9" height="5.2" rx="1" fill="#080808"/>
<rect x="436.9" y="410.4" width="11.1" height="5.2" rx="1" fill="#080808"/>
<rect x="434.5" y="420.4" width="3.5" height="5.2" rx="1" fill="#080808"/>
<rect x="448.0" y="420.4" width="3.6" height="5.2" rx="1" fill="#080808"/>
<rect x="461.4" y="420.4" width="3.6" height="5.2" rx="1" fill="#080808"/>
<rect x="477.4" y="420.4" width="3.6" height="5.2" rx="1" fill="#080808"/>
<rect x="506.8" y="420.4" width="3.7" height="5.2" rx="1" fill="#080808"/>
</g>
</g>
<rect x="456.6" y="386.6" width="33.299999999999955" height="33.19999999999999" fill="none" stroke="#f09aa4" stroke-width="1.1" stroke-dasharray="2.0,1.2"/>
<rect x="434.40" y="374.20" width="78.50" height="55.60" fill="none" stroke="#444" stroke-width="0.6"/>
<text x="436.90" y="382.50" font-size="6.6" text-anchor="start" fill="#222" font-weight="normal">30% strain</text>
<line x1="487.90" y1="427.00" x2="508.70" y2="427.00" stroke="#111" stroke-width="1.3"/>
<line x1="439.20" y1="400.20" x2="439.20" y2="390.20" stroke="#111" stroke-width="0.7"/>
<path d="M439.2,388.59999999999997 L437.8,390.67999999999995 L440.59999999999997,390.67999999999995Z" fill="#111"/>
<line x1="439.20" y1="415.70" x2="439.20" y2="425.00" stroke="#111" stroke-width="0.7"/>
<path d="M439.2,426.59999999999997 L437.8,424.52 L440.59999999999997,424.52Z" fill="#111"/>
<text x="500.00" y="427.20" font-size="6.6" text-anchor="middle" fill="#222" font-weight="normal">500 µm</text>
<text x="521.00" y="298.80" font-size="8.5" text-anchor="start" fill="#000" font-weight="bold">k</text>
<rect x="525.50" y="306.30" width="47.10" height="20.00" fill="#fff" stroke="#333" stroke-width="0.6"/>
<g clip-path="url(#ks0)">
<path d="M524.3,324.5 A2.2,2.2 0 0 1 528.7,324.5" fill="#fff" stroke="#666" stroke-width="0.45"/>
<path d="M528.3,324.5 A2.2,2.2 0 0 1 532.7,324.5" fill="#fff" stroke="#666" stroke-width="0.45"/>
<path d="M532.3,324.5 A2.2,2.2 0 0 1 536.7,324.5" fill="#fff" stroke="#666" stroke-width="0.45"/>
<path d="M536.3,324.5 A2.2,2.2 0 0 1 540.7,324.5" fill="#fff" stroke="#666" stroke-width="0.45"/>
<path d="M540.3,324.5 A2.2,2.2 0 0 1 544.7,324.5" fill="#fff" stroke="#666" stroke-width="0.45"/>
<path d="M544.3,324.5 A2.2,2.2 0 0 1 548.7,324.5" fill="#fff" stroke="#666" stroke-width="0.45"/>
<path d="M548.3,324.5 A2.2,2.2 0 0 1 552.7,324.5" fill="#fff" stroke="#666" stroke-width="0.45"/>
<path d="M552.3,324.5 A2.2,2.2 0 0 1 556.7,324.5" fill="#fff" stroke="#666" stroke-width="0.45"/>
<path d="M556.3,324.5 A2.2,2.2 0 0 1 560.7,324.5" fill="#fff" stroke="#666" stroke-width="0.45"/>
<path d="M560.3,324.5 A2.2,2.2 0 0 1 564.7,324.5" fill="#fff" stroke="#666" stroke-width="0.45"/>
<path d="M564.3,324.5 A2.2,2.2 0 0 1 568.7,324.5" fill="#fff" stroke="#666" stroke-width="0.45"/>
<path d="M568.3,324.5 A2.2,2.2 0 0 1 572.7,324.5" fill="#fff" stroke="#666" stroke-width="0.45"/>
<path d="M572.3,324.5 A2.2,2.2 0 0 1 576.7,324.5" fill="#fff" stroke="#666" stroke-width="0.45"/>
<path d="M526.3,327 A2.2,2.2 0 0 1 530.7,327" fill="#fff" stroke="#777" stroke-width="0.45"/>
<path d="M530.3,327 A2.2,2.2 0 0 1 534.7,327" fill="#fff" stroke="#777" stroke-width="0.45"/>
<path d="M534.3,327 A2.2,2.2 0 0 1 538.7,327" fill="#fff" stroke="#777" stroke-width="0.45"/>
<path d="M538.3,327 A2.2,2.2 0 0 1 542.7,327" fill="#fff" stroke="#777" stroke-width="0.45"/>
<path d="M542.3,327 A2.2,2.2 0 0 1 546.7,327" fill="#fff" stroke="#777" stroke-width="0.45"/>
<path d="M546.3,327 A2.2,2.2 0 0 1 550.7,327" fill="#fff" stroke="#777" stroke-width="0.45"/>
<path d="M550.3,327 A2.2,2.2 0 0 1 554.7,327" fill="#fff" stroke="#777" stroke-width="0.45"/>
<path d="M554.3,327 A2.2,2.2 0 0 1 558.7,327" fill="#fff" stroke="#777" stroke-width="0.45"/>
<path d="M558.3,327 A2.2,2.2 0 0 1 562.7,327" fill="#fff" stroke="#777" stroke-width="0.45"/>
<path d="M562.3,327 A2.2,2.2 0 0 1 566.7,327" fill="#fff" stroke="#777" stroke-width="0.45"/>
<path d="M566.3,327 A2.2,2.2 0 0 1 570.7,327" fill="#fff" stroke="#777" stroke-width="0.45"/>
<path d="M570.3,327 A2.2,2.2 0 0 1 574.7,327" fill="#fff" stroke="#777" stroke-width="0.45"/>
<path d="M574.3,327 A2.2,2.2 0 0 1 578.7,327" fill="#fff" stroke="#777" stroke-width="0.45"/>
<path d="M540.5,313.92 C541.22,316.08 542.9,317.52 542.9,318.48 A2.4,2.4 0 0 1 538.1,318.48 C538.1,317.52 539.78,316.08 540.5,313.92Z" fill="#a8c2e6"/>
<path d="M549.5,309.22 C550.52,312.28 552.9,314.32 552.9,315.68 A3.4,3.4 0 0 1 546.1,315.68 C546.1,314.32 548.48,312.28 549.5,309.22Z" fill="#a8c2e6"/>
<path d="M558.5,314.42 C559.22,316.58 560.9,318.02 560.9,318.98 A2.4,2.4 0 0 1 556.1,318.98 C556.1,318.02 557.78,316.58 558.5,314.42Z" fill="#a8c2e6"/>
<circle cx="540.5" cy="324.3" r="1.3" fill="#9cb6e0" stroke="#6a8ac8" stroke-width="0.3"/>
<circle cx="545.0" cy="324.3" r="1.3" fill="#9cb6e0" stroke="#6a8ac8" stroke-width="0.3"/>
<circle cx="549.5" cy="324.3" r="1.3" fill="#9cb6e0" stroke="#6a8ac8" stroke-width="0.3"/>
<circle cx="554.0" cy="324.3" r="1.3" fill="#9cb6e0" stroke="#6a8ac8" stroke-width="0.3"/>
<circle cx="558.5" cy="324.3" r="1.3" fill="#9cb6e0" stroke="#6a8ac8" stroke-width="0.3"/>
</g>
<rect x="525.50" y="306.30" width="47.10" height="20.00" fill="none" stroke="#333" stroke-width="0.6"/>
<rect x="581.30" y="306.30" width="46.40" height="20.00" fill="#fff" stroke="#333" stroke-width="0.6"/>
<g clip-path="url(#ks1)">
<path d="M580.1,324.5 A2.2,2.2 0 0 1 584.5,324.5" fill="#fff" stroke="#666" stroke-width="0.45"/>
<path d="M584.1,324.5 A2.2,2.2 0 0 1 588.5,324.5" fill="#fff" stroke="#666" stroke-width="0.45"/>
<path d="M588.1,324.5 A2.2,2.2 0 0 1 592.5,324.5" fill="#fff" stroke="#666" stroke-width="0.45"/>
<path d="M592.1,324.5 A2.2,2.2 0 0 1 596.5,324.5" fill="#fff" stroke="#666" stroke-width="0.45"/>
<path d="M596.1,324.5 A2.2,2.2 0 0 1 600.5,324.5" fill="#fff" stroke="#666" stroke-width="0.45"/>
<path d="M600.1,324.5 A2.2,2.2 0 0 1 604.5,324.5" fill="#fff" stroke="#666" stroke-width="0.45"/>
<path d="M604.1,324.5 A2.2,2.2 0 0 1 608.5,324.5" fill="#fff" stroke="#666" stroke-width="0.45"/>
<path d="M608.1,324.5 A2.2,2.2 0 0 1 612.5,324.5" fill="#fff" stroke="#666" stroke-width="0.45"/>
<path d="M612.1,324.5 A2.2,2.2 0 0 1 616.5,324.5" fill="#fff" stroke="#666" stroke-width="0.45"/>
<path d="M616.1,324.5 A2.2,2.2 0 0 1 620.5,324.5" fill="#fff" stroke="#666" stroke-width="0.45"/>
<path d="M620.1,324.5 A2.2,2.2 0 0 1 624.5,324.5" fill="#fff" stroke="#666" stroke-width="0.45"/>
<path d="M624.1,324.5 A2.2,2.2 0 0 1 628.5,324.5" fill="#fff" stroke="#666" stroke-width="0.45"/>
<path d="M628.1,324.5 A2.2,2.2 0 0 1 632.5,324.5" fill="#fff" stroke="#666" stroke-width="0.45"/>
<path d="M582.1,327 A2.2,2.2 0 0 1 586.5,327" fill="#fff" stroke="#777" stroke-width="0.45"/>
<path d="M586.1,327 A2.2,2.2 0 0 1 590.5,327" fill="#fff" stroke="#777" stroke-width="0.45"/>
<path d="M590.1,327 A2.2,2.2 0 0 1 594.5,327" fill="#fff" stroke="#777" stroke-width="0.45"/>
<path d="M594.1,327 A2.2,2.2 0 0 1 598.5,327" fill="#fff" stroke="#777" stroke-width="0.45"/>
<path d="M598.1,327 A2.2,2.2 0 0 1 602.5,327" fill="#fff" stroke="#777" stroke-width="0.45"/>
<path d="M602.1,327 A2.2,2.2 0 0 1 606.5,327" fill="#fff" stroke="#777" stroke-width="0.45"/>
<path d="M606.1,327 A2.2,2.2 0 0 1 610.5,327" fill="#fff" stroke="#777" stroke-width="0.45"/>
<path d="M610.1,327 A2.2,2.2 0 0 1 614.5,327" fill="#fff" stroke="#777" stroke-width="0.45"/>
<path d="M614.1,327 A2.2,2.2 0 0 1 618.5,327" fill="#fff" stroke="#777" stroke-width="0.45"/>
<path d="M618.1,327 A2.2,2.2 0 0 1 622.5,327" fill="#fff" stroke="#777" stroke-width="0.45"/>
<path d="M622.1,327 A2.2,2.2 0 0 1 626.5,327" fill="#fff" stroke="#777" stroke-width="0.45"/>
<path d="M626.1,327 A2.2,2.2 0 0 1 630.5,327" fill="#fff" stroke="#777" stroke-width="0.45"/>
<path d="M630.1,327 A2.2,2.2 0 0 1 634.5,327" fill="#fff" stroke="#777" stroke-width="0.45"/>
<path d="M600.3,306.6 L608.7,306.6 L604.5,321Z" fill="#a890f0" opacity="0.85"/>
<ellipse cx="604.5" cy="323.2" rx="8" ry="2.8" fill="#9078e0" opacity="0.8"/>
</g>
<rect x="581.30" y="306.30" width="46.40" height="20.00" fill="none" stroke="#333" stroke-width="0.6"/>
<rect x="637.70" y="306.30" width="46.60" height="20.00" fill="#fff" stroke="#333" stroke-width="0.6"/>
<g clip-path="url(#ks2)">
<path d="M636.5,324.5 A2.2,2.2 0 0 1 640.9,324.5" fill="#fff" stroke="#666" stroke-width="0.45"/>
<path d="M640.5,324.5 A2.2,2.2 0 0 1 644.9,324.5" fill="#fff" stroke="#666" stroke-width="0.45"/>
<path d="M644.5,324.5 A2.2,2.2 0 0 1 648.9,324.5" fill="#fff" stroke="#666" stroke-width="0.45"/>
<path d="M648.5,324.5 A2.2,2.2 0 0 1 652.9,324.5" fill="#fff" stroke="#666" stroke-width="0.45"/>
<path d="M652.5,324.5 A2.2,2.2 0 0 1 656.9,324.5" fill="#fff" stroke="#666" stroke-width="0.45"/>
<path d="M656.5,324.5 A2.2,2.2 0 0 1 660.9,324.5" fill="#fff" stroke="#666" stroke-width="0.45"/>
<path d="M660.5,324.5 A2.2,2.2 0 0 1 664.9,324.5" fill="#fff" stroke="#666" stroke-width="0.45"/>
<path d="M664.5,324.5 A2.2,2.2 0 0 1 668.9,324.5" fill="#fff" stroke="#666" stroke-width="0.45"/>
<path d="M668.5,324.5 A2.2,2.2 0 0 1 672.9,324.5" fill="#fff" stroke="#666" stroke-width="0.45"/>
<path d="M672.5,324.5 A2.2,2.2 0 0 1 676.9,324.5" fill="#fff" stroke="#666" stroke-width="0.45"/>
<path d="M676.5,324.5 A2.2,2.2 0 0 1 680.9,324.5" fill="#fff" stroke="#666" stroke-width="0.45"/>
<path d="M680.5,324.5 A2.2,2.2 0 0 1 684.9,324.5" fill="#fff" stroke="#666" stroke-width="0.45"/>
<path d="M684.5,324.5 A2.2,2.2 0 0 1 688.9,324.5" fill="#fff" stroke="#666" stroke-width="0.45"/>
<path d="M638.5,327 A2.2,2.2 0 0 1 642.9,327" fill="#fff" stroke="#777" stroke-width="0.45"/>
<path d="M642.5,327 A2.2,2.2 0 0 1 646.9,327" fill="#fff" stroke="#777" stroke-width="0.45"/>
<path d="M646.5,327 A2.2,2.2 0 0 1 650.9,327" fill="#fff" stroke="#777" stroke-width="0.45"/>
<path d="M650.5,327 A2.2,2.2 0 0 1 654.9,327" fill="#fff" stroke="#777" stroke-width="0.45"/>
<path d="M654.5,327 A2.2,2.2 0 0 1 658.9,327" fill="#fff" stroke="#777" stroke-width="0.45"/>
<path d="M658.5,327 A2.2,2.2 0 0 1 662.9,327" fill="#fff" stroke="#777" stroke-width="0.45"/>
<path d="M662.5,327 A2.2,2.2 0 0 1 666.9,327" fill="#fff" stroke="#777" stroke-width="0.45"/>
<path d="M666.5,327 A2.2,2.2 0 0 1 670.9,327" fill="#fff" stroke="#777" stroke-width="0.45"/>
<path d="M670.5,327 A2.2,2.2 0 0 1 674.9,327" fill="#fff" stroke="#777" stroke-width="0.45"/>
<path d="M674.5,327 A2.2,2.2 0 0 1 678.9,327" fill="#fff" stroke="#777" stroke-width="0.45"/>
<path d="M678.5,327 A2.2,2.2 0 0 1 682.9,327" fill="#fff" stroke="#777" stroke-width="0.45"/>
<path d="M682.5,327 A2.2,2.2 0 0 1 686.9,327" fill="#fff" stroke="#777" stroke-width="0.45"/>
<path d="M686.5,327 A2.2,2.2 0 0 1 690.9,327" fill="#fff" stroke="#777" stroke-width="0.45"/>
<rect x="649.7" y="307" width="23" height="14" fill="#fde6e8"/>
<line x1="649.7" y1="307" x2="649.7" y2="322" stroke="#e0505a" stroke-width="0.5" stroke-dasharray="1,0.8"/>
<line x1="672.7" y1="307" x2="672.7" y2="322" stroke="#e0505a" stroke-width="0.5" stroke-dasharray="1,0.8"/>
<line x1="651.7" y1="314" x2="656.7" y2="314" stroke="#e0505a" stroke-width="0.5"/>
<line x1="665.7" y1="314" x2="670.7" y2="314" stroke="#e0505a" stroke-width="0.5"/>
<path d="M650.7,314 l1.6,-1 l0,2Z M671.7,314 l-1.6,-1 l0,2Z" fill="#e0505a"/>
<circle cx="653.7" cy="324.3" r="1.4" fill="#7d98d8" stroke="#4a6ab8" stroke-width="0.3"/>
<circle cx="657.7" cy="324.3" r="1.4" fill="#7d98d8" stroke="#4a6ab8" stroke-width="0.3"/>
<circle cx="661.7" cy="324.3" r="1.4" fill="#7d98d8" stroke="#4a6ab8" stroke-width="0.3"/>
<circle cx="665.7" cy="324.3" r="1.4" fill="#7d98d8" stroke="#4a6ab8" stroke-width="0.3"/>
<circle cx="669.7" cy="324.3" r="1.4" fill="#7d98d8" stroke="#4a6ab8" stroke-width="0.3"/>
<line x1="640.2" y1="311" x2="645.7" y2="311" stroke="#333" stroke-width="0.45"/>
<path d="M639.7,311 l1.4,-0.8 l0,1.6Z" fill="#333"/>
<line x1="676.3" y1="311" x2="681.8" y2="311" stroke="#333" stroke-width="0.45"/>
<path d="M682.3,311 l-1.4,-0.8 l0,1.6Z" fill="#333"/>
<line x1="640.2" y1="314" x2="645.7" y2="314" stroke="#333" stroke-width="0.45"/>
<path d="M639.7,314 l1.4,-0.8 l0,1.6Z" fill="#333"/>
<line x1="676.3" y1="314" x2="681.8" y2="314" stroke="#333" stroke-width="0.45"/>
<path d="M682.3,314 l-1.4,-0.8 l0,1.6Z" fill="#333"/>
<line x1="640.2" y1="317" x2="645.7" y2="317" stroke="#333" stroke-width="0.45"/>
<path d="M639.7,317 l1.4,-0.8 l0,1.6Z" fill="#333"/>
<line x1="676.3" y1="317" x2="681.8" y2="317" stroke="#333" stroke-width="0.45"/>
<path d="M682.3,317 l-1.4,-0.8 l0,1.6Z" fill="#333"/>
</g>
<rect x="637.70" y="306.30" width="46.60" height="20.00" fill="none" stroke="#333" stroke-width="0.6"/>
<line x1="574.00" y1="316.30" x2="578.40" y2="316.30" stroke="#222" stroke-width="0.8"/>
<path d="M580,316.3 L577.8,314.9 L577.8,317.7Z" fill="#222"/>
<line x1="629.50" y1="316.30" x2="634.40" y2="316.30" stroke="#222" stroke-width="0.8"/>
<path d="M636,316.3 L633.8,314.9 L633.8,317.7Z" fill="#222"/>
<rect x="525.50" y="328.80" width="73.90" height="9.30" fill="#ececec" stroke="#555" stroke-width="0.6"/>
<rect x="601.10" y="328.80" width="83.20" height="9.30" fill="#ececec" stroke="#555" stroke-width="0.6"/>
<text x="562.40" y="335.90" font-size="6.8" text-anchor="middle" fill="#262626" font-weight="normal">(i) Before stretch</text>
<text x="642.70" y="335.90" font-size="6.8" text-anchor="middle" fill="#262626" font-weight="normal">(ii) After stretch</text>
<g clip-path="url(#ck00)">
<rect x="526.00" y="339.70" width="73.30" height="43.00" fill="#060606" stroke="none" stroke-width="0.8"/>
<line x1="578.0" y1="339.0" x2="600.0" y2="372.0" stroke="#3a3428" stroke-width="5"/>
<line x1="578.0" y1="339.0" x2="600.0" y2="372.0" stroke="#a89878" stroke-width="2.6"/>
<line x1="578.6" y1="339.0" x2="600.6" y2="372.0" stroke="#f4f0e6" stroke-width="0.8"/>
<line x1="524.0" y1="365.0" x2="533.0" y2="384.0" stroke="#3a3428" stroke-width="5"/>
<line x1="524.0" y1="365.0" x2="533.0" y2="384.0" stroke="#a89878" stroke-width="2.6"/>
<line x1="524.6" y1="365.0" x2="533.6" y2="384.0" stroke="#f4f0e6" stroke-width="0.8"/>
<polygon points="527.1,352.6 578.6,340.6 597.7,366.4 594.0,370.5 538.8,382.7 527.0,373.0" fill="url(#fab)"/>
<g fill="#aebcc8" opacity="0.7" filter="url(#bl04)"><circle cx="565.3" cy="350.1" r="2.8"/><path d="M563.3,353.1 L580.3,352.1 L580.3,354.1 L569.3,356.1 L570.3,365.1 L580.3,367.1 L582.3,371.1 L568.3,370.1 L562.3,375.1 L559.3,373.1 L562.3,365.1 L554.3,364.1 L546.3,362.1 L546.3,359.1 L558.3,358.1Z"/><circle cx="539.3" cy="360.1" r="3"/></g>
</g>
<rect x="583.3" y="378.1" width="11" height="1.7" rx="0.8" fill="#444" stroke="#ddd" stroke-width="0.5"/>
<g clip-path="url(#ck01)">
<rect x="601.10" y="339.70" width="83.20" height="43.00" fill="#060606" stroke="none" stroke-width="0.8"/>
<line x1="664.0" y1="339.0" x2="686.0" y2="368.0" stroke="#3a3428" stroke-width="5"/>
<line x1="664.0" y1="339.0" x2="686.0" y2="368.0" stroke="#a89878" stroke-width="2.6"/>
<line x1="664.6" y1="339.0" x2="686.6" y2="368.0" stroke="#f4f0e6" stroke-width="0.8"/>
<line x1="599.0" y1="364.0" x2="611.0" y2="384.0" stroke="#3a3428" stroke-width="5"/>
<line x1="599.0" y1="364.0" x2="611.0" y2="384.0" stroke="#a89878" stroke-width="2.6"/>
<line x1="599.6" y1="364.0" x2="611.6" y2="384.0" stroke="#f4f0e6" stroke-width="0.8"/>
<polygon points="601.3,352.4 663.5,339.5 684.5,358.0 684.5,363.3 612.9,382.7 601.0,369.0" fill="url(#fab)"/>
<g fill="#aebcc8" opacity="0.7" filter="url(#bl04)"><circle cx="645.9" cy="350.1" r="2.8"/><path d="M643.9,353.1 L660.9,352.1 L660.9,354.1 L649.9,356.1 L650.9,365.1 L660.9,367.1 L662.9,371.1 L648.9,370.1 L642.9,375.1 L639.9,373.1 L642.9,365.1 L634.9,364.1 L626.9,362.1 L626.9,359.1 L638.9,358.1Z"/><circle cx="619.9" cy="360.1" r="3"/></g>
<line x1="629.5" y1="352.2" x2="618.7" y2="353.3" stroke="#111" stroke-width="0.9"/>
<path d="M617.5,353.4 L620.8,354.4 L620.6,351.8Z" fill="#111"/>
<line x1="643.6" y1="347.2" x2="654.3" y2="344.7" stroke="#111" stroke-width="0.9"/>
<path d="M655.5,344.4 L652.1,343.9 L652.6,346.4Z" fill="#111"/>
</g>
<rect x="668.3" y="378.1" width="11" height="1.7" rx="0.8" fill="#444" stroke="#ddd" stroke-width="0.5"/>
<text x="673.50" y="376.50" font-size="6.4" text-anchor="middle" fill="#fff" font-weight="bold">1 cm</text>
<g clip-path="url(#ck10)">
<rect x="526.00" y="384.40" width="73.30" height="45.40" fill="#060606" stroke="none" stroke-width="0.8"/>
<line x1="574.0" y1="384.0" x2="600.0" y2="412.0" stroke="#3a3428" stroke-width="5"/>
<line x1="574.0" y1="384.0" x2="600.0" y2="412.0" stroke="#a89878" stroke-width="2.6"/>
<line x1="574.6" y1="384.0" x2="600.6" y2="412.0" stroke="#f4f0e6" stroke-width="0.8"/>
<line x1="524.0" y1="414.0" x2="545.0" y2="432.0" stroke="#3a3428" stroke-width="5"/>
<line x1="524.0" y1="414.0" x2="545.0" y2="432.0" stroke="#a89878" stroke-width="2.6"/>
<line x1="524.6" y1="414.0" x2="545.6" y2="432.0" stroke="#f4f0e6" stroke-width="0.8"/>
<path d="M526.0,384.4 L571.4459999999999,384.4 L526.0,400.28999999999996Z" fill="#8c96a4"/>
<polygon points="526.0,397.4 574.5,385.8 597.0,407.0 596.9,409.5 549.6,430.0 526.0,416.0" fill="url(#fab)"/>
<g fill="none" stroke="#b4c2cc" stroke-width="1.6" opacity="0.8" filter="url(#bl04)">
<path d="M560.4,401.5 A5,5 0 0 0 560.4,408.1"/>
<path d="M567.9,401.5 A5,5 0 0 1 567.9,408.1"/>
<path d="M557.0,398.6 A9.5,9.5 0 0 0 557.0,411.1"/>
<path d="M571.2,398.6 A9.5,9.5 0 0 1 571.2,411.1"/>
<path d="M553.6,395.6 A14,14 0 0 0 553.6,414.1"/>
<path d="M574.6,395.6 A14,14 0 0 1 574.6,414.1"/>
</g>
<path d="M564.1,401.8 L572.1,425.8 L556.1,425.8Z" fill="#b4c2cc" opacity="0.8" filter="url(#bl04)"/>
</g>
<rect x="583.3" y="425.2" width="11" height="1.7" rx="0.8" fill="#444" stroke="#ddd" stroke-width="0.5"/>
<g clip-path="url(#ck11)">
<rect x="601.10" y="384.40" width="83.20" height="45.40" fill="#060606" stroke="none" stroke-width="0.8"/>
<line x1="664.0" y1="384.0" x2="686.0" y2="410.0" stroke="#3a3428" stroke-width="5"/>
<line x1="664.0" y1="384.0" x2="686.0" y2="410.0" stroke="#a89878" stroke-width="2.6"/>
<line x1="664.6" y1="384.0" x2="686.6" y2="410.0" stroke="#f4f0e6" stroke-width="0.8"/>
<line x1="599.0" y1="408.0" x2="618.0" y2="432.0" stroke="#3a3428" stroke-width="5"/>
<line x1="599.0" y1="408.0" x2="618.0" y2="432.0" stroke="#a89878" stroke-width="2.6"/>
<line x1="599.6" y1="408.0" x2="618.6" y2="432.0" stroke="#f4f0e6" stroke-width="0.8"/>
<polygon points="601.0,393.6 664.3,384.2 684.5,405.6 684.5,409.0 620.4,430.0 601.0,413.9" fill="url(#fab)"/>
<g fill="none" stroke="#b4c2cc" stroke-width="1.6" opacity="0.8" filter="url(#bl04)">
<path d="M639.0,401.5 A5,5 0 0 0 639.0,408.1"/>
<path d="M646.5,401.5 A5,5 0 0 1 646.5,408.1"/>
<path d="M635.6,398.6 A9.5,9.5 0 0 0 635.6,411.1"/>
<path d="M649.8,398.6 A9.5,9.5 0 0 1 649.8,411.1"/>
<path d="M632.2,395.6 A14,14 0 0 0 632.2,414.1"/>
<path d="M653.2,395.6 A14,14 0 0 1 653.2,414.1"/>
</g>
<path d="M642.7,401.8 L650.7,425.8 L634.7,425.8Z" fill="#b4c2cc" opacity="0.8" filter="url(#bl04)"/>
<line x1="628" y1="398.2" x2="617.9" y2="400.5" stroke="#111" stroke-width="0.9"/>
<path d="M616.7,400.8 L620.1,401.3 L619.6,398.8Z" fill="#111"/>
<line x1="633.6" y1="392.2" x2="643.6" y2="390" stroke="#111" stroke-width="0.9"/>
<path d="M644.8,389.7 L641.4,389.2 L641.9,391.7Z" fill="#111"/>
</g>
<rect x="668.3" y="425.2" width="11" height="1.7" rx="0.8" fill="#444" stroke="#ddd" stroke-width="0.5"/>
<text x="673.50" y="423.60" font-size="6.4" text-anchor="middle" fill="#fff" font-weight="bold">1 cm</text>
<text x="0.80" y="447.60" font-size="8.5" text-anchor="start" fill="#000" font-weight="bold">l</text>
<rect x="25.40" y="453.90" width="139.10" height="104.10" fill="none" stroke="#5a5a5a" stroke-width="0.8"/>
<line x1="25.40" y1="547.00" x2="26.90" y2="547.00" stroke="#5a5a5a" stroke-width="0.8"/>
<line x1="164.50" y1="547.00" x2="163.00" y2="547.00" stroke="#5a5a5a" stroke-width="0.8"/>
<text x="23.40" y="549.50" font-size="7.6" text-anchor="end" fill="#262626" font-weight="normal">0</text>
<line x1="25.40" y1="524.00" x2="26.90" y2="524.00" stroke="#5a5a5a" stroke-width="0.8"/>
<line x1="164.50" y1="524.00" x2="163.00" y2="524.00" stroke="#5a5a5a" stroke-width="0.8"/>
<text x="23.40" y="526.50" font-size="7.6" text-anchor="end" fill="#262626" font-weight="normal">0.1</text>
<line x1="25.40" y1="501.00" x2="26.90" y2="501.00" stroke="#5a5a5a" stroke-width="0.8"/>
<line x1="164.50" y1="501.00" x2="163.00" y2="501.00" stroke="#5a5a5a" stroke-width="0.8"/>
<text x="23.40" y="503.50" font-size="7.6" text-anchor="end" fill="#262626" font-weight="normal">0.2</text>
<line x1="25.40" y1="478.00" x2="26.90" y2="478.00" stroke="#5a5a5a" stroke-width="0.8"/>
<line x1="164.50" y1="478.00" x2="163.00" y2="478.00" stroke="#5a5a5a" stroke-width="0.8"/>
<text x="23.40" y="480.50" font-size="7.6" text-anchor="end" fill="#262626" font-weight="normal">0.3</text>
<line x1="25.40" y1="455.00" x2="26.90" y2="455.00" stroke="#5a5a5a" stroke-width="0.8"/>
<line x1="164.50" y1="455.00" x2="163.00" y2="455.00" stroke="#5a5a5a" stroke-width="0.8"/>
<text x="23.40" y="457.50" font-size="7.6" text-anchor="end" fill="#262626" font-weight="normal">0.4</text>
<line x1="25.40" y1="558.00" x2="25.40" y2="556.50" stroke="#5a5a5a" stroke-width="0.8"/>
<line x1="25.40" y1="453.90" x2="25.40" y2="455.40" stroke="#5a5a5a" stroke-width="0.8"/>
<text x="25.40" y="567.60" font-size="7.6" text-anchor="middle" fill="#262626" font-weight="normal">0</text>
<line x1="53.22" y1="558.00" x2="53.22" y2="556.50" stroke="#5a5a5a" stroke-width="0.8"/>
<line x1="53.22" y1="453.90" x2="53.22" y2="455.40" stroke="#5a5a5a" stroke-width="0.8"/>
<text x="53.22" y="567.60" font-size="7.6" text-anchor="middle" fill="#262626" font-weight="normal">20</text>
<line x1="81.04" y1="558.00" x2="81.04" y2="556.50" stroke="#5a5a5a" stroke-width="0.8"/>
<line x1="81.04" y1="453.90" x2="81.04" y2="455.40" stroke="#5a5a5a" stroke-width="0.8"/>
<text x="81.04" y="567.60" font-size="7.6" text-anchor="middle" fill="#262626" font-weight="normal">40</text>
<line x1="108.86" y1="558.00" x2="108.86" y2="556.50" stroke="#5a5a5a" stroke-width="0.8"/>
<line x1="108.86" y1="453.90" x2="108.86" y2="455.40" stroke="#5a5a5a" stroke-width="0.8"/>
<text x="108.86" y="567.60" font-size="7.6" text-anchor="middle" fill="#262626" font-weight="normal">60</text>
<line x1="136.68" y1="558.00" x2="136.68" y2="556.50" stroke="#5a5a5a" stroke-width="0.8"/>
<line x1="136.68" y1="453.90" x2="136.68" y2="455.40" stroke="#5a5a5a" stroke-width="0.8"/>
<text x="136.68" y="567.60" font-size="7.6" text-anchor="middle" fill="#262626" font-weight="normal">80</text>
<line x1="164.50" y1="558.00" x2="164.50" y2="556.50" stroke="#5a5a5a" stroke-width="0.8"/>
<line x1="164.50" y1="453.90" x2="164.50" y2="455.40" stroke="#5a5a5a" stroke-width="0.8"/>
<text x="164.50" y="567.60" font-size="7.6" text-anchor="middle" fill="#262626" font-weight="normal">100</text>
<text x="94.50" y="575.20" font-size="7.6" text-anchor="middle" fill="#262626" font-weight="normal">Strain (%)</text>
<text x="8.30" y="508.40" font-size="7.6" text-anchor="middle" fill="#262626" font-weight="normal" transform="rotate(-90 8.3 508.4)">Strength (N mm<tspan dy="-2.5" font-size="5">−1</tspan><tspan dy="2.5">)</tspan></text>
<polyline points="25.40,547.00 26.10,546.95 26.80,546.89 27.50,546.84 28.20,546.79 28.89,546.73 29.59,546.68 30.29,546.63 30.99,546.57 31.69,546.52 32.39,546.47 33.09,546.42 33.79,546.36 34.49,546.31 35.19,546.26 35.88,546.20 36.58,546.15 37.28,546.10 37.98,546.04 38.68,545.99 39.38,545.94 40.08,545.88 40.78,545.83 41.48,545.78 42.18,545.72 42.87,545.67 43.57,545.62 44.27,545.56 44.97,545.51 45.67,545.46 46.37,545.41 47.07,545.35 47.77,545.30 48.47,545.25 49.17,545.19 49.86,545.14 50.56,545.09 51.26,545.03 51.96,544.98 52.66,544.93 53.36,544.87 54.06,544.82 54.76,544.77 55.46,544.71 56.16,544.66 56.85,544.61 57.55,544.55 58.25,544.50 58.95,544.45 59.65,544.39 60.35,544.34 61.05,544.29 61.75,544.24 62.45,544.18 63.15,544.13 63.84,544.08 64.54,544.02 65.24,543.97 65.94,543.92 66.64,543.86 67.34,543.81 68.04,543.76 68.74,543.70 69.44,543.65 70.14,543.60 70.83,543.54 71.53,543.49 72.23,543.44 72.93,543.38 73.63,543.33 74.33,543.28 75.03,543.23 75.73,543.17 76.43,543.12 77.13,543.07 77.82,543.01 78.52,542.96 79.22,542.91 79.92,542.85 80.62,542.80 81.32,542.75 82.02,542.69 82.72,542.64 83.42,542.59 84.12,542.53 84.81,542.48 85.51,542.43 86.21,542.37 86.91,542.32 87.61,542.27 88.31,542.22 89.01,542.16 89.71,542.11 90.41,542.06 91.11,542.00 91.80,541.95 92.50,541.90 93.20,541.84 93.90,541.79 94.60,541.74 95.30,541.68 96.00,541.63 96.70,541.58 97.40,541.52 98.10,541.47 98.79,541.42 99.49,541.36 100.19,541.31 100.89,541.26 101.59,541.20 102.29,541.15 102.99,541.10 103.69,541.05 104.39,540.99 105.09,540.94 105.78,540.89 106.48,540.83 107.18,540.78 107.88,540.73 108.58,540.67 109.28,540.62 109.98,540.57 110.68,540.51 111.38,540.46 112.08,540.41 112.77,540.35 113.47,540.30 114.17,540.25 114.87,540.19 115.57,540.14 116.27,540.09 116.97,540.04 117.67,539.98 118.37,539.93 119.07,539.88 119.76,539.82 120.46,539.77 121.16,539.72 121.86,539.66 122.56,539.61 123.26,539.56 123.96,539.50 124.66,539.45 125.36,539.40 126.06,539.34 126.75,539.29 127.45,539.24 128.15,539.18 128.85,539.13 129.55,539.08 130.25,539.03 130.95,538.97 131.65,538.92 132.35,538.87 133.05,538.81 133.74,538.76 134.44,538.71 135.14,538.65 135.84,538.60 136.54,538.55 137.24,538.49 137.94,538.44 138.64,538.39 139.34,538.33 140.04,538.28 140.73,538.23 141.43,538.17 142.13,538.12 142.83,538.07 143.53,538.01 144.23,537.96 144.93,537.91 145.63,537.86 146.33,537.80 147.03,537.75 147.72,537.70 148.42,537.64 149.12,537.59 149.82,537.54 150.52,537.48 151.22,537.43 151.92,537.38 152.62,537.32 153.32,537.27 154.02,537.22 154.71,537.16 155.41,537.11 156.11,537.06 156.81,537.00 157.51,536.95 158.21,536.90 158.91,536.85 159.61,536.79 160.31,536.74 161.01,536.69 161.70,536.63 162.40,536.58 163.10,536.53 163.80,536.47 164.50,536.42" fill="none" stroke="#b4b4b4" stroke-width="1.0" stroke-linejoin="round"/>
<polyline points="25.40,547.00 26.10,544.85 26.80,542.84 27.50,540.92 28.20,539.10 28.89,537.54 29.59,536.19 30.29,534.94 30.99,533.81 31.69,532.83 32.39,532.01 33.09,531.32 33.79,530.67 34.49,530.07 35.19,529.52 35.88,529.00 36.58,528.53 37.28,528.09 37.98,527.68 38.68,527.31 39.38,526.96 40.08,526.63 40.78,526.32 41.48,526.02 42.18,525.75 42.87,525.49 43.57,525.24 44.27,525.00 44.97,524.77 45.67,524.55 46.37,524.34 47.07,524.13 47.77,523.92 48.47,523.71 49.17,523.50 49.86,523.28 50.56,523.06 51.26,522.84 51.96,522.61 52.66,522.36 53.36,522.11 54.06,521.85 54.76,521.59 55.46,521.32 56.16,521.06 56.85,520.79 57.55,520.52 58.25,520.25 58.95,519.98 59.65,519.71 60.35,519.44 61.05,519.16 61.75,518.89 62.45,518.61 63.15,518.33 63.84,518.05 64.54,517.77 65.24,517.49 65.94,517.21 66.64,516.92 67.34,516.64 68.04,516.35 68.74,516.07 69.44,515.78 70.14,515.49 70.83,515.20 71.53,514.91 72.23,514.62 72.93,514.33 73.63,514.03 74.33,513.74 75.03,513.45 75.73,513.15 76.43,512.86 77.13,512.56 77.82,512.26 78.52,511.97 79.22,511.67 79.92,511.37 80.62,511.07 81.32,510.77 82.02,510.47 82.72,510.17 83.42,509.87 84.12,509.57 84.81,509.26 85.51,508.96 86.21,508.66 86.91,508.35 87.61,508.05 88.31,507.74 89.01,507.43 89.71,507.13 90.41,506.82 91.11,506.51 91.80,506.20 92.50,505.89 93.20,505.57 93.90,505.26 94.60,504.95 95.30,504.63 96.00,504.31 96.70,503.99 97.40,503.68 98.10,503.36 98.79,503.03 99.49,502.71 100.19,502.39 100.89,502.06 101.59,501.73 102.29,501.40 102.99,501.07 103.69,500.74 104.39,500.41 105.09,500.07 105.78,499.74 106.48,499.40 107.18,499.06 107.88,498.72 108.58,498.38 109.28,498.03 109.98,497.69 110.68,497.34 111.38,496.99 112.08,496.64 112.77,496.29 113.47,495.94 114.17,495.59 114.87,495.23 115.57,494.88 116.27,494.52 116.97,494.16 117.67,493.80 118.37,493.43 119.07,493.07 119.76,492.71 120.46,492.34 121.16,491.97 121.86,491.60 122.56,491.23 123.26,490.85 123.96,490.48 124.66,490.10 125.36,489.72 126.06,489.34 126.75,488.95 127.45,488.57 128.15,488.18 128.85,487.79 129.55,487.40 130.25,487.01 130.95,486.61 131.65,486.22 132.35,485.82 133.05,485.41 133.74,485.01 134.44,484.60 135.14,484.20 135.84,483.79 136.54,483.37 137.24,482.96 137.94,482.54 138.64,482.12 139.34,481.70 140.04,481.27 140.73,480.84 141.43,480.41 142.13,479.98 142.83,479.54 143.53,479.10 144.23,478.66 144.93,478.22 145.63,477.78 146.33,477.33 147.03,476.88 147.72,476.42 148.42,475.97 149.12,475.51 149.82,475.05 150.52,474.59 151.22,474.13 151.92,473.66 152.62,473.19 153.32,472.72 154.02,472.25 154.71,471.77 155.41,471.29 156.11,470.81 156.81,470.33 157.51,469.85 158.21,469.36 158.91,468.87 159.61,468.38 160.31,467.89 161.01,467.39 161.70,466.90 162.40,466.40 163.10,465.90 163.80,465.39 164.50,464.89" fill="none" stroke="#e0646e" stroke-width="1.0" stroke-linejoin="round"/>
<polyline points="25.40,547.00 26.10,546.85 26.80,546.70 27.50,546.55 28.20,546.41 28.89,546.26 29.59,546.12 30.29,545.97 30.99,545.83 31.69,545.69 32.39,545.55 33.09,545.41 33.79,545.27 34.49,545.13 35.19,544.99 35.88,544.86 36.58,544.72 37.28,544.59 37.98,544.46 38.68,544.33 39.38,544.20 40.08,544.07 40.78,543.95 41.48,543.82 42.18,543.70 42.87,543.58 43.57,543.46 44.27,543.34 44.97,543.22 45.67,543.10 46.37,542.99 47.07,542.87 47.77,542.76 48.47,542.65 49.17,542.54 49.86,542.43 50.56,542.33 51.26,542.22 51.96,542.12 52.66,542.02 53.36,541.92 54.06,541.82 54.76,541.73 55.46,541.63 56.16,541.54 56.85,541.45 57.55,541.36 58.25,541.28 58.95,541.19 59.65,541.11 60.35,541.02 61.05,540.94 61.75,540.86 62.45,540.78 63.15,540.70 63.84,540.63 64.54,540.55 65.24,540.47 65.94,540.40 66.64,540.32 67.34,540.24 68.04,540.17 68.74,540.10 69.44,540.02 70.14,539.95 70.83,539.87 71.53,539.80 72.23,539.72 72.93,539.65 73.63,539.57 74.33,539.49 75.03,539.42 75.73,539.34 76.43,539.26 77.13,539.18 77.82,539.10 78.52,539.02 79.22,538.94 79.92,538.86 80.62,538.77 81.32,538.69 82.02,538.60 82.72,538.51 83.42,538.43 84.12,538.34 84.81,538.25 85.51,538.17 86.21,538.08 86.91,538.00 87.61,537.91 88.31,537.82 89.01,537.74 89.71,537.65 90.41,537.56 91.11,537.47 91.80,537.39 92.50,537.30 93.20,537.21 93.90,537.12 94.60,537.03 95.30,536.94 96.00,536.85 96.70,536.76 97.40,536.66 98.10,536.57 98.79,536.48 99.49,536.38 100.19,536.29 100.89,536.19 101.59,536.10 102.29,536.00 102.99,535.90 103.69,535.80 104.39,535.70 105.09,535.60 105.78,535.50 106.48,535.40 107.18,535.29 107.88,535.19 108.58,535.08 109.28,534.98 109.98,534.87 110.68,534.76 111.38,534.64 112.08,534.53 112.77,534.41 113.47,534.30 114.17,534.18 114.87,534.06 115.57,533.94 116.27,533.82 116.97,533.70 117.67,533.57 118.37,533.45 119.07,533.32 119.76,533.19 120.46,533.07 121.16,532.94 121.86,532.81 122.56,532.68 123.26,532.55 123.96,532.41 124.66,532.28 125.36,532.15 126.06,532.02 126.75,531.88 127.45,531.75 128.15,531.62 128.85,531.48 129.55,531.35 130.25,531.21 130.95,531.08 131.65,530.94 132.35,530.81 133.05,530.67 133.74,530.54 134.44,530.41 135.14,530.27 135.84,530.14 136.54,530.01 137.24,529.87 137.94,529.74 138.64,529.61 139.34,529.47 140.04,529.34 140.73,529.21 141.43,529.07 142.13,528.94 142.83,528.80 143.53,528.66 144.23,528.53 144.93,528.39 145.63,528.26 146.33,528.12 147.03,527.98 147.72,527.85 148.42,527.71 149.12,527.57 149.82,527.43 150.52,527.29 151.22,527.15 151.92,527.01 152.62,526.88 153.32,526.74 154.02,526.60 154.71,526.45 155.41,526.31 156.11,526.17 156.81,526.03 157.51,525.89 158.21,525.75 158.91,525.61 159.61,525.46 160.31,525.32 161.01,525.18 161.70,525.04 162.40,524.89 163.10,524.75 163.80,524.60 164.50,524.46" fill="none" stroke="#3c62d0" stroke-width="1.1" stroke-linejoin="round"/>
<line x1="31.00" y1="462.80" x2="39.80" y2="462.80" stroke="#b4b4b4" stroke-width="1.0"/>
<text x="41.80" y="465.30" font-size="7.5" text-anchor="start" fill="#262626" font-weight="normal">Original</text>
<line x1="31.00" y1="471.80" x2="39.80" y2="471.80" stroke="#e0646e" stroke-width="1.0"/>
<text x="41.80" y="474.30" font-size="7.5" text-anchor="start" fill="#262626" font-weight="normal">60 mm s<tspan dy="-2.5" font-size="5">-1</tspan></text>
<line x1="31.00" y1="480.60" x2="39.80" y2="480.60" stroke="#3c62d0" stroke-width="1.0"/>
<text x="41.80" y="483.10" font-size="7.5" text-anchor="start" fill="#262626" font-weight="normal">900 mm s<tspan dy="-2.5" font-size="5">-1</tspan></text>
<text x="172.80" y="447.60" font-size="8.5" text-anchor="start" fill="#000" font-weight="bold">m</text>
<rect x="207.60" y="453.90" width="129.50" height="104.60" fill="none" stroke="#5a5a5a" stroke-width="0.8"/>
<line x1="207.60" y1="538.80" x2="209.10" y2="538.80" stroke="#5a5a5a" stroke-width="0.8"/>
<line x1="337.10" y1="538.80" x2="335.60" y2="538.80" stroke="#5a5a5a" stroke-width="0.8"/>
<text x="205.60" y="541.30" font-size="7.6" text-anchor="end" fill="#262626" font-weight="normal">0.3</text>
<line x1="207.60" y1="516.00" x2="209.10" y2="516.00" stroke="#5a5a5a" stroke-width="0.8"/>
<line x1="337.10" y1="516.00" x2="335.60" y2="516.00" stroke="#5a5a5a" stroke-width="0.8"/>
<text x="205.60" y="518.50" font-size="7.6" text-anchor="end" fill="#262626" font-weight="normal">0.6</text>
<line x1="207.60" y1="493.20" x2="209.10" y2="493.20" stroke="#5a5a5a" stroke-width="0.8"/>
<line x1="337.10" y1="493.20" x2="335.60" y2="493.20" stroke="#5a5a5a" stroke-width="0.8"/>
<text x="205.60" y="495.70" font-size="7.6" text-anchor="end" fill="#262626" font-weight="normal">0.9</text>
<line x1="207.60" y1="470.40" x2="209.10" y2="470.40" stroke="#5a5a5a" stroke-width="0.8"/>
<line x1="337.10" y1="470.40" x2="335.60" y2="470.40" stroke="#5a5a5a" stroke-width="0.8"/>
<text x="205.60" y="472.90" font-size="7.6" text-anchor="end" fill="#262626" font-weight="normal">1.2</text>
<line x1="214.10" y1="558.50" x2="214.10" y2="557.00" stroke="#5a5a5a" stroke-width="0.8"/>
<line x1="214.10" y1="453.90" x2="214.10" y2="455.40" stroke="#5a5a5a" stroke-width="0.8"/>
<text x="214.10" y="568.10" font-size="7.6" text-anchor="middle" fill="#262626" font-weight="normal">0</text>
<line x1="239.14" y1="558.50" x2="239.14" y2="557.00" stroke="#5a5a5a" stroke-width="0.8"/>
<line x1="239.14" y1="453.90" x2="239.14" y2="455.40" stroke="#5a5a5a" stroke-width="0.8"/>
<text x="239.14" y="568.10" font-size="7.6" text-anchor="middle" fill="#262626" font-weight="normal">200</text>
<line x1="264.18" y1="558.50" x2="264.18" y2="557.00" stroke="#5a5a5a" stroke-width="0.8"/>
<line x1="264.18" y1="453.90" x2="264.18" y2="455.40" stroke="#5a5a5a" stroke-width="0.8"/>
<text x="264.18" y="568.10" font-size="7.6" text-anchor="middle" fill="#262626" font-weight="normal">400</text>
<line x1="289.22" y1="558.50" x2="289.22" y2="557.00" stroke="#5a5a5a" stroke-width="0.8"/>
<line x1="289.22" y1="453.90" x2="289.22" y2="455.40" stroke="#5a5a5a" stroke-width="0.8"/>
<text x="289.22" y="568.10" font-size="7.6" text-anchor="middle" fill="#262626" font-weight="normal">600</text>
<line x1="314.26" y1="558.50" x2="314.26" y2="557.00" stroke="#5a5a5a" stroke-width="0.8"/>
<line x1="314.26" y1="453.90" x2="314.26" y2="455.40" stroke="#5a5a5a" stroke-width="0.8"/>
<text x="314.26" y="568.10" font-size="7.6" text-anchor="middle" fill="#262626" font-weight="normal">800</text>
<text x="272.70" y="575.80" font-size="7.6" text-anchor="middle" fill="#262626" font-weight="normal">Laser speed (mm s<tspan dy="-2.5" font-size="5">-1</tspan><tspan dy="2.5">)</tspan></text>
<text x="272.70" y="449.80" font-size="7.5" text-anchor="middle" fill="#262626" font-weight="normal">14.9-fold increase (max.)</text>
<text x="180.00" y="508.00" font-size="7.0" text-anchor="middle" fill="#262626" font-weight="normal" transform="rotate(-90 180.0 508.0)">Normalized</text>
<text x="190.00" y="513.00" font-size="7.0" text-anchor="middle" fill="#262626" font-weight="normal" transform="rotate(-90 190.0 513.0)">Young's modulus</text>
<polyline points="216.60,506.12 221.61,485.60 226.62,490.16 251.66,530.44 276.70,538.80 301.74,543.36 326.78,547.16" fill="none" stroke="#7c7c7c" stroke-width="1.1" stroke-linejoin="round"/>
<line x1="216.60" y1="512.20" x2="216.60" y2="499.28" stroke="#7c7c7c" stroke-width="1.0"/>
<line x1="215.10" y1="512.20" x2="218.10" y2="512.20" stroke="#7c7c7c" stroke-width="1.0"/>
<line x1="215.10" y1="499.28" x2="218.10" y2="499.28" stroke="#7c7c7c" stroke-width="1.0"/>
<circle cx="216.60" cy="506.12" r="2.2" fill="#7c7c7c"/>
<line x1="226.62" y1="509.92" x2="226.62" y2="470.40" stroke="#7c7c7c" stroke-width="1.0"/>
<line x1="225.12" y1="509.92" x2="228.12" y2="509.92" stroke="#7c7c7c" stroke-width="1.0"/>
<line x1="225.12" y1="470.40" x2="228.12" y2="470.40" stroke="#7c7c7c" stroke-width="1.0"/>
<circle cx="226.62" cy="490.16" r="2.2" fill="#7c7c7c"/>
<line x1="251.66" y1="541.08" x2="251.66" y2="520.56" stroke="#7c7c7c" stroke-width="1.0"/>
<line x1="250.16" y1="541.08" x2="253.16" y2="541.08" stroke="#7c7c7c" stroke-width="1.0"/>
<line x1="250.16" y1="520.56" x2="253.16" y2="520.56" stroke="#7c7c7c" stroke-width="1.0"/>
<circle cx="251.66" cy="530.44" r="2.2" fill="#7c7c7c"/>
<line x1="276.70" y1="544.12" x2="276.70" y2="531.96" stroke="#7c7c7c" stroke-width="1.0"/>
<line x1="275.20" y1="544.12" x2="278.20" y2="544.12" stroke="#7c7c7c" stroke-width="1.0"/>
<line x1="275.20" y1="531.96" x2="278.20" y2="531.96" stroke="#7c7c7c" stroke-width="1.0"/>
<circle cx="276.70" cy="538.80" r="2.2" fill="#7c7c7c"/>
<line x1="301.74" y1="545.64" x2="301.74" y2="541.08" stroke="#7c7c7c" stroke-width="1.0"/>
<line x1="300.24" y1="545.64" x2="303.24" y2="545.64" stroke="#7c7c7c" stroke-width="1.0"/>
<line x1="300.24" y1="541.08" x2="303.24" y2="541.08" stroke="#7c7c7c" stroke-width="1.0"/>
<circle cx="301.74" cy="543.36" r="2.2" fill="#7c7c7c"/>
<line x1="221.61" y1="494.72" x2="221.61" y2="476.48" stroke="#f4a0a8" stroke-width="1.0"/>
<line x1="220.11" y1="494.72" x2="223.11" y2="494.72" stroke="#f4a0a8" stroke-width="1.0"/>
<line x1="220.11" y1="476.48" x2="223.11" y2="476.48" stroke="#f4a0a8" stroke-width="1.0"/>
<circle cx="221.61" cy="485.60" r="2.0" fill="#f4a0a8"/>
<circle cx="326.78" cy="547.16" r="2.0" fill="#6a90ee"/>
<polygon points="221.61,467.00 222.45,469.24 224.85,469.35 222.97,470.84 223.61,473.15 221.61,471.83 219.61,473.15 220.25,470.84 218.38,469.35 220.77,469.24" fill="#f4a0a8"/>
<polygon points="326.78,536.92 327.62,539.16 330.01,539.27 328.14,540.76 328.78,543.07 326.78,541.75 324.78,543.07 325.42,540.76 323.55,539.27 325.94,539.16" fill="#6a90ee"/>
<rect x="212.30" y="458.90" width="7.80" height="5.00" fill="#a8a8a8" stroke="#333" stroke-width="0.6"/>
<text x="221.60" y="463.70" font-size="7" text-anchor="start" fill="#262626" font-weight="normal">Original</text>
<rect x="249.20" y="458.90" width="7.80" height="5.00" fill="#f4a2a8" stroke="#333" stroke-width="0.6"/>
<text x="258.50" y="463.70" font-size="7" text-anchor="start" fill="#262626" font-weight="normal">60 mm s<tspan dy="-2.5" font-size="5">-1</tspan></text>
<rect x="292.40" y="458.90" width="7.80" height="5.00" fill="#6e94ee" stroke="#333" stroke-width="0.6"/>
<text x="301.70" y="463.70" font-size="7" text-anchor="start" fill="#262626" font-weight="normal">900 mm s<tspan dy="-2.5" font-size="5">-1</tspan></text>
<line x1="210.60" y1="552.40" x2="218.40" y2="552.40" stroke="#7c7c7c" stroke-width="1.2"/>
<line x1="214.50" y1="548.60" x2="214.50" y2="556.20" stroke="#7c7c7c" stroke-width="1.2"/>
<text x="220.50" y="554.90" font-size="7.6" text-anchor="start" fill="#262626" font-weight="normal">PP-infiltrated textile</text>
<line x1="272.40" y1="474.00" x2="272.40" y2="504.10" stroke="#5a5a5a" stroke-width="0.7"/>
<line x1="272.40" y1="504.10" x2="323.30" y2="504.10" stroke="#5a5a5a" stroke-width="0.7"/>
<line x1="272.40" y1="503.90" x2="273.70" y2="503.90" stroke="#5a5a5a" stroke-width="0.8"/>
<text x="270.60" y="506.30" font-size="6.8" text-anchor="end" fill="#262626" font-weight="normal">0</text>
<line x1="272.40" y1="494.16" x2="273.70" y2="494.16" stroke="#5a5a5a" stroke-width="0.8"/>
<text x="270.60" y="496.56" font-size="6.8" text-anchor="end" fill="#262626" font-weight="normal">0.2</text>
<line x1="272.40" y1="484.42" x2="273.70" y2="484.42" stroke="#5a5a5a" stroke-width="0.8"/>
<text x="270.60" y="486.82" font-size="6.8" text-anchor="end" fill="#262626" font-weight="normal">0.4</text>
<line x1="272.40" y1="474.68" x2="273.70" y2="474.68" stroke="#5a5a5a" stroke-width="0.8"/>
<text x="270.60" y="477.08" font-size="6.8" text-anchor="end" fill="#262626" font-weight="normal">0.6</text>
<rect x="278.40" y="502.44" width="9.80" height="1.46" fill="#a8a8a8" stroke="#333" stroke-width="0.6"/>
<line x1="283.30" y1="502.93" x2="283.30" y2="501.95" stroke="#222" stroke-width="0.6"/>
<line x1="282.00" y1="501.95" x2="284.60" y2="501.95" stroke="#222" stroke-width="0.6"/>
<circle cx="281.50" cy="502.68" r="0.85" fill="#111"/>
<circle cx="283.30" cy="502.15" r="0.85" fill="#111"/>
<circle cx="285.10" cy="502.39" r="0.85" fill="#111"/>
<text x="283.30" y="511.50" font-size="6.8" text-anchor="middle" fill="#262626" font-weight="normal">0</text>
<rect x="293.10" y="499.76" width="9.80" height="4.14" fill="#6e94ee" stroke="#333" stroke-width="0.6"/>
<line x1="298.00" y1="500.25" x2="298.00" y2="499.27" stroke="#222" stroke-width="0.6"/>
<line x1="296.70" y1="499.27" x2="299.30" y2="499.27" stroke="#222" stroke-width="0.6"/>
<circle cx="296.20" cy="500.00" r="0.85" fill="#111"/>
<circle cx="298.00" cy="499.47" r="0.85" fill="#111"/>
<circle cx="299.80" cy="499.71" r="0.85" fill="#111"/>
<text x="298.00" y="511.50" font-size="6.8" text-anchor="middle" fill="#262626" font-weight="normal">1.2</text>
<rect x="308.00" y="479.79" width="9.80" height="24.11" fill="#f4a2a8" stroke="#333" stroke-width="0.6"/>
<line x1="312.90" y1="482.23" x2="312.90" y2="477.36" stroke="#222" stroke-width="0.6"/>
<line x1="311.60" y1="477.36" x2="314.20" y2="477.36" stroke="#222" stroke-width="0.6"/>
<circle cx="311.10" cy="481.01" r="0.85" fill="#111"/>
<circle cx="312.90" cy="478.33" r="0.85" fill="#111"/>
<circle cx="314.70" cy="479.55" r="0.85" fill="#111"/>
<text x="312.90" y="511.50" font-size="6.8" text-anchor="middle" fill="#262626" font-weight="normal">17.9</text>
<text x="294.10" y="519.40" font-size="6.8" text-anchor="middle" fill="#262626" font-weight="normal">Fluence (mJ mm<tspan dy="-2.5" font-size="5">-2</tspan><tspan dy="2.5">)</tspan></text>
<text x="256.80" y="489.20" font-size="6.8" text-anchor="middle" fill="#262626" font-weight="normal" transform="rotate(-90 256.8 489.2)">Y (N mm<tspan dy="-2.5" font-size="5">-1</tspan><tspan dy="2.5">)</tspan></text>
<text x="347.50" y="447.60" font-size="8.5" text-anchor="start" fill="#000" font-weight="bold">n</text>
<rect x="374.30" y="454.40" width="137.70" height="96.70" fill="none" stroke="#5a5a5a" stroke-width="0.8"/>
<line x1="374.30" y1="551.10" x2="375.80" y2="551.10" stroke="#5a5a5a" stroke-width="0.8"/>
<line x1="512.00" y1="551.10" x2="510.50" y2="551.10" stroke="#5a5a5a" stroke-width="0.8"/>
<text x="372.30" y="553.60" font-size="7.6" text-anchor="end" fill="#262626" font-weight="normal">0</text>
<line x1="374.30" y1="534.34" x2="375.80" y2="534.34" stroke="#5a5a5a" stroke-width="0.8"/>
<line x1="512.00" y1="534.34" x2="510.50" y2="534.34" stroke="#5a5a5a" stroke-width="0.8"/>
<text x="372.30" y="536.84" font-size="7.6" text-anchor="end" fill="#262626" font-weight="normal">20</text>
<line x1="374.30" y1="517.58" x2="375.80" y2="517.58" stroke="#5a5a5a" stroke-width="0.8"/>
<line x1="512.00" y1="517.58" x2="510.50" y2="517.58" stroke="#5a5a5a" stroke-width="0.8"/>
<text x="372.30" y="520.08" font-size="7.6" text-anchor="end" fill="#262626" font-weight="normal">40</text>
<line x1="374.30" y1="500.82" x2="375.80" y2="500.82" stroke="#5a5a5a" stroke-width="0.8"/>
<line x1="512.00" y1="500.82" x2="510.50" y2="500.82" stroke="#5a5a5a" stroke-width="0.8"/>
<text x="372.30" y="503.32" font-size="7.6" text-anchor="end" fill="#262626" font-weight="normal">60</text>
<line x1="374.30" y1="484.06" x2="375.80" y2="484.06" stroke="#5a5a5a" stroke-width="0.8"/>
<line x1="512.00" y1="484.06" x2="510.50" y2="484.06" stroke="#5a5a5a" stroke-width="0.8"/>
<text x="372.30" y="486.56" font-size="7.6" text-anchor="end" fill="#262626" font-weight="normal">80</text>
<line x1="374.30" y1="467.30" x2="375.80" y2="467.30" stroke="#5a5a5a" stroke-width="0.8"/>
<line x1="512.00" y1="467.30" x2="510.50" y2="467.30" stroke="#5a5a5a" stroke-width="0.8"/>
<text x="372.30" y="469.80" font-size="7.6" text-anchor="end" fill="#262626" font-weight="normal">100</text>
<rect x="390.45" y="467.30" width="14.10" height="83.80" fill="#ababab" stroke="#222" stroke-width="0.7"/>
<line x1="397.50" y1="551.10" x2="397.50" y2="549.60" stroke="#5a5a5a" stroke-width="0.8"/>
<line x1="397.50" y1="454.40" x2="397.50" y2="455.90" stroke="#5a5a5a" stroke-width="0.8"/>
<text x="401.00" y="558.10" font-size="7.6" text-anchor="end" fill="#262626" font-weight="normal" transform="rotate(-30 401.0 558.1)">Control</text>
<rect x="413.35" y="469.40" width="14.10" height="81.70" fill="#ababab" stroke="#222" stroke-width="0.7"/>
<line x1="420.40" y1="551.10" x2="420.40" y2="549.60" stroke="#5a5a5a" stroke-width="0.8"/>
<line x1="420.40" y1="454.40" x2="420.40" y2="455.90" stroke="#5a5a5a" stroke-width="0.8"/>
<text x="423.90" y="558.10" font-size="7.6" text-anchor="end" fill="#262626" font-weight="normal" transform="rotate(-30 423.9 558.1)">Original</text>
<rect x="436.45" y="469.40" width="14.10" height="81.70" fill="#7a9cf0" stroke="#222" stroke-width="0.7"/>
<line x1="443.50" y1="551.10" x2="443.50" y2="549.60" stroke="#5a5a5a" stroke-width="0.8"/>
<line x1="443.50" y1="454.40" x2="443.50" y2="455.90" stroke="#5a5a5a" stroke-width="0.8"/>
<text x="447.00" y="558.10" font-size="7.6" text-anchor="end" fill="#262626" font-weight="normal" transform="rotate(-30 447.0 558.1)">60 mm s<tspan dy="-2.5" font-size="5">-1</tspan></text>
<rect x="459.35" y="469.40" width="14.10" height="81.70" fill="#3a60c8" stroke="#222" stroke-width="0.7"/>
<line x1="466.40" y1="551.10" x2="466.40" y2="549.60" stroke="#5a5a5a" stroke-width="0.8"/>
<line x1="466.40" y1="454.40" x2="466.40" y2="455.90" stroke="#5a5a5a" stroke-width="0.8"/>
<text x="469.90" y="558.10" font-size="7.6" text-anchor="end" fill="#262626" font-weight="normal" transform="rotate(-30 469.9 558.1)">900 mm s<tspan dy="-2.5" font-size="5">-1</tspan></text>
<rect x="482.45" y="509.62" width="14.10" height="41.48" fill="#f4a2a8" stroke="#222" stroke-width="0.7"/>
<line x1="489.50" y1="551.10" x2="489.50" y2="549.60" stroke="#5a5a5a" stroke-width="0.8"/>
<line x1="489.50" y1="454.40" x2="489.50" y2="455.90" stroke="#5a5a5a" stroke-width="0.8"/>
<text x="493.00" y="558.10" font-size="7.6" text-anchor="end" fill="#262626" font-weight="normal" transform="rotate(-30 493.0 558.1)">Uncleaned</text>
<circle cx="441.50" cy="469.90" r="0.9" fill="#111"/>
<circle cx="443.50" cy="469.06" r="0.9" fill="#111"/>
<circle cx="445.50" cy="468.56" r="0.9" fill="#111"/>
<circle cx="464.40" cy="469.90" r="0.9" fill="#111"/>
<circle cx="466.40" cy="469.06" r="0.9" fill="#111"/>
<circle cx="468.40" cy="468.56" r="0.9" fill="#111"/>
<line x1="489.50" y1="516.74" x2="489.50" y2="502.50" stroke="#222" stroke-width="0.6"/>
<line x1="488.20" y1="502.50" x2="490.80" y2="502.50" stroke="#222" stroke-width="0.6"/>
<circle cx="486.3" cy="517.58" r="0.9" fill="#111"/>
<circle cx="489.5" cy="502.92" r="0.9" fill="#111"/>
<circle cx="493" cy="506.69" r="0.9" fill="#111"/>
<text x="354.40" y="505.00" font-size="7.0" text-anchor="middle" fill="#262626" font-weight="normal" transform="rotate(-90 354.4 505.0)">Cell viability (%)</text>
<text x="521.60" y="448.40" font-size="8.5" text-anchor="start" fill="#000" font-weight="bold">o</text>
<line x1="547.80" y1="564.20" x2="659.10" y2="564.20" stroke="#5a5a5a" stroke-width="0.8"/>
<line x1="547.80" y1="456.10" x2="659.10" y2="456.10" stroke="#5a5a5a" stroke-width="0.8"/>
<line x1="547.80" y1="456.10" x2="547.80" y2="564.20" stroke="#f4b4b8" stroke-width="0.8"/>
<line x1="659.10" y1="456.10" x2="659.10" y2="564.20" stroke="#9cb4f0" stroke-width="0.8"/>
<line x1="547.80" y1="564.20" x2="549.30" y2="564.20" stroke="#f4b4b8" stroke-width="0.8"/>
<text x="545.80" y="566.70" font-size="7.6" text-anchor="end" fill="#f3a7ad" font-weight="normal">0</text>
<line x1="547.80" y1="530.30" x2="549.30" y2="530.30" stroke="#f4b4b8" stroke-width="0.8"/>
<text x="545.80" y="532.80" font-size="7.6" text-anchor="end" fill="#f3a7ad" font-weight="normal">0.5</text>
<line x1="547.80" y1="496.40" x2="549.30" y2="496.40" stroke="#f4b4b8" stroke-width="0.8"/>
<text x="545.80" y="498.90" font-size="7.6" text-anchor="end" fill="#f3a7ad" font-weight="normal">1.0</text>
<line x1="547.80" y1="462.50" x2="549.30" y2="462.50" stroke="#f4b4b8" stroke-width="0.8"/>
<text x="545.80" y="465.00" font-size="7.6" text-anchor="end" fill="#f3a7ad" font-weight="normal">1.5</text>
<line x1="659.10" y1="548.80" x2="658.10" y2="548.80" stroke="#9cb4f0" stroke-width="0.8"/>
<line x1="659.10" y1="518.00" x2="658.10" y2="518.00" stroke="#9cb4f0" stroke-width="0.8"/>
<line x1="659.10" y1="487.20" x2="658.10" y2="487.20" stroke="#9cb4f0" stroke-width="0.8"/>
<line x1="659.10" y1="564.20" x2="657.60" y2="564.20" stroke="#9cb4f0" stroke-width="0.8"/>
<text x="661.10" y="566.70" font-size="7.6" text-anchor="start" fill="#87a3ee" font-weight="normal">0</text>
<line x1="659.10" y1="533.40" x2="657.60" y2="533.40" stroke="#9cb4f0" stroke-width="0.8"/>
<text x="661.10" y="535.90" font-size="7.6" text-anchor="start" fill="#87a3ee" font-weight="normal">200</text>
<line x1="659.10" y1="502.60" x2="657.60" y2="502.60" stroke="#9cb4f0" stroke-width="0.8"/>
<text x="661.10" y="505.10" font-size="7.6" text-anchor="start" fill="#87a3ee" font-weight="normal">400</text>
<line x1="659.10" y1="471.80" x2="657.60" y2="471.80" stroke="#9cb4f0" stroke-width="0.8"/>
<text x="661.10" y="474.30" font-size="7.6" text-anchor="start" fill="#87a3ee" font-weight="normal">600</text>
<text x="547.30" y="452.80" font-size="6.8" text-anchor="start" fill="#f3a7ad" font-weight="normal">× 10<tspan dy="-2.5" font-size="5">3</tspan></text>
<rect x="559.20" y="473.35" width="11.70" height="90.85" fill="#f4a0a8" stroke="#222" stroke-width="0.7"/>
<rect x="570.90" y="475.65" width="11.70" height="88.55" fill="#7a9cf0" stroke="#222" stroke-width="0.7"/>
<line x1="570.90" y1="564.20" x2="570.90" y2="562.70" stroke="#5a5a5a" stroke-width="0.8"/>
<line x1="570.90" y1="456.10" x2="570.90" y2="457.60" stroke="#5a5a5a" stroke-width="0.8"/>
<text x="569.70" y="573.60" font-size="7.4" text-anchor="middle" fill="#262626" font-weight="normal">Original</text>
<line x1="565.05" y1="474.70" x2="565.05" y2="471.99" stroke="#222" stroke-width="0.6"/>
<circle cx="563.05" cy="473.69" r="0.9" fill="#111"/>
<circle cx="565.05" cy="473.35" r="0.9" fill="#111"/>
<circle cx="567.05" cy="473.01" r="0.9" fill="#111"/>
<line x1="576.75" y1="480.27" x2="576.75" y2="471.03" stroke="#222" stroke-width="0.6"/>
<line x1="575.45" y1="471.03" x2="578.05" y2="471.03" stroke="#222" stroke-width="0.6"/>
<circle cx="574.55" cy="471.95" r="0.9" fill="#111"/>
<circle cx="576.75" cy="479.35" r="0.9" fill="#111"/>
<circle cx="578.95" cy="474.26" r="0.9" fill="#111"/>
<rect x="591.80" y="477.42" width="11.70" height="86.78" fill="#f4a0a8" stroke="#222" stroke-width="0.7"/>
<rect x="603.50" y="479.50" width="11.70" height="84.70" fill="#7a9cf0" stroke="#222" stroke-width="0.7"/>
<line x1="603.50" y1="564.20" x2="603.50" y2="562.70" stroke="#5a5a5a" stroke-width="0.8"/>
<line x1="603.50" y1="456.10" x2="603.50" y2="457.60" stroke="#5a5a5a" stroke-width="0.8"/>
<text x="605.50" y="573.60" font-size="7.4" text-anchor="middle" fill="#262626" font-weight="normal">60 mm s<tspan dy="-2.5" font-size="5">-1</tspan></text>
<line x1="597.65" y1="478.77" x2="597.65" y2="476.06" stroke="#222" stroke-width="0.6"/>
<circle cx="595.65" cy="477.76" r="0.9" fill="#111"/>
<circle cx="597.65" cy="477.42" r="0.9" fill="#111"/>
<circle cx="599.65" cy="477.08" r="0.9" fill="#111"/>
<line x1="609.35" y1="484.12" x2="609.35" y2="474.88" stroke="#222" stroke-width="0.6"/>
<line x1="608.05" y1="474.88" x2="610.65" y2="474.88" stroke="#222" stroke-width="0.6"/>
<circle cx="607.15" cy="475.80" r="0.9" fill="#111"/>
<circle cx="609.35" cy="483.20" r="0.9" fill="#111"/>
<circle cx="611.55" cy="478.11" r="0.9" fill="#111"/>
<rect x="624.60" y="474.70" width="11.70" height="89.50" fill="#f4a0a8" stroke="#222" stroke-width="0.7"/>
<rect x="636.30" y="494.90" width="11.70" height="69.30" fill="#7a9cf0" stroke="#222" stroke-width="0.7"/>
<line x1="636.30" y1="564.20" x2="636.30" y2="562.70" stroke="#5a5a5a" stroke-width="0.8"/>
<line x1="636.30" y1="456.10" x2="636.30" y2="457.60" stroke="#5a5a5a" stroke-width="0.8"/>
<text x="642.80" y="573.60" font-size="7.4" text-anchor="middle" fill="#262626" font-weight="normal">900 mm s<tspan dy="-2.5" font-size="5">-1</tspan></text>
<line x1="630.45" y1="476.06" x2="630.45" y2="473.35" stroke="#222" stroke-width="0.6"/>
<circle cx="628.45" cy="475.04" r="0.9" fill="#111"/>
<circle cx="630.45" cy="474.70" r="0.9" fill="#111"/>
<circle cx="632.45" cy="474.37" r="0.9" fill="#111"/>
<line x1="642.15" y1="502.60" x2="642.15" y2="487.20" stroke="#222" stroke-width="0.6"/>
<line x1="640.85" y1="487.20" x2="643.45" y2="487.20" stroke="#222" stroke-width="0.6"/>
<circle cx="639.95" cy="488.74" r="0.9" fill="#111"/>
<circle cx="642.15" cy="501.06" r="0.9" fill="#111"/>
<circle cx="644.35" cy="492.59" r="0.9" fill="#111"/>
<text x="533.00" y="513.00" font-size="7.9" text-anchor="middle" fill="#f3a7ad" font-weight="normal" transform="rotate(-90 533.0 513.0)">WVTR (g m<tspan dy="-2.5" font-size="5">-2</tspan><tspan dy="2.5">day</tspan><tspan dy="-2.5" font-size="5">-1</tspan><tspan dy="2.5">)</tspan></text>
<text x="683.30" y="511.80" font-size="7.7" text-anchor="middle" fill="#87a3ee" font-weight="normal" transform="rotate(-90 683.3 511.8)">AP (mm s<tspan dy="-2.5" font-size="5">-1</tspan><tspan dy="2.5">)</tspan></text>
</svg></body></html>
